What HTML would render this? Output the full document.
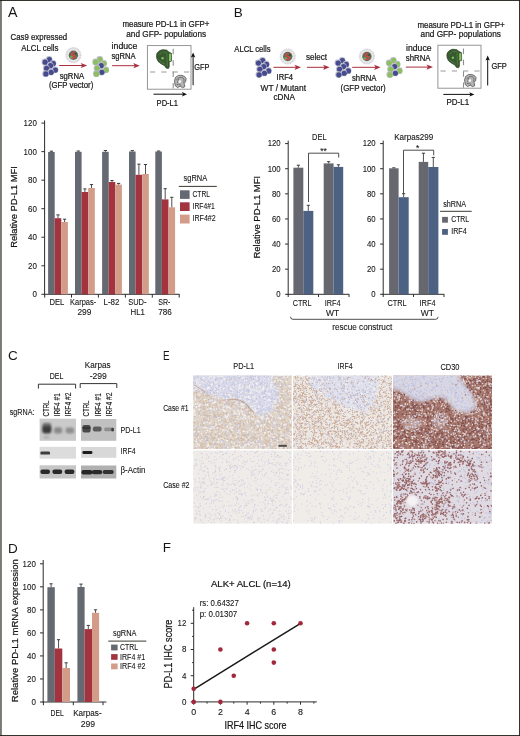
<!DOCTYPE html>
<html><head><meta charset="utf-8"><title>Figure</title>
<style>
html,body{margin:0;padding:0;background:#fff;}
body{width:520px;height:736px;overflow:hidden;position:relative;}
svg{position:absolute;left:0;top:0;display:block;filter:blur(0.3px);}
svg text{font-family:"Liberation Sans", sans-serif;}
</style></head><body>
<svg width="520" height="736" viewBox="0 0 520 736">
<rect x="0.00" y="0.00" width="520.00" height="736.00" fill="#fff"/>
<rect x="0.00" y="0.00" width="1.90" height="736.00" fill="#787873"/>
<rect x="0.00" y="0.00" width="520.00" height="0.90" fill="#1e1e18"/>
<rect x="519.10" y="0.00" width="0.90" height="736.00" fill="#1e1e18"/>
<rect x="0.00" y="735.10" width="520.00" height="0.90" fill="#1e1e18"/>
<text x="7.90" y="16.60" font-size="14.2" fill="#161616" stroke="#161616" stroke-width="0" text-anchor="start">A</text>
<text x="10.50" y="40.30" font-size="9" fill="#161616" stroke="#161616" stroke-width="0.22" text-anchor="start" textLength="56.70" lengthAdjust="spacingAndGlyphs">Cas9 expressed</text>
<text x="21.20" y="50.50" font-size="9" fill="#161616" stroke="#161616" stroke-width="0.22" text-anchor="start" textLength="37.30" lengthAdjust="spacingAndGlyphs">ALCL cells</text>
<g>
<circle cx="49.10" cy="59.40" r="3.35" fill="#b9bbca"/>
<circle cx="49.40" cy="59.65" r="2.6" fill="#474a8e"/>
<circle cx="44.90" cy="61.90" r="3.35" fill="#b9bbca"/>
<circle cx="45.20" cy="62.15" r="2.6" fill="#474a8e"/>
<circle cx="53.00" cy="63.30" r="3.35" fill="#b9bbca"/>
<circle cx="53.30" cy="63.55" r="2.6" fill="#474a8e"/>
<circle cx="50.20" cy="65.40" r="3.35" fill="#b9bbca"/>
<circle cx="50.50" cy="65.65" r="2.6" fill="#474a8e"/>
<circle cx="46.30" cy="68.20" r="3.35" fill="#b9bbca"/>
<circle cx="46.60" cy="68.45" r="2.6" fill="#474a8e"/>
<circle cx="55.10" cy="69.80" r="3.35" fill="#b9bbca"/>
<circle cx="55.40" cy="70.05" r="2.6" fill="#474a8e"/>
<circle cx="50.90" cy="72.10" r="3.35" fill="#b9bbca"/>
<circle cx="51.20" cy="72.35" r="2.6" fill="#474a8e"/>
<circle cx="45.60" cy="73.70" r="3.35" fill="#b9bbca"/>
<circle cx="45.90" cy="73.95" r="2.6" fill="#474a8e"/>
</g>
<circle cx="73.4" cy="55.2" r="7.6" fill="#e2dedf" stroke="#c4c2d2" stroke-width="0.9" stroke-dasharray="0.8 0.9"/>
<circle cx="73.4" cy="55.2" r="6.0" fill="#e6ebf4"/>
<circle cx="73.4" cy="55.2" r="4.7" fill="#5f6e4c"/>
<circle cx="71.4" cy="57.2" r="1.6" fill="#88a85c" opacity="0.8"/>
<circle cx="75.60000000000001" cy="53.6" r="1.2" fill="#3c4a3a" opacity="0.8"/>
<path d="M75.0,52.2 C70.80000000000001,51.6 70.60000000000001,54.800000000000004 73.4,55.2 C76.2,55.6 76.0,58.800000000000004 71.80000000000001,58.2" stroke="#d8404f" stroke-width="1.4" fill="none"/>
<line x1="59.20" y1="65.50" x2="84.20" y2="65.50" stroke="#a8303e" stroke-width="1.0"/>
<path d="M80.7,62.9 L87.2,65.5 L80.7,68.1 L82.2,65.5 Z" fill="#a8303e"/>
<text x="59.70" y="78.50" font-size="9" fill="#161616" stroke="#161616" stroke-width="0.22" text-anchor="start" textLength="24.40" lengthAdjust="spacingAndGlyphs">sgRNA</text>
<text x="48.90" y="88.10" font-size="9" fill="#161616" stroke="#161616" stroke-width="0.22" text-anchor="start" textLength="44.40" lengthAdjust="spacingAndGlyphs">(GFP vector)</text>
<g>
<circle cx="99.80" cy="59.40" r="3.35" fill="#b9bbca"/>
<circle cx="100.10" cy="59.65" r="2.6" fill="#8dbf5c"/>
<circle cx="95.60" cy="61.90" r="3.35" fill="#b9bbca"/>
<circle cx="95.90" cy="62.15" r="2.6" fill="#8dbf5c"/>
<circle cx="103.70" cy="63.30" r="3.35" fill="#b9bbca"/>
<circle cx="104.00" cy="63.55" r="2.6" fill="#8dbf5c"/>
<circle cx="100.90" cy="65.40" r="3.35" fill="#b9bbca"/>
<circle cx="101.20" cy="65.65" r="2.6" fill="#474a8e"/>
<circle cx="97.00" cy="68.20" r="3.35" fill="#b9bbca"/>
<circle cx="97.30" cy="68.45" r="2.6" fill="#8dbf5c"/>
<circle cx="105.80" cy="69.80" r="3.35" fill="#b9bbca"/>
<circle cx="106.10" cy="70.05" r="2.6" fill="#8dbf5c"/>
<circle cx="101.60" cy="72.10" r="3.35" fill="#b9bbca"/>
<circle cx="101.90" cy="72.35" r="2.6" fill="#474a8e"/>
<circle cx="96.30" cy="73.70" r="3.35" fill="#b9bbca"/>
<circle cx="96.60" cy="73.95" r="2.6" fill="#8dbf5c"/>
</g>
<text x="111.60" y="48.70" font-size="9" fill="#161616" stroke="#161616" stroke-width="0.22" text-anchor="start" textLength="25.70" lengthAdjust="spacingAndGlyphs">induce</text>
<text x="111.50" y="58.50" font-size="9" fill="#161616" stroke="#161616" stroke-width="0.22" text-anchor="start" textLength="24.20" lengthAdjust="spacingAndGlyphs">sgRNA</text>
<line x1="112.10" y1="65.70" x2="136.80" y2="65.70" stroke="#a8303e" stroke-width="1.0"/>
<path d="M133.3,63.1 L139.8,65.7 L133.3,68.3 L134.8,65.7 Z" fill="#a8303e"/>
<text x="122.40" y="27.40" font-size="9" fill="#161616" stroke="#161616" stroke-width="0.22" text-anchor="start" textLength="87.10" lengthAdjust="spacingAndGlyphs">measure PD-L1 in GFP+</text>
<text x="126.30" y="37.30" font-size="9" fill="#161616" stroke="#161616" stroke-width="0.22" text-anchor="start" textLength="79.80" lengthAdjust="spacingAndGlyphs">and GFP- populations</text>
<rect x="147.4" y="45.6" width="43.599999999999994" height="43.6" fill="#fff" stroke="#8a8a8a" stroke-width="0.9"/>
<line x1="150.00" y1="72.00" x2="190.00" y2="72.00" stroke="#9a9a9a" stroke-width="1.1" stroke-dasharray="5.2 6.1"/>
<line x1="173.20" y1="48.80" x2="173.20" y2="88.70" stroke="#8e8e8e" stroke-width="1.1" stroke-dasharray="5.5 5.9"/>
<path d="M157.00,53.30 L159.50,50.70 L162.50,49.70 L166.50,50.10 L168.80,51.90 L171.40,53.30 L171.50,61.10 L169.30,61.70 L169.20,66.90 L168.40,68.50 L166.20,68.10 L164.60,65.70 L161.00,63.70 L158.20,61.50 L156.80,58.60 L156.50,55.60Z" fill="#375a2f" stroke="#26381f" stroke-width="0.7"/>
<path d="M158.50,55.10 Q162.00,50.60 167.00,52.10 M158.60,59.60 Q161.00,63.10 165.00,64.10 M166.80,53.10 L167.40,66.10" fill="none" stroke="#5d8a4c" stroke-width="0.6"/>
<rect x="169.00" y="53.70" width="2.20" height="7.30" fill="#84c466"/>
<circle cx="162.60" cy="58.30" r="1.20" fill="#80c064"/>
<path d="M174.40,80.70 L175.60,77.30 L178.40,75.40 L181.80,75.30 L184.60,76.50 L186.20,78.70 L185.60,81.70 L184.20,83.50 L184.80,86.70 L182.60,87.70 L180.20,86.30 L177.60,87.50 L175.20,85.70Z" fill="#b4b4b4" stroke="#444" stroke-width="0.7"/>
<path d="M176.20,80.30 Q178.00,76.90 182.00,77.30 Q185.00,78.70 183.60,82.70 M176.60,84.70 Q179.00,83.30 181.20,85.50 M178.60,78.90 L177.40,83.10" fill="none" stroke="#4a4a4a" stroke-width="0.6"/>
<circle cx="179.80" cy="81.50" r="1.30" fill="#fff"/>
<line x1="193.10" y1="85.20" x2="193.10" y2="55.40" stroke="#111" stroke-width="1.0"/>
<path d="M190.9,57.4 L193.1,52.4 L195.29999999999998,57.4 L193.1,56.4 Z" fill="#111"/>
<text x="194.30" y="69.60" font-size="9" fill="#161616" stroke="#161616" stroke-width="0.22" text-anchor="start" textLength="15.20" lengthAdjust="spacingAndGlyphs">GFP</text>
<line x1="153.50" y1="94.20" x2="184.00" y2="94.20" stroke="#111" stroke-width="1.0"/>
<path d="M182.0,92.0 L187.0,94.2 L182.0,96.4 L183.0,94.2 Z" fill="#111"/>
<text x="156.60" y="105.80" font-size="9" fill="#161616" stroke="#161616" stroke-width="0.22" text-anchor="start" textLength="21.40" lengthAdjust="spacingAndGlyphs">PD-L1</text>
<text x="233.80" y="16.90" font-size="13.5" fill="#161616" stroke="#161616" stroke-width="0" text-anchor="start">B</text>
<text x="234.30" y="51.50" font-size="9" fill="#161616" stroke="#161616" stroke-width="0.22" text-anchor="start" textLength="36.30" lengthAdjust="spacingAndGlyphs">ALCL cells</text>
<g>
<circle cx="262.40" cy="60.30" r="3.35" fill="#b9bbca"/>
<circle cx="262.70" cy="60.55" r="2.6" fill="#474a8e"/>
<circle cx="258.20" cy="62.80" r="3.35" fill="#b9bbca"/>
<circle cx="258.50" cy="63.05" r="2.6" fill="#474a8e"/>
<circle cx="266.30" cy="64.20" r="3.35" fill="#b9bbca"/>
<circle cx="266.60" cy="64.45" r="2.6" fill="#474a8e"/>
<circle cx="263.50" cy="66.30" r="3.35" fill="#b9bbca"/>
<circle cx="263.80" cy="66.55" r="2.6" fill="#474a8e"/>
<circle cx="259.60" cy="69.10" r="3.35" fill="#b9bbca"/>
<circle cx="259.90" cy="69.35" r="2.6" fill="#474a8e"/>
<circle cx="268.40" cy="70.70" r="3.35" fill="#b9bbca"/>
<circle cx="268.70" cy="70.95" r="2.6" fill="#474a8e"/>
<circle cx="264.20" cy="73.00" r="3.35" fill="#b9bbca"/>
<circle cx="264.50" cy="73.25" r="2.6" fill="#474a8e"/>
<circle cx="258.90" cy="74.60" r="3.35" fill="#b9bbca"/>
<circle cx="259.20" cy="74.85" r="2.6" fill="#474a8e"/>
</g>
<circle cx="287.7" cy="56.5" r="7.6" fill="#e2dedf" stroke="#c4c2d2" stroke-width="0.9" stroke-dasharray="0.8 0.9"/>
<circle cx="287.7" cy="56.5" r="6.0" fill="#e6ebf4"/>
<circle cx="287.7" cy="56.5" r="4.7" fill="#5f6e4c"/>
<circle cx="285.7" cy="58.5" r="1.6" fill="#88a85c" opacity="0.8"/>
<circle cx="289.9" cy="54.9" r="1.2" fill="#3c4a3a" opacity="0.8"/>
<path d="M289.3,53.5 C285.09999999999997,52.9 284.9,56.1 287.7,56.5 C290.5,56.9 290.3,60.1 286.09999999999997,59.5" stroke="#d8404f" stroke-width="1.4" fill="none"/>
<line x1="273.40" y1="67.30" x2="298.00" y2="67.30" stroke="#a8303e" stroke-width="1.0"/>
<path d="M294.5,64.7 L301.0,67.3 L294.5,69.89999999999999 L296.0,67.3 Z" fill="#a8303e"/>
<text x="276.60" y="79.60" font-size="9" fill="#161616" stroke="#161616" stroke-width="0.22" text-anchor="start" textLength="16.50" lengthAdjust="spacingAndGlyphs">IRF4</text>
<text x="260.50" y="90.70" font-size="9" fill="#161616" stroke="#161616" stroke-width="0.22" text-anchor="start" textLength="45.50" lengthAdjust="spacingAndGlyphs">WT / Mutant</text>
<text x="273.50" y="100.40" font-size="9" fill="#161616" stroke="#161616" stroke-width="0.22" text-anchor="start" textLength="21.40" lengthAdjust="spacingAndGlyphs">cDNA</text>
<text x="305.90" y="60.40" font-size="9" fill="#161616" stroke="#161616" stroke-width="0.22" text-anchor="start" textLength="21.00" lengthAdjust="spacingAndGlyphs">select</text>
<line x1="306.90" y1="67.30" x2="326.60" y2="67.30" stroke="#a8303e" stroke-width="1.0"/>
<path d="M323.1,64.7 L329.6,67.3 L323.1,69.89999999999999 L324.6,67.3 Z" fill="#a8303e"/>
<g>
<circle cx="342.10" cy="60.30" r="3.35" fill="#b9bbca"/>
<circle cx="342.40" cy="60.55" r="2.6" fill="#474a8e"/>
<circle cx="337.90" cy="62.80" r="3.35" fill="#b9bbca"/>
<circle cx="338.20" cy="63.05" r="2.6" fill="#474a8e"/>
<circle cx="346.00" cy="64.20" r="3.35" fill="#b9bbca"/>
<circle cx="346.30" cy="64.45" r="2.6" fill="#474a8e"/>
<circle cx="343.20" cy="66.30" r="3.35" fill="#b9bbca"/>
<circle cx="343.50" cy="66.55" r="2.6" fill="#474a8e"/>
<circle cx="339.30" cy="69.10" r="3.35" fill="#b9bbca"/>
<circle cx="339.60" cy="69.35" r="2.6" fill="#474a8e"/>
<circle cx="348.10" cy="70.70" r="3.35" fill="#b9bbca"/>
<circle cx="348.40" cy="70.95" r="2.6" fill="#474a8e"/>
<circle cx="343.90" cy="73.00" r="3.35" fill="#b9bbca"/>
<circle cx="344.20" cy="73.25" r="2.6" fill="#474a8e"/>
<circle cx="338.60" cy="74.60" r="3.35" fill="#b9bbca"/>
<circle cx="338.90" cy="74.85" r="2.6" fill="#474a8e"/>
</g>
<circle cx="366.9" cy="56.5" r="7.6" fill="#e2dedf" stroke="#c4c2d2" stroke-width="0.9" stroke-dasharray="0.8 0.9"/>
<circle cx="366.9" cy="56.5" r="6.0" fill="#e6ebf4"/>
<circle cx="366.9" cy="56.5" r="4.7" fill="#5f6e4c"/>
<circle cx="364.9" cy="58.5" r="1.6" fill="#88a85c" opacity="0.8"/>
<circle cx="369.09999999999997" cy="54.9" r="1.2" fill="#3c4a3a" opacity="0.8"/>
<path d="M368.5,53.5 C364.29999999999995,52.9 364.09999999999997,56.1 366.9,56.5 C369.7,56.9 369.5,60.1 365.29999999999995,59.5" stroke="#d8404f" stroke-width="1.4" fill="none"/>
<line x1="352.20" y1="67.30" x2="377.60" y2="67.30" stroke="#a8303e" stroke-width="1.0"/>
<path d="M374.1,64.7 L380.6,67.3 L374.1,69.89999999999999 L375.6,67.3 Z" fill="#a8303e"/>
<text x="352.00" y="80.70" font-size="9" fill="#161616" stroke="#161616" stroke-width="0.22" text-anchor="start" textLength="24.50" lengthAdjust="spacingAndGlyphs">shRNA</text>
<text x="340.50" y="91.20" font-size="9" fill="#161616" stroke="#161616" stroke-width="0.22" text-anchor="start" textLength="45.20" lengthAdjust="spacingAndGlyphs">(GFP vector)</text>
<g>
<circle cx="393.30" cy="60.30" r="3.35" fill="#b9bbca"/>
<circle cx="393.60" cy="60.55" r="2.6" fill="#8dbf5c"/>
<circle cx="389.10" cy="62.80" r="3.35" fill="#b9bbca"/>
<circle cx="389.40" cy="63.05" r="2.6" fill="#8dbf5c"/>
<circle cx="397.20" cy="64.20" r="3.35" fill="#b9bbca"/>
<circle cx="397.50" cy="64.45" r="2.6" fill="#8dbf5c"/>
<circle cx="394.40" cy="66.30" r="3.35" fill="#b9bbca"/>
<circle cx="394.70" cy="66.55" r="2.6" fill="#474a8e"/>
<circle cx="390.50" cy="69.10" r="3.35" fill="#b9bbca"/>
<circle cx="390.80" cy="69.35" r="2.6" fill="#8dbf5c"/>
<circle cx="399.30" cy="70.70" r="3.35" fill="#b9bbca"/>
<circle cx="399.60" cy="70.95" r="2.6" fill="#8dbf5c"/>
<circle cx="395.10" cy="73.00" r="3.35" fill="#b9bbca"/>
<circle cx="395.40" cy="73.25" r="2.6" fill="#474a8e"/>
<circle cx="389.80" cy="74.60" r="3.35" fill="#b9bbca"/>
<circle cx="390.10" cy="74.85" r="2.6" fill="#8dbf5c"/>
</g>
<text x="406.10" y="50.50" font-size="9" fill="#161616" stroke="#161616" stroke-width="0.22" text-anchor="start" textLength="25.40" lengthAdjust="spacingAndGlyphs">induce</text>
<text x="405.80" y="60.80" font-size="9" fill="#161616" stroke="#161616" stroke-width="0.22" text-anchor="start" textLength="24.80" lengthAdjust="spacingAndGlyphs">shRNA</text>
<line x1="405.80" y1="67.10" x2="430.00" y2="67.10" stroke="#a8303e" stroke-width="1.0"/>
<path d="M426.5,64.5 L433.0,67.1 L426.5,69.69999999999999 L428.0,67.1 Z" fill="#a8303e"/>
<text x="417.40" y="27.90" font-size="9" fill="#161616" stroke="#161616" stroke-width="0.22" text-anchor="start" textLength="87.30" lengthAdjust="spacingAndGlyphs">measure PD-L1 in GFP+</text>
<text x="420.60" y="37.30" font-size="9" fill="#161616" stroke="#161616" stroke-width="0.22" text-anchor="start" textLength="80.30" lengthAdjust="spacingAndGlyphs">and GFP- populations</text>
<rect x="437.9" y="45.2" width="43.10000000000002" height="43.0" fill="#fff" stroke="#8a8a8a" stroke-width="0.9"/>
<line x1="440.50" y1="71.00" x2="480.00" y2="71.00" stroke="#9a9a9a" stroke-width="1.1" stroke-dasharray="5.2 6.1"/>
<line x1="463.50" y1="48.40" x2="463.50" y2="87.70" stroke="#8e8e8e" stroke-width="1.1" stroke-dasharray="5.5 5.9"/>
<path d="M447.36,52.78 L449.82,50.22 L452.77,49.24 L456.71,49.63 L458.98,51.41 L461.54,52.78 L461.64,60.47 L459.47,61.06 L459.37,66.18 L458.58,67.76 L456.42,67.36 L454.84,65.00 L451.30,63.03 L448.54,60.86 L447.16,58.01 L446.86,55.05Z" fill="#375a2f" stroke="#26381f" stroke-width="0.7"/>
<path d="M448.83,54.56 Q452.28,50.12 457.21,51.60 M448.93,58.99 Q451.30,62.44 455.24,63.42 M457.01,52.59 L457.60,65.39" fill="none" stroke="#5d8a4c" stroke-width="0.6"/>
<rect x="459.18" y="53.18" width="2.17" height="7.19" fill="#84c466"/>
<circle cx="452.87" cy="57.71" r="1.18" fill="#80c064"/>
<path d="M464.50,79.77 L465.68,76.42 L468.44,74.55 L471.78,74.45 L474.54,75.64 L476.12,77.80 L475.53,80.76 L474.15,82.53 L474.74,85.68 L472.57,86.67 L470.21,85.29 L467.65,86.47 L465.28,84.70Z" fill="#b4b4b4" stroke="#444" stroke-width="0.7"/>
<path d="M466.27,79.38 Q468.04,76.03 471.98,76.42 Q474.94,77.80 473.56,81.74 M466.66,83.71 Q469.03,82.33 471.19,84.50 M468.63,78.00 L467.45,82.14" fill="none" stroke="#4a4a4a" stroke-width="0.6"/>
<circle cx="469.81" cy="80.56" r="1.28" fill="#fff"/>
<line x1="487.70" y1="85.50" x2="487.70" y2="58.40" stroke="#111" stroke-width="1.0"/>
<path d="M485.5,60.4 L487.7,55.4 L489.9,60.4 L487.7,59.4 Z" fill="#111"/>
<text x="491.40" y="68.80" font-size="9" fill="#161616" stroke="#161616" stroke-width="0.22" text-anchor="start" textLength="15.40" lengthAdjust="spacingAndGlyphs">GFP</text>
<line x1="443.30" y1="94.40" x2="471.40" y2="94.40" stroke="#111" stroke-width="1.0"/>
<path d="M469.4,92.2 L474.4,94.4 L469.4,96.60000000000001 L470.4,94.4 Z" fill="#111"/>
<text x="446.50" y="105.20" font-size="9" fill="#161616" stroke="#161616" stroke-width="0.22" text-anchor="start" textLength="22.60" lengthAdjust="spacingAndGlyphs">PD-L1</text>
<line x1="44.60" y1="120.40" x2="44.60" y2="294.80" stroke="#2c2c2c" stroke-width="1.0"/>
<line x1="41.40" y1="294.30" x2="44.60" y2="294.30" stroke="#2c2c2c" stroke-width="1.0"/>
<text x="36.90" y="297.25" font-size="8.86" fill="#161616" stroke="#161616" stroke-width="0.1" text-anchor="end" textLength="4.43" lengthAdjust="spacingAndGlyphs">0</text>
<line x1="41.40" y1="265.77" x2="44.60" y2="265.77" stroke="#2c2c2c" stroke-width="1.0"/>
<text x="36.90" y="268.72" font-size="8.86" fill="#161616" stroke="#161616" stroke-width="0.1" text-anchor="end" textLength="8.86" lengthAdjust="spacingAndGlyphs">20</text>
<line x1="41.40" y1="237.23" x2="44.60" y2="237.23" stroke="#2c2c2c" stroke-width="1.0"/>
<text x="36.90" y="240.19" font-size="8.86" fill="#161616" stroke="#161616" stroke-width="0.1" text-anchor="end" textLength="8.86" lengthAdjust="spacingAndGlyphs">40</text>
<line x1="41.40" y1="208.70" x2="44.60" y2="208.70" stroke="#2c2c2c" stroke-width="1.0"/>
<text x="36.90" y="211.65" font-size="8.86" fill="#161616" stroke="#161616" stroke-width="0.1" text-anchor="end" textLength="8.86" lengthAdjust="spacingAndGlyphs">60</text>
<line x1="41.40" y1="180.17" x2="44.60" y2="180.17" stroke="#2c2c2c" stroke-width="1.0"/>
<text x="36.90" y="183.12" font-size="8.86" fill="#161616" stroke="#161616" stroke-width="0.1" text-anchor="end" textLength="8.86" lengthAdjust="spacingAndGlyphs">80</text>
<line x1="41.40" y1="151.63" x2="44.60" y2="151.63" stroke="#2c2c2c" stroke-width="1.0"/>
<text x="36.90" y="154.59" font-size="8.86" fill="#161616" stroke="#161616" stroke-width="0.1" text-anchor="end" textLength="13.28" lengthAdjust="spacingAndGlyphs">100</text>
<line x1="41.40" y1="123.10" x2="44.60" y2="123.10" stroke="#2c2c2c" stroke-width="1.0"/>
<text x="36.90" y="126.05" font-size="8.86" fill="#161616" stroke="#161616" stroke-width="0.1" text-anchor="end" textLength="13.28" lengthAdjust="spacingAndGlyphs">120</text>
<line x1="44.10" y1="294.30" x2="179.60" y2="294.30" stroke="#2c2c2c" stroke-width="1.0"/>
<line x1="44.70" y1="294.30" x2="44.70" y2="297.60" stroke="#2c2c2c" stroke-width="1.0"/>
<line x1="71.50" y1="294.30" x2="71.50" y2="297.60" stroke="#2c2c2c" stroke-width="1.0"/>
<line x1="98.40" y1="294.30" x2="98.40" y2="297.60" stroke="#2c2c2c" stroke-width="1.0"/>
<line x1="125.40" y1="294.30" x2="125.40" y2="297.60" stroke="#2c2c2c" stroke-width="1.0"/>
<line x1="152.30" y1="294.30" x2="152.30" y2="297.60" stroke="#2c2c2c" stroke-width="1.0"/>
<line x1="179.20" y1="294.30" x2="179.20" y2="297.60" stroke="#2c2c2c" stroke-width="1.0"/>
<rect x="48.10" y="152.00" width="6.60" height="142.30" fill="#656972"/>
<line x1="51.40" y1="152.00" x2="51.40" y2="151.20" stroke="#3c3c3c" stroke-width="0.9"/>
<line x1="49.80" y1="151.20" x2="53.00" y2="151.20" stroke="#3c3c3c" stroke-width="1.0"/>
<rect x="54.70" y="218.20" width="6.60" height="76.10" fill="#a2333f"/>
<line x1="58.00" y1="218.20" x2="58.00" y2="214.90" stroke="#3c3c3c" stroke-width="0.9"/>
<line x1="56.40" y1="214.90" x2="59.60" y2="214.90" stroke="#3c3c3c" stroke-width="1.0"/>
<rect x="61.30" y="222.00" width="6.60" height="72.30" fill="#d29c89"/>
<line x1="64.60" y1="222.00" x2="64.60" y2="219.20" stroke="#3c3c3c" stroke-width="0.9"/>
<line x1="63.00" y1="219.20" x2="66.20" y2="219.20" stroke="#3c3c3c" stroke-width="1.0"/>
<rect x="75.00" y="151.80" width="6.60" height="142.50" fill="#656972"/>
<line x1="78.30" y1="151.80" x2="78.30" y2="151.00" stroke="#3c3c3c" stroke-width="0.9"/>
<line x1="76.70" y1="151.00" x2="79.90" y2="151.00" stroke="#3c3c3c" stroke-width="1.0"/>
<rect x="81.60" y="192.00" width="6.60" height="102.30" fill="#a2333f"/>
<line x1="84.90" y1="192.00" x2="84.90" y2="188.90" stroke="#3c3c3c" stroke-width="0.9"/>
<line x1="83.30" y1="188.90" x2="86.50" y2="188.90" stroke="#3c3c3c" stroke-width="1.0"/>
<rect x="88.20" y="188.00" width="6.60" height="106.30" fill="#d29c89"/>
<line x1="91.50" y1="188.00" x2="91.50" y2="184.60" stroke="#3c3c3c" stroke-width="0.9"/>
<line x1="89.90" y1="184.60" x2="93.10" y2="184.60" stroke="#3c3c3c" stroke-width="1.0"/>
<rect x="102.10" y="151.80" width="6.60" height="142.50" fill="#656972"/>
<line x1="105.40" y1="151.80" x2="105.40" y2="150.50" stroke="#3c3c3c" stroke-width="0.9"/>
<line x1="103.80" y1="150.50" x2="107.00" y2="150.50" stroke="#3c3c3c" stroke-width="1.0"/>
<rect x="108.70" y="182.00" width="6.60" height="112.30" fill="#a2333f"/>
<line x1="112.00" y1="182.00" x2="112.00" y2="180.50" stroke="#3c3c3c" stroke-width="0.9"/>
<line x1="110.40" y1="180.50" x2="113.60" y2="180.50" stroke="#3c3c3c" stroke-width="1.0"/>
<rect x="115.30" y="184.60" width="6.60" height="109.70" fill="#d29c89"/>
<line x1="118.60" y1="184.60" x2="118.60" y2="183.40" stroke="#3c3c3c" stroke-width="0.9"/>
<line x1="117.00" y1="183.40" x2="120.20" y2="183.40" stroke="#3c3c3c" stroke-width="1.0"/>
<rect x="129.00" y="151.50" width="6.60" height="142.80" fill="#656972"/>
<line x1="132.30" y1="151.50" x2="132.30" y2="150.60" stroke="#3c3c3c" stroke-width="0.9"/>
<line x1="130.70" y1="150.60" x2="133.90" y2="150.60" stroke="#3c3c3c" stroke-width="1.0"/>
<rect x="135.60" y="174.80" width="6.60" height="119.50" fill="#a2333f"/>
<line x1="138.90" y1="174.80" x2="138.90" y2="164.20" stroke="#3c3c3c" stroke-width="0.9"/>
<line x1="137.30" y1="164.20" x2="140.50" y2="164.20" stroke="#3c3c3c" stroke-width="1.0"/>
<rect x="142.20" y="174.00" width="6.60" height="120.30" fill="#d29c89"/>
<line x1="145.50" y1="174.00" x2="145.50" y2="164.50" stroke="#3c3c3c" stroke-width="0.9"/>
<line x1="143.90" y1="164.50" x2="147.10" y2="164.50" stroke="#3c3c3c" stroke-width="1.0"/>
<rect x="155.30" y="151.50" width="6.60" height="142.80" fill="#656972"/>
<line x1="158.60" y1="151.50" x2="158.60" y2="151.00" stroke="#3c3c3c" stroke-width="0.9"/>
<line x1="157.00" y1="151.00" x2="160.20" y2="151.00" stroke="#3c3c3c" stroke-width="1.0"/>
<rect x="161.90" y="199.40" width="6.60" height="94.90" fill="#a2333f"/>
<line x1="165.20" y1="199.40" x2="165.20" y2="188.70" stroke="#3c3c3c" stroke-width="0.9"/>
<line x1="163.60" y1="188.70" x2="166.80" y2="188.70" stroke="#3c3c3c" stroke-width="1.0"/>
<rect x="168.50" y="207.30" width="6.60" height="87.00" fill="#d29c89"/>
<line x1="171.80" y1="207.30" x2="171.80" y2="197.30" stroke="#3c3c3c" stroke-width="0.9"/>
<line x1="170.20" y1="197.30" x2="173.40" y2="197.30" stroke="#3c3c3c" stroke-width="1.0"/>
<text x="49.40" y="305.20" font-size="8.86" fill="#161616" stroke="#161616" stroke-width="0.1" text-anchor="start" textLength="14.90" lengthAdjust="spacingAndGlyphs">DEL</text>
<text x="70.00" y="305.20" font-size="8.86" fill="#161616" stroke="#161616" stroke-width="0.1" text-anchor="start" textLength="26.20" lengthAdjust="spacingAndGlyphs">Karpas-</text>
<text x="77.40" y="315.30" font-size="8.86" fill="#161616" stroke="#161616" stroke-width="0.1" text-anchor="start" textLength="14.00" lengthAdjust="spacingAndGlyphs">299</text>
<text x="103.50" y="305.20" font-size="8.86" fill="#161616" stroke="#161616" stroke-width="0.1" text-anchor="start" textLength="16.00" lengthAdjust="spacingAndGlyphs">L-82</text>
<text x="128.20" y="305.20" font-size="8.86" fill="#161616" stroke="#161616" stroke-width="0.1" text-anchor="start" textLength="18.30" lengthAdjust="spacingAndGlyphs">SUD-</text>
<text x="130.50" y="315.30" font-size="8.86" fill="#161616" stroke="#161616" stroke-width="0.1" text-anchor="start" textLength="14.40" lengthAdjust="spacingAndGlyphs">HL1</text>
<text x="158.20" y="305.20" font-size="8.86" fill="#161616" stroke="#161616" stroke-width="0.1" text-anchor="start" textLength="12.10" lengthAdjust="spacingAndGlyphs">SR-</text>
<text x="158.20" y="315.30" font-size="8.86" fill="#161616" stroke="#161616" stroke-width="0.1" text-anchor="start" textLength="13.60" lengthAdjust="spacingAndGlyphs">786</text>
<text x="16.70" y="207.00" font-size="9.4" fill="#161616" stroke="#161616" stroke-width="0.22" text-anchor="middle" textLength="81.60" lengthAdjust="spacingAndGlyphs" transform="rotate(-90 16.70 207.00)">Relative PD-L1 MFI</text>
<text x="183.50" y="181.30" font-size="8.64" fill="#161616" stroke="#161616" stroke-width="0.1" text-anchor="start" textLength="23.70" lengthAdjust="spacingAndGlyphs">sgRNA</text>
<line x1="178.80" y1="186.40" x2="216.80" y2="186.40" stroke="#3a3a30" stroke-width="1.0"/>
<rect x="180.00" y="190.30" width="9.60" height="8.60" fill="#656972"/>
<rect x="180.00" y="202.30" width="9.60" height="8.70" fill="#a2333f"/>
<rect x="180.00" y="214.60" width="9.60" height="8.90" fill="#d29c89"/>
<text x="192.50" y="197.00" font-size="8.64" fill="#161616" stroke="#161616" stroke-width="0.1" text-anchor="start" textLength="17.40" lengthAdjust="spacingAndGlyphs">CTRL</text>
<text x="192.50" y="208.60" font-size="8.64" fill="#161616" stroke="#161616" stroke-width="0.1" text-anchor="start" textLength="22.20" lengthAdjust="spacingAndGlyphs">IRF4#1</text>
<text x="192.50" y="220.80" font-size="8.64" fill="#161616" stroke="#161616" stroke-width="0.1" text-anchor="start" textLength="23.20" lengthAdjust="spacingAndGlyphs">IRF4#2</text>
<line x1="288.20" y1="140.60" x2="288.20" y2="294.80" stroke="#2c2c2c" stroke-width="1.0"/>
<line x1="285.10" y1="294.30" x2="288.20" y2="294.30" stroke="#2c2c2c" stroke-width="1.0"/>
<text x="280.60" y="297.18" font-size="8.64" fill="#161616" stroke="#161616" stroke-width="0.1" text-anchor="end" textLength="4.32" lengthAdjust="spacingAndGlyphs">0</text>
<line x1="285.10" y1="269.18" x2="288.20" y2="269.18" stroke="#2c2c2c" stroke-width="1.0"/>
<text x="280.60" y="272.06" font-size="8.64" fill="#161616" stroke="#161616" stroke-width="0.1" text-anchor="end" textLength="8.64" lengthAdjust="spacingAndGlyphs">20</text>
<line x1="285.10" y1="244.07" x2="288.20" y2="244.07" stroke="#2c2c2c" stroke-width="1.0"/>
<text x="280.60" y="246.95" font-size="8.64" fill="#161616" stroke="#161616" stroke-width="0.1" text-anchor="end" textLength="8.64" lengthAdjust="spacingAndGlyphs">40</text>
<line x1="285.10" y1="218.95" x2="288.20" y2="218.95" stroke="#2c2c2c" stroke-width="1.0"/>
<text x="280.60" y="221.83" font-size="8.64" fill="#161616" stroke="#161616" stroke-width="0.1" text-anchor="end" textLength="8.64" lengthAdjust="spacingAndGlyphs">60</text>
<line x1="285.10" y1="193.83" x2="288.20" y2="193.83" stroke="#2c2c2c" stroke-width="1.0"/>
<text x="280.60" y="196.71" font-size="8.64" fill="#161616" stroke="#161616" stroke-width="0.1" text-anchor="end" textLength="8.64" lengthAdjust="spacingAndGlyphs">80</text>
<line x1="285.10" y1="168.72" x2="288.20" y2="168.72" stroke="#2c2c2c" stroke-width="1.0"/>
<text x="280.60" y="171.60" font-size="8.64" fill="#161616" stroke="#161616" stroke-width="0.1" text-anchor="end" textLength="12.96" lengthAdjust="spacingAndGlyphs">100</text>
<line x1="285.10" y1="143.60" x2="288.20" y2="143.60" stroke="#2c2c2c" stroke-width="1.0"/>
<text x="280.60" y="146.48" font-size="8.64" fill="#161616" stroke="#161616" stroke-width="0.1" text-anchor="end" textLength="12.96" lengthAdjust="spacingAndGlyphs">120</text>
<line x1="287.70" y1="294.30" x2="349.20" y2="294.30" stroke="#2c2c2c" stroke-width="1.0"/>
<line x1="288.20" y1="294.30" x2="288.20" y2="297.00" stroke="#2c2c2c" stroke-width="1.0"/>
<line x1="318.50" y1="294.30" x2="318.50" y2="297.00" stroke="#2c2c2c" stroke-width="1.0"/>
<line x1="349.00" y1="294.30" x2="349.00" y2="297.00" stroke="#2c2c2c" stroke-width="1.0"/>
<text x="312.10" y="139.70" font-size="8.42" fill="#161616" stroke="#161616" stroke-width="0.1" text-anchor="start" textLength="14.50" lengthAdjust="spacingAndGlyphs">DEL</text>
<line x1="383.20" y1="140.60" x2="383.20" y2="294.80" stroke="#2c2c2c" stroke-width="1.0"/>
<line x1="380.10" y1="294.30" x2="383.20" y2="294.30" stroke="#2c2c2c" stroke-width="1.0"/>
<text x="375.60" y="297.18" font-size="8.64" fill="#161616" stroke="#161616" stroke-width="0.1" text-anchor="end" textLength="4.32" lengthAdjust="spacingAndGlyphs">0</text>
<line x1="380.10" y1="269.18" x2="383.20" y2="269.18" stroke="#2c2c2c" stroke-width="1.0"/>
<text x="375.60" y="272.06" font-size="8.64" fill="#161616" stroke="#161616" stroke-width="0.1" text-anchor="end" textLength="8.64" lengthAdjust="spacingAndGlyphs">20</text>
<line x1="380.10" y1="244.07" x2="383.20" y2="244.07" stroke="#2c2c2c" stroke-width="1.0"/>
<text x="375.60" y="246.95" font-size="8.64" fill="#161616" stroke="#161616" stroke-width="0.1" text-anchor="end" textLength="8.64" lengthAdjust="spacingAndGlyphs">40</text>
<line x1="380.10" y1="218.95" x2="383.20" y2="218.95" stroke="#2c2c2c" stroke-width="1.0"/>
<text x="375.60" y="221.83" font-size="8.64" fill="#161616" stroke="#161616" stroke-width="0.1" text-anchor="end" textLength="8.64" lengthAdjust="spacingAndGlyphs">60</text>
<line x1="380.10" y1="193.83" x2="383.20" y2="193.83" stroke="#2c2c2c" stroke-width="1.0"/>
<text x="375.60" y="196.71" font-size="8.64" fill="#161616" stroke="#161616" stroke-width="0.1" text-anchor="end" textLength="8.64" lengthAdjust="spacingAndGlyphs">80</text>
<line x1="380.10" y1="168.72" x2="383.20" y2="168.72" stroke="#2c2c2c" stroke-width="1.0"/>
<text x="375.60" y="171.60" font-size="8.64" fill="#161616" stroke="#161616" stroke-width="0.1" text-anchor="end" textLength="12.96" lengthAdjust="spacingAndGlyphs">100</text>
<line x1="380.10" y1="143.60" x2="383.20" y2="143.60" stroke="#2c2c2c" stroke-width="1.0"/>
<text x="375.60" y="146.48" font-size="8.64" fill="#161616" stroke="#161616" stroke-width="0.1" text-anchor="end" textLength="12.96" lengthAdjust="spacingAndGlyphs">120</text>
<line x1="382.70" y1="294.30" x2="444.20" y2="294.30" stroke="#2c2c2c" stroke-width="1.0"/>
<line x1="383.20" y1="294.30" x2="383.20" y2="297.00" stroke="#2c2c2c" stroke-width="1.0"/>
<line x1="413.50" y1="294.30" x2="413.50" y2="297.00" stroke="#2c2c2c" stroke-width="1.0"/>
<line x1="444.00" y1="294.30" x2="444.00" y2="297.00" stroke="#2c2c2c" stroke-width="1.0"/>
<text x="394.20" y="139.70" font-size="8.42" fill="#161616" stroke="#161616" stroke-width="0.1" text-anchor="start" textLength="39.00" lengthAdjust="spacingAndGlyphs">Karpas299</text>
<rect x="293.40" y="167.70" width="9.90" height="126.60" fill="#66676f"/>
<line x1="298.35" y1="167.70" x2="298.35" y2="165.20" stroke="#3c3c3c" stroke-width="0.9"/>
<line x1="296.75" y1="165.20" x2="299.95" y2="165.20" stroke="#3c3c3c" stroke-width="1.0"/>
<rect x="303.30" y="210.90" width="10.00" height="83.40" fill="#4d6283"/>
<line x1="308.30" y1="210.90" x2="308.30" y2="205.30" stroke="#3c3c3c" stroke-width="0.9"/>
<line x1="306.70" y1="205.30" x2="309.90" y2="205.30" stroke="#3c3c3c" stroke-width="1.0"/>
<rect x="323.70" y="163.40" width="9.90" height="130.90" fill="#66676f"/>
<line x1="328.65" y1="163.40" x2="328.65" y2="161.70" stroke="#3c3c3c" stroke-width="0.9"/>
<line x1="327.05" y1="161.70" x2="330.25" y2="161.70" stroke="#3c3c3c" stroke-width="1.0"/>
<rect x="333.60" y="166.90" width="9.60" height="127.40" fill="#4d6283"/>
<line x1="338.40" y1="166.90" x2="338.40" y2="164.80" stroke="#3c3c3c" stroke-width="0.9"/>
<line x1="336.80" y1="164.80" x2="340.00" y2="164.80" stroke="#3c3c3c" stroke-width="1.0"/>
<rect x="389.10" y="168.30" width="9.50" height="126.00" fill="#66676f"/>
<line x1="392.25" y1="167.80" x2="395.45" y2="167.80" stroke="#3c3c3c" stroke-width="1.0"/>
<rect x="398.60" y="197.20" width="10.10" height="97.10" fill="#4d6283"/>
<line x1="403.65" y1="197.20" x2="403.65" y2="193.70" stroke="#3c3c3c" stroke-width="0.9"/>
<line x1="402.05" y1="193.70" x2="405.25" y2="193.70" stroke="#3c3c3c" stroke-width="1.0"/>
<rect x="418.70" y="161.90" width="9.50" height="132.40" fill="#66676f"/>
<line x1="423.45" y1="161.90" x2="423.45" y2="153.20" stroke="#3c3c3c" stroke-width="0.9"/>
<line x1="421.85" y1="153.20" x2="425.05" y2="153.20" stroke="#3c3c3c" stroke-width="1.0"/>
<rect x="428.20" y="167.00" width="10.20" height="127.30" fill="#4d6283"/>
<line x1="433.30" y1="167.00" x2="433.30" y2="157.40" stroke="#3c3c3c" stroke-width="0.9"/>
<line x1="431.70" y1="157.40" x2="434.90" y2="157.40" stroke="#3c3c3c" stroke-width="1.0"/>
<path d="M308.5,202 L308.5,153.2 L338.7,153.2 L338.7,157.5" fill="none" stroke="#3a3a3a" stroke-width="0.9"/>
<text x="323.50" y="153.60" font-size="8.42" fill="#161616" stroke="#161616" stroke-width="0.1" text-anchor="middle">**</text>
<path d="M403.5,193.4 L403.5,150.2 L433.7,150.2 L433.7,155.3" fill="none" stroke="#3a3a3a" stroke-width="0.9"/>
<text x="417.70" y="151.00" font-size="8.42" fill="#161616" stroke="#161616" stroke-width="0.1" text-anchor="middle">*</text>
<text x="292.70" y="305.50" font-size="8.64" fill="#161616" stroke="#161616" stroke-width="0.1" text-anchor="start" textLength="18.80" lengthAdjust="spacingAndGlyphs">CTRL</text>
<text x="324.80" y="305.50" font-size="8.64" fill="#161616" stroke="#161616" stroke-width="0.1" text-anchor="start" textLength="15.80" lengthAdjust="spacingAndGlyphs">IRF4</text>
<text x="326.10" y="315.60" font-size="8.64" fill="#161616" stroke="#161616" stroke-width="0.1" text-anchor="start" textLength="13.20" lengthAdjust="spacingAndGlyphs">WT</text>
<text x="387.40" y="305.50" font-size="8.64" fill="#161616" stroke="#161616" stroke-width="0.1" text-anchor="start" textLength="19.20" lengthAdjust="spacingAndGlyphs">CTRL</text>
<text x="419.50" y="305.50" font-size="8.64" fill="#161616" stroke="#161616" stroke-width="0.1" text-anchor="start" textLength="16.00" lengthAdjust="spacingAndGlyphs">IRF4</text>
<text x="420.70" y="315.60" font-size="8.64" fill="#161616" stroke="#161616" stroke-width="0.1" text-anchor="start" textLength="13.20" lengthAdjust="spacingAndGlyphs">WT</text>
<path d="M290.5,316.8 Q290.5,319.3 293,319.3 L435.6,319.3 Q438.1,319.3 438.1,316.8" fill="none" stroke="#3a3a3a" stroke-width="0.9"/>
<text x="332.20" y="330.40" font-size="8.64" fill="#161616" stroke="#161616" stroke-width="0.1" text-anchor="start" textLength="60.10" lengthAdjust="spacingAndGlyphs">rescue construct</text>
<text x="260.40" y="217.20" font-size="9.4" fill="#161616" stroke="#161616" stroke-width="0.22" text-anchor="middle" textLength="82.60" lengthAdjust="spacingAndGlyphs" transform="rotate(-90 260.40 217.20)">Relative PD-L1 MFI</text>
<text x="443.20" y="206.80" font-size="8.21" fill="#161616" stroke="#161616" stroke-width="0.1" text-anchor="start" textLength="22.80" lengthAdjust="spacingAndGlyphs">shRNA</text>
<line x1="440.10" y1="211.30" x2="471.70" y2="211.30" stroke="#3a3a30" stroke-width="1.0"/>
<rect x="442.10" y="216.90" width="5.80" height="5.80" fill="#66676f"/>
<rect x="442.10" y="229.00" width="5.80" height="5.80" fill="#4d6283"/>
<text x="451.20" y="222.30" font-size="8.21" fill="#161616" stroke="#161616" stroke-width="0.1" text-anchor="start" textLength="17.90" lengthAdjust="spacingAndGlyphs">CTRL</text>
<text x="451.20" y="234.40" font-size="8.21" fill="#161616" stroke="#161616" stroke-width="0.1" text-anchor="start" textLength="15.40" lengthAdjust="spacingAndGlyphs">IRF4</text>
<text x="8.00" y="360.30" font-size="13.5" fill="#161616" stroke="#161616" stroke-width="0" text-anchor="start">C</text>
<text x="49.70" y="378.50" font-size="8.86" fill="#161616" stroke="#161616" stroke-width="0.1" text-anchor="start" textLength="13.70" lengthAdjust="spacingAndGlyphs">DEL</text>
<text x="84.80" y="367.70" font-size="8.86" fill="#161616" stroke="#161616" stroke-width="0.1" text-anchor="start" textLength="25.80" lengthAdjust="spacingAndGlyphs">Karpas</text>
<text x="89.70" y="378.50" font-size="8.86" fill="#161616" stroke="#161616" stroke-width="0.1" text-anchor="start" textLength="17.20" lengthAdjust="spacingAndGlyphs">-299</text>
<path d="M38.4,388.6 L38.4,384.2 L75.6,384.2 L75.6,388.6" fill="none" stroke="#333" stroke-width="1"/>
<path d="M80.2,388.0 L80.2,383.6 L116.8,383.6 L116.8,388.0" fill="none" stroke="#333" stroke-width="1"/>
<text x="9.70" y="415.40" font-size="8.86" fill="#161616" stroke="#161616" stroke-width="0.1" text-anchor="start" textLength="24.80" lengthAdjust="spacingAndGlyphs">sgRNA:</text>
<text x="48.60" y="416.40" font-size="8.86" fill="#161616" stroke="#161616" stroke-width="0.1" text-anchor="start" textLength="15.90" lengthAdjust="spacingAndGlyphs" transform="rotate(-90 48.60 416.40)">CTRL</text>
<text x="60.10" y="416.40" font-size="8.86" fill="#161616" stroke="#161616" stroke-width="0.1" text-anchor="start" textLength="23.20" lengthAdjust="spacingAndGlyphs" transform="rotate(-90 60.10 416.40)">IRF4 #1</text>
<text x="71.40" y="416.40" font-size="8.86" fill="#161616" stroke="#161616" stroke-width="0.1" text-anchor="start" textLength="23.90" lengthAdjust="spacingAndGlyphs" transform="rotate(-90 71.40 416.40)">IRF4 #2</text>
<text x="89.20" y="416.40" font-size="8.86" fill="#161616" stroke="#161616" stroke-width="0.1" text-anchor="start" textLength="15.90" lengthAdjust="spacingAndGlyphs" transform="rotate(-90 89.20 416.40)">CTRL</text>
<text x="100.80" y="416.40" font-size="8.86" fill="#161616" stroke="#161616" stroke-width="0.1" text-anchor="start" textLength="23.20" lengthAdjust="spacingAndGlyphs" transform="rotate(-90 100.80 416.40)">IRF4 #1</text>
<text x="112.30" y="416.40" font-size="8.86" fill="#161616" stroke="#161616" stroke-width="0.1" text-anchor="start" textLength="23.90" lengthAdjust="spacingAndGlyphs" transform="rotate(-90 112.30 416.40)">IRF4 #2</text>
<defs><filter id="bl1" x="-50%" y="-50%" width="200%" height="200%"><feGaussianBlur stdDeviation="1.1"/></filter><filter id="bl2" x="-50%" y="-50%" width="200%" height="200%"><feGaussianBlur stdDeviation="0.7"/></filter><filter id="bl3" x="-50%" y="-50%" width="200%" height="200%"><feGaussianBlur stdDeviation="0.5"/></filter></defs>
<rect x="39.60" y="418.70" width="36.40" height="22.10" fill="#cacaca"/>
<g filter="url(#bl1)"><rect x="42.2" y="424.5" width="9.2" height="9.0" rx="3" fill="#3a3a3a"/><rect x="42.6" y="423.0" width="8.4" height="3" rx="1.5" fill="#6a6a6a"/><rect x="54.0" y="427.2" width="8.2" height="6.2" rx="2.5" fill="#8a8a8a"/><rect x="65.6" y="427.4" width="8.6" height="6.0" rx="2.5" fill="#8e8e8e"/><rect x="43.5" y="436.6" width="6" height="1.6" rx="0.8" fill="#a0a0a0"/></g>
<rect x="81.00" y="419.00" width="35.30" height="21.80" fill="#c0c0c0"/>
<g filter="url(#bl2)"><rect x="82.4" y="425.0" width="8.2" height="7.4" rx="2" fill="#4a4a4a"/><rect x="82.4" y="427.4" width="8.2" height="1.2" fill="#2a2a2a"/><rect x="92.8" y="426.6" width="8.8" height="5.0" rx="2" fill="#5c5c5c"/><rect x="104.2" y="427.6" width="9.6" height="3.6" rx="1.5" fill="#8e8e8e"/><ellipse cx="112.6" cy="429.6" rx="1.4" ry="1.9" fill="#3a3a3a"/></g>
<rect x="39.60" y="446.80" width="36.40" height="11.90" fill="#dcdcdc"/>
<rect x="81.00" y="447.00" width="35.30" height="10.80" fill="#d8d8d8"/>
<g filter="url(#bl3)"><rect x="40.4" y="451.6" width="9.6" height="3.0" rx="1.2" fill="#3c3c3c"/><rect x="82.4" y="451.0" width="10.0" height="3.0" rx="1.2" fill="#1e1e1e"/></g>
<rect x="39.60" y="465.30" width="36.40" height="13.20" fill="#c6c6c6"/>
<rect x="81.00" y="465.50" width="35.30" height="13.00" fill="#b0b0b0"/>
<g filter="url(#bl3)"><rect x="40.4" y="469.4" width="9.6" height="4.6" rx="2" fill="#2a2a2a"/><rect x="52.4" y="469.4" width="9.8" height="4.6" rx="2" fill="#2a2a2a"/><rect x="64.6" y="469.4" width="9.8" height="4.6" rx="2" fill="#2a2a2a"/><rect x="81.4" y="470.0" width="11" height="4.6" rx="2" fill="#282828"/><rect x="91.8" y="469.9" width="10.4" height="4.4" rx="2" fill="#2c2c2c"/><rect x="102.6" y="469.9" width="11.2" height="4.0" rx="2" fill="#303030"/></g>
<text x="120.50" y="432.60" font-size="9.07" fill="#161616" stroke="#161616" stroke-width="0.1" text-anchor="start" textLength="20.10" lengthAdjust="spacingAndGlyphs">PD-L1</text>
<text x="120.50" y="453.90" font-size="9.07" fill="#161616" stroke="#161616" stroke-width="0.1" text-anchor="start" textLength="15.00" lengthAdjust="spacingAndGlyphs">IRF4</text>
<text x="120.50" y="473.20" font-size="9.07" fill="#161616" stroke="#161616" stroke-width="0.1" text-anchor="start" textLength="24.90" lengthAdjust="spacingAndGlyphs">β-Actin</text>
<text x="163.00" y="360.00" font-size="13.5" fill="#161616" stroke="#161616" stroke-width="0" text-anchor="start" textLength="6.60" lengthAdjust="spacingAndGlyphs">E</text>
<text x="233.30" y="369.40" font-size="8.86" fill="#161616" stroke="#161616" stroke-width="0.1" text-anchor="start" textLength="20.80" lengthAdjust="spacingAndGlyphs">PD-L1</text>
<text x="337.60" y="369.40" font-size="8.86" fill="#161616" stroke="#161616" stroke-width="0.1" text-anchor="start" textLength="15.00" lengthAdjust="spacingAndGlyphs">IRF4</text>
<text x="440.50" y="369.50" font-size="8.86" fill="#161616" stroke="#161616" stroke-width="0.1" text-anchor="start" textLength="19.00" lengthAdjust="spacingAndGlyphs">CD30</text>
<text x="163.20" y="410.80" font-size="8.86" fill="#161616" stroke="#161616" stroke-width="0.1" text-anchor="start" textLength="25.40" lengthAdjust="spacingAndGlyphs">Case #1</text>
<text x="163.20" y="487.70" font-size="8.86" fill="#161616" stroke="#161616" stroke-width="0.1" text-anchor="start" textLength="26.30" lengthAdjust="spacingAndGlyphs">Case #2</text>
<defs>
<filter id="soft" x="-30%" y="-30%" width="160%" height="160%"><feGaussianBlur stdDeviation="2.2"/></filter>
<filter id="dsoft" x="0" y="0" width="100%" height="100%"><feGaussianBlur stdDeviation="0.55"/></filter>
<clipPath id="c11"><rect x="193.2" y="375.4" width="98.6" height="73.6"/></clipPath>
<clipPath id="c12"><rect x="293.0" y="375.4" width="99.2" height="73.6"/></clipPath>
<clipPath id="c13"><rect x="393.0" y="375.4" width="99.1" height="73.6"/></clipPath>
<clipPath id="c21"><rect x="193.2" y="450.3" width="98.6" height="73.4"/></clipPath>
<clipPath id="c22"><rect x="293.0" y="450.3" width="99.2" height="73.4"/></clipPath>
<clipPath id="c23"><rect x="393.0" y="450.3" width="99.1" height="73.4"/></clipPath>
</defs>
<g clip-path="url(#c11)">
<rect x="193.20" y="375.40" width="98.60" height="73.60" fill="#ded3c8"/>
<path d="M189.2,371.4 L269.2,371.4 L272.5,378.5 L276.7,386.9 L278.9,397.5 L274.6,408.1 L266.2,414.4 L257.7,415.5 L251.3,410.2 L242.9,401.7 L232.3,398.6 L226.0,399.6 L211.2,395.4 L189.2,385.9Z" fill="#d8daea" filter="url(#soft)"/>
<g filter="url(#dsoft)">
<path d="M239.1 412.8h0M211.4 413.1h0M271.4 382.3h0M202.1 435.0h0M257.7 420.7h0M194.7 414.3h0M212.0 393.2h0M244.4 422.5h0M258.5 409.1h0M263.0 398.6h0M221.7 380.6h0M232.7 437.7h0M287.7 437.8h0M213.9 442.4h0M289.9 404.7h0M255.3 432.7h0M267.9 384.1h0M203.2 379.8h0M210.7 416.6h0M212.0 429.3h0M256.7 384.0h0M214.2 394.4h0M225.6 397.2h0M202.1 418.3h0M252.5 402.8h0M287.8 411.0h0M278.6 388.9h0M282.8 435.6h0M252.7 406.4h0M197.0 446.3h0M252.0 397.0h0M264.2 380.5h0M248.4 438.1h0M220.8 442.9h0M194.8 395.2h0M199.2 388.4h0M249.6 385.1h0M281.0 447.6h0M261.4 418.4h0M262.3 446.3h0M255.9 410.9h0M224.6 449.0h0M265.9 427.2h0M283.4 401.3h0M282.0 439.5h0M271.1 439.0h0M254.8 403.5h0M253.2 381.3h0M291.1 440.2h0M231.5 429.5h0M236.6 437.1h0M267.2 377.6h0M240.6 392.3h0M218.4 376.2h0M260.1 390.3h0M282.5 424.0h0M281.1 399.5h0M283.3 440.2h0M250.7 398.7h0M263.3 445.3h0M209.9 408.6h0M214.3 405.9h0M290.0 408.7h0M196.3 439.6h0M263.1 417.4h0M271.2 376.8h0M216.6 385.8h0M255.2 408.3h0M260.7 390.1h0M210.8 376.2h0M263.6 388.6h0M227.3 426.7h0M253.8 431.1h0M271.3 442.1h0M285.2 428.6h0M271.8 444.9h0M257.4 390.5h0M273.9 422.6h0M289.6 414.9h0M227.6 381.5h0M247.5 431.9h0M196.0 435.0h0M272.1 388.1h0M270.9 385.7h0M261.2 445.0h0M286.8 381.7h0M245.1 396.8h0M248.4 398.3h0M276.5 441.7h0M277.1 446.7h0M249.7 390.2h0M242.8 419.9h0M288.8 413.4h0M272.2 416.8h0M261.3 380.3h0M219.7 410.2h0M240.2 398.7h0M254.1 443.5h0M270.0 377.1h0M215.6 426.0h0M228.2 421.0h0M265.3 384.4h0M217.9 390.0h0M236.3 403.1h0M245.4 387.2h0M255.4 422.4h0M282.2 398.6h0M280.7 385.3h0M264.8 394.5h0M275.3 406.4h0M205.6 405.0h0M195.0 390.2h0M283.1 446.7h0M243.1 431.2h0M260.8 389.3h0M203.7 378.2h0M244.0 417.3h0M290.8 443.6h0M199.3 445.4h0M268.6 399.5h0M244.0 407.1h0M211.1 408.8h0M233.2 389.8h0M255.3 405.2h0M218.7 442.5h0M269.9 435.4h0M281.6 440.2h0M268.9 431.7h0M264.5 380.6h0M239.4 376.2h0M256.2 421.3h0M286.3 424.4h0M258.3 417.3h0M231.6 449.0h0M195.5 420.7h0M218.5 405.0h0M212.5 403.0h0M217.9 442.1h0M243.3 446.6h0M200.7 419.4h0M197.6 443.9h0M239.7 387.8h0M234.7 414.2h0M229.2 396.4h0M248.5 396.3h0M222.4 376.4h0M197.4 386.9h0M231.6 441.5h0M200.4 442.0h0M240.3 447.0h0M244.8 444.4h0M252.7 383.9h0M238.1 390.4h0M245.3 384.6h0M259.1 408.9h0M250.6 406.3h0M265.6 392.9h0M281.2 433.1h0M228.6 395.4h0M248.9 418.9h0M267.5 389.4h0M197.1 379.9h0M235.1 421.3h0M246.6 380.7h0M259.9 415.9h0M230.0 410.6h0M254.7 432.0h0M225.3 415.8h0M284.0 406.9h0M202.8 439.8h0M201.4 416.9h0M260.8 397.4h0M200.7 391.1h0M201.3 397.8h0M261.6 396.2h0M228.5 428.8h0M204.8 427.6h0M236.4 434.5h0M281.4 393.7h0M229.2 402.1h0M231.4 389.7h0M248.7 388.4h0M280.1 396.1h0M244.0 415.4h0M199.5 415.6h0M201.5 381.4h0M281.8 381.6h0M207.4 430.3h0M217.4 391.6h0M244.6 431.7h0M226.5 446.7h0M241.9 414.9h0M263.0 442.7h0M287.6 422.5h0M263.2 434.4h0M234.7 386.2h0M290.9 403.0h0M213.4 406.7h0M288.8 379.8h0M204.5 423.1h0M210.9 380.0h0M250.8 442.3h0M203.9 389.0h0M216.4 428.2h0M215.3 389.0h0M210.2 431.2h0M247.3 435.5h0M240.8 391.7h0M286.6 434.4h0M245.2 413.4h0M290.8 423.8h0M194.3 410.2h0M271.8 427.9h0M208.7 386.9h0M218.8 439.4h0M256.0 448.5h0M245.9 386.5h0M274.3 381.5h0M263.8 382.6h0M239.4 445.7h0M277.7 397.7h0M234.3 442.9h0M274.7 390.7h0M223.9 398.3h0M223.3 409.8h0M228.7 426.0h0M275.0 423.5h0M230.4 427.7h0M248.8 409.1h0M291.0 434.2h0M253.9 396.8h0M246.4 397.3h0M231.9 424.5h0M212.9 429.2h0M286.4 416.8h0M225.9 436.3h0M207.1 382.3h0M263.0 388.6h0M275.7 419.0h0M215.5 387.0h0M235.3 413.1h0M268.8 435.8h0M225.9 405.7h0M271.1 424.0h0M195.0 399.8h0M257.4 383.2h0M253.5 387.1h0M282.2 415.8h0M242.5 385.8h0M290.5 413.4h0M255.0 390.0h0M217.3 417.8h0M225.7 443.8h0M206.6 441.9h0M248.5 416.6h0M221.7 441.4h0M249.8 436.5h0M247.2 381.0h0M258.1 398.0h0M265.9 403.5h0M272.5 376.6h0M239.3 385.9h0M249.4 388.2h0M219.2 417.2h0M256.5 378.2h0M207.5 446.0h0M239.5 405.7h0M261.2 431.2h0M277.5 405.5h0M249.0 442.0h0M224.8 379.4h0M282.0 429.3h0M267.3 397.8h0M200.1 384.6h0M242.8 404.6h0M261.7 414.1h0M223.4 404.5h0M258.8 439.2h0M272.6 391.7h0M249.1 441.9h0M271.3 384.5h0M287.0 375.4h0M222.7 399.3h0M281.5 435.4h0M228.4 418.5h0M196.3 441.5h0M239.8 390.6h0M284.2 441.4h0M275.8 401.5h0M213.1 421.9h0M280.0 379.1h0M278.9 427.9h0M261.8 444.4h0M201.0 391.8h0M263.3 389.9h0M216.4 424.3h0M251.4 392.3h0M284.6 424.5h0M236.6 414.3h0M197.7 419.5h0M217.9 434.5h0M221.3 431.0h0M220.7 415.7h0M281.6 448.1h0M238.7 430.6h0M284.8 412.2h0M248.0 422.9h0M258.1 433.0h0M243.1 437.6h0M244.5 445.4h0M270.1 387.6h0M216.4 407.8h0M270.8 433.6h0M241.4 391.7h0M242.4 378.0h0M211.0 386.6h0M242.1 407.4h0M219.1 434.2h0M282.7 417.3h0M271.3 392.9h0M223.9 378.5h0M254.5 414.1h0M210.1 394.2h0M261.3 436.6h0M199.2 405.6h0M214.5 446.8h0M207.5 408.9h0M207.2 404.3h0M235.0 381.0h0M291.4 431.6h0M215.9 394.0h0M253.4 378.3h0M257.3 379.7h0M261.7 439.0h0M280.6 409.4h0M276.3 403.5h0M214.4 401.0h0M247.4 387.5h0M214.3 409.8h0M237.3 448.5h0M278.3 390.5h0M200.4 426.3h0M220.3 376.8h0M263.7 395.2h0M208.3 444.3h0M195.2 399.1h0M201.4 440.3h0M269.2 413.6h0M232.0 392.9h0M208.1 419.2h0M224.0 406.6h0M206.6 427.4h0M264.7 424.4h0M213.4 396.0h0M215.5 396.9h0M214.5 378.4h0M289.4 397.3h0M283.8 391.3h0M216.3 422.0h0M235.4 404.3h0M231.0 399.6h0M220.8 387.1h0M240.1 387.7h0M216.8 382.2h0M234.8 386.5h0M262.4 416.1h0M195.5 404.2h0M199.4 405.2h0M242.1 418.5h0M225.3 394.0h0M227.4 441.0h0M219.0 424.6h0M269.3 421.6h0M233.7 406.0h0M275.0 440.1h0M282.9 378.2h0M243.2 398.1h0M289.5 386.4h0M215.7 425.5h0M193.3 415.4h0M216.8 411.7h0M247.2 421.4h0M275.1 446.7h0M227.4 440.6h0M263.8 426.6h0M288.2 436.1h0M254.5 411.5h0M229.6 396.4h0M245.9 392.8h0M225.2 388.5h0M205.6 380.1h0M203.3 427.3h0M237.7 432.2h0M198.5 394.1h0M271.7 404.3h0M218.0 428.1h0M274.9 417.2h0M272.2 384.6h0M259.2 392.4h0M288.9 385.2h0M234.5 421.9h0M285.2 448.2h0M263.5 384.1h0M205.0 399.7h0M246.7 411.0h0M221.2 404.2h0M268.7 447.6h0M207.7 388.3h0M285.2 393.9h0M205.1 399.2h0M249.0 386.0h0M220.2 392.1h0M229.3 394.5h0M199.5 441.1h0M200.9 388.8h0M232.2 379.6h0M258.0 421.3h0M236.9 436.8h0M210.5 377.4h0M204.9 380.9h0M267.5 398.2h0M271.3 429.5h0M272.4 436.3h0M232.9 427.3h0M282.9 377.1h0M215.6 404.0h0M258.0 435.1h0M256.1 401.5h0M282.4 399.1h0M226.2 430.0h0M266.5 415.6h0M210.7 383.2h0M227.7 407.1h0M242.8 405.1h0M246.2 445.5h0M280.0 399.0h0M203.9 448.1h0M288.1 391.6h0M262.8 388.5h0M260.0 445.1h0M207.8 422.1h0M256.7 391.0h0M280.7 438.4h0M243.0 417.2h0M275.8 426.2h0M258.8 406.3h0M215.9 419.6h0M244.0 377.8h0M237.3 419.1h0M285.1 386.6h0M291.1 429.7h0M265.8 448.2h0M199.6 439.4h0M217.9 434.8h0M246.1 439.1h0M220.8 422.8h0M247.9 433.3h0M271.8 386.6h0M203.1 378.1h0M278.5 436.8h0M254.0 441.8h0M290.6 390.6h0M279.6 429.0h0M259.1 407.1h0M226.7 398.6h0M220.7 419.8h0M211.0 384.8h0M239.2 384.9h0M286.0 420.3h0M212.5 448.6h0M265.8 401.9h0M233.5 386.2h0M235.1 435.8h0M227.4 427.2h0M221.4 438.3h0M238.1 444.1h0M266.5 419.7h0M199.5 406.2h0M236.7 445.7h0M261.7 424.9h0M218.0 406.4h0M274.1 438.0h0M201.9 402.2h0M264.5 424.7h0M281.7 445.3h0M255.6 409.9h0M239.0 398.7h0M199.8 409.4h0M213.8 402.6h0M232.1 430.0h0M209.7 423.2h0M265.3 432.5h0M286.3 441.3h0M227.8 414.8h0M204.2 433.5h0M243.2 384.6h0M206.0 381.9h0M222.2 432.6h0M234.0 379.4h0M237.7 416.5h0M208.5 446.8h0M288.2 405.8h0M208.4 435.6h0M263.5 386.9h0M196.0 383.5h0M197.7 406.0h0M225.6 411.4h0M280.6 445.1h0M242.6 441.9h0M222.7 429.8h0M229.5 407.0h0M228.5 407.1h0M198.1 436.9h0M245.2 415.7h0M215.2 382.7h0M224.2 411.0h0M267.1 411.3h0M233.3 446.5h0M251.7 446.1h0M252.2 402.6h0M253.3 418.8h0M242.3 413.4h0M198.4 382.2h0M219.8 434.0h0M278.0 405.0h0M275.2 399.6h0M274.0 433.4h0M198.8 431.6h0M267.4 418.1h0M265.9 406.2h0M290.2 442.9h0M270.2 407.8h0M230.5 408.3h0M204.8 398.9h0M258.9 415.7h0M248.4 443.3h0M205.4 439.7h0M196.3 407.2h0M259.7 443.7h0M261.2 404.0h0M203.6 430.0h0M251.0 390.3h0M209.4 401.1h0M244.5 404.0h0M276.3 401.8h0M240.6 447.6h0M262.0 392.6h0M265.2 417.7h0M199.5 436.1h0M263.8 407.2h0M238.1 411.2h0M267.5 382.9h0M276.8 378.0h0M249.2 416.0h0M208.1 445.4h0M272.6 382.6h0M214.7 390.1h0M253.3 384.3h0M264.9 394.9h0M195.2 414.9h0M222.1 394.0h0M241.0 395.5h0M253.3 415.4h0M269.6 394.5h0M285.6 402.1h0M216.2 408.7h0M265.1 444.9h0M249.0 401.1h0M203.3 417.0h0M199.3 424.4h0M260.8 438.4h0M244.6 381.1h0M211.4 414.2h0M242.4 389.9h0M234.3 411.2h0M248.6 385.3h0M277.9 444.2h0M241.5 418.9h0M287.6 377.2h0M275.0 426.1h0M193.3 380.4h0M289.4 436.7h0M226.3 400.9h0M269.1 394.7h0M245.1 400.1h0M210.5 386.4h0M240.4 433.1h0M216.7 423.6h0M211.4 392.5h0M225.7 428.9h0M271.1 415.2h0M268.5 393.4h0M234.1 448.2h0M231.4 385.4h0M270.3 400.3h0M230.6 396.5h0M194.6 412.1h0M199.6 442.7h0M212.2 385.4h0M237.9 402.8h0M220.1 444.5h0M211.4 401.0h0M223.5 388.9h0M245.2 415.2h0M201.2 391.8h0M242.9 387.2h0M249.2 397.1h0M289.1 409.2h0M276.6 409.6h0M286.3 447.4h0M268.4 404.9h0M209.3 388.1h0M214.1 376.8h0M272.0 412.1h0M239.1 388.8h0M223.2 378.5h0M254.2 402.6h0M254.7 398.7h0M280.4 418.2h0M246.5 409.3h0M277.3 440.3h0M243.4 447.9h0M210.1 428.6h0M221.2 382.5h0M227.4 416.6h0M284.2 413.2h0M193.4 411.9h0M249.8 421.9h0M202.1 412.0h0M256.4 446.8h0M236.9 381.6h0M216.3 436.4h0M218.3 441.8h0M241.5 410.9h0M276.1 412.4h0M260.8 434.1h0M273.0 434.4h0M273.5 397.7h0M283.9 377.1h0M227.0 433.7h0M283.0 444.0h0M199.6 424.5h0M290.0 439.5h0M211.5 426.5h0M290.3 421.2h0M249.3 444.8h0M241.7 403.7h0M195.5 387.3h0M215.8 423.5h0M261.7 413.4h0M220.1 389.2h0M260.9 444.7h0M284.6 442.5h0M269.5 399.9h0M244.7 411.3h0M278.2 414.8h0M266.6 393.8h0M250.5 393.2h0M200.1 379.2h0M245.2 445.2h0M234.1 405.3h0M239.9 446.0h0M235.9 425.9h0M282.2 393.9h0M291.5 414.2h0M268.7 379.6h0M247.6 395.5h0M264.9 398.9h0M257.1 427.4h0M235.8 383.2h0M287.3 440.8h0M200.2 395.2h0M236.3 384.8h0M249.7 430.2h0M257.3 425.5h0M197.8 427.7h0M198.6 410.3h0M200.4 404.2h0M241.2 418.7h0M290.2 384.2h0M215.0 439.1h0M218.6 433.6h0M237.4 402.3h0M237.9 398.6h0M233.7 397.8h0M289.5 433.2h0M259.4 429.9h0M264.6 445.3h0M259.1 407.4h0M215.5 432.1h0M289.8 400.5h0M194.8 406.0h0M218.8 420.6h0M232.5 448.5h0M283.2 379.8h0M274.2 437.0h0M251.4 427.8h0M266.8 418.0h0M262.7 416.7h0M290.5 385.4h0M220.3 417.1h0M242.0 387.7h0M281.3 424.2h0M272.7 406.3h0M252.9 409.3h0M228.0 431.3h0M222.8 426.3h0M274.9 403.4h0M228.5 414.9h0M230.1 423.8h0M217.8 388.5h0M201.7 433.8h0M219.3 411.4h0M214.0 427.2h0M226.4 440.1h0M239.9 398.5h0M273.3 417.3h0M290.5 391.8h0M226.8 407.8h0M274.8 442.8h0M210.1 401.5h0M215.5 402.2h0M264.1 378.9h0M199.4 437.3h0M250.7 382.4h0M228.0 447.9h0M278.2 380.0h0M195.3 426.7h0M220.1 424.5h0M225.0 409.8h0M248.5 401.6h0M217.7 396.9h0M194.8 398.2h0M239.5 413.1h0M280.7 430.9h0M258.2 426.4h0M233.9 404.1h0M239.4 414.3h0M271.0 441.1h0M195.4 397.6h0M271.7 421.1h0M260.6 426.3h0M238.0 404.6h0M275.6 380.9h0M288.9 415.4h0M223.7 438.8h0M194.5 386.3h0M256.3 383.5h0M285.8 407.5h0M251.6 418.3h0M238.9 441.7h0M214.6 408.3h0M226.4 417.9h0M195.0 391.6h0M214.3 380.8h0M226.1 445.9h0M203.2 422.3h0M273.5 428.7h0M198.8 377.9h0M207.1 390.2h0M211.4 422.1h0M285.4 378.6h0M230.9 436.0h0M263.7 389.0h0M288.7 393.1h0M283.7 425.0h0M211.6 392.9h0M259.2 421.6h0M263.9 411.7h0M241.7 403.7h0M229.8 399.7h0M251.6 442.7h0M242.5 412.2h0M248.9 393.0h0M196.5 389.3h0M276.4 421.0h0M268.2 428.6h0M274.6 386.3h0M230.8 381.8h0M196.9 383.7h0M212.0 383.7h0M256.3 387.8h0M246.0 403.0h0M249.2 412.8h0M240.0 378.3h0M212.3 400.1h0M280.7 418.6h0M246.6 444.6h0M231.0 427.5h0M262.9 442.2h0M221.3 397.0h0M266.2 439.1h0M207.4 405.1h0M206.2 432.9h0M255.2 396.0h0M253.0 389.5h0M277.7 448.0h0M229.2 426.5h0M276.9 390.0h0M226.7 375.5h0M193.4 399.6h0M290.9 422.3h0M263.8 392.5h0M234.7 398.8h0M224.0 430.0h0M260.8 386.6h0M288.5 390.3h0M209.2 378.0h0M211.3 429.2h0M259.7 446.6h0M202.9 378.0h0M274.5 425.7h0M277.6 402.8h0M256.5 377.3h0M196.1 387.3h0M245.6 384.8h0M274.5 400.7h0M260.0 447.2h0M269.6 422.0h0M194.3 410.5h0M252.5 412.9h0M199.0 385.1h0M260.4 448.3h0M221.8 408.9h0M240.9 404.7h0M228.4 449.0h0M232.6 381.2h0M208.1 386.4h0M252.6 431.6h0M240.8 385.1h0M281.0 430.5h0M259.8 391.1h0M226.3 386.0h0M204.0 378.1h0M239.5 441.7h0M213.6 378.7h0M213.8 422.7h0M284.3 445.2h0M271.6 378.4h0M278.5 393.7h0M224.5 387.8h0M268.1 400.2h0M261.9 428.9h0M204.9 382.4h0M274.7 411.9h0M229.1 402.6h0M289.3 420.0h0M262.5 419.4h0M288.8 405.3h0M230.1 405.6h0M257.0 401.3h0M276.7 434.3h0M276.4 403.8h0M218.0 398.6h0M271.9 443.2h0M230.5 384.0h0M256.1 441.1h0M218.3 431.3h0M279.7 401.4h0M213.1 396.8h0M220.6 429.1h0M256.2 434.5h0M212.1 384.2h0M271.3 419.8h0M237.9 419.5h0M196.6 406.4h0M278.8 417.7h0M272.9 382.0h0M202.8 382.2h0M208.6 448.4h0M281.7 445.8h0M256.9 410.2h0M259.2 387.0h0M234.0 413.3h0M261.1 417.3h0M274.6 382.2h0M223.7 407.7h0M248.9 396.0h0M193.3 415.7h0M280.4 380.5h0M269.0 418.9h0M233.9 413.7h0M238.8 394.3h0M203.7 385.5h0M245.7 418.2h0M290.5 436.9h0M285.6 390.8h0M282.9 410.3h0M228.0 393.1h0M264.2 432.5h0M238.2 409.8h0M238.1 425.8h0M225.4 417.1h0M197.7 403.9h0M196.4 381.3h0M286.1 437.0h0M224.4 402.5h0M230.8 388.4h0M194.7 431.7h0M264.6 433.6h0" stroke="#f2efee" stroke-width="1.70" stroke-linecap="round" fill="none" opacity="1.0"/>
<path d="M240.0 423.8h0M220.2 435.0h0M252.5 416.5h0M207.5 407.8h0M282.5 379.7h0M200.6 426.0h0M233.1 437.4h0M199.2 442.7h0M202.2 448.1h0M204.3 406.5h0M224.0 421.1h0M196.2 428.9h0M289.5 424.2h0M229.0 426.2h0M204.4 392.7h0M243.6 435.0h0M196.0 435.9h0M231.5 432.2h0M196.8 395.8h0M213.8 396.1h0M287.7 410.8h0M209.7 443.4h0M211.9 430.5h0M193.9 395.1h0M226.9 393.2h0M197.1 421.0h0M291.7 412.5h0M225.0 433.4h0M240.3 421.5h0M286.5 441.2h0M221.9 439.7h0M286.3 413.3h0M218.3 425.7h0M206.2 440.6h0M217.0 407.4h0M248.4 421.4h0M288.1 431.4h0M251.2 441.7h0M265.8 416.9h0M263.2 441.9h0M281.7 442.4h0M261.1 415.3h0M205.5 414.7h0M225.1 425.8h0M202.1 398.4h0M268.1 423.9h0M286.3 376.0h0M214.9 443.0h0M253.0 437.4h0M238.5 438.3h0M215.6 415.0h0M232.2 425.0h0M289.1 416.2h0M227.7 429.3h0M242.5 402.0h0M221.4 444.3h0M231.6 439.7h0M276.3 420.2h0M233.9 420.9h0M233.3 403.3h0M232.6 434.8h0M279.3 435.8h0M278.5 436.7h0M279.9 377.2h0M211.3 398.4h0M246.1 408.4h0M257.4 434.3h0M231.5 405.9h0M241.7 438.4h0M287.5 425.6h0M233.2 420.1h0M275.9 384.9h0M203.9 381.6h0M194.0 393.8h0M260.8 420.7h0M287.9 430.4h0M196.0 392.2h0M235.0 415.4h0M287.1 448.0h0M285.2 402.1h0M284.3 419.6h0M194.4 392.2h0M265.3 436.2h0M226.7 403.5h0M290.8 411.1h0M254.8 414.8h0M215.9 403.8h0M205.7 415.2h0M203.3 429.6h0M210.2 415.7h0M228.2 448.8h0M242.7 409.2h0M229.4 401.2h0M222.5 399.9h0M232.4 413.4h0M200.5 424.8h0M217.9 435.0h0M221.1 437.3h0M212.6 422.4h0M251.3 410.6h0M238.4 444.4h0M239.1 401.9h0M254.0 428.0h0M282.2 386.6h0M234.0 379.2h0M204.7 398.0h0M205.2 436.6h0M241.5 419.7h0M282.9 444.0h0M268.7 416.0h0M218.9 414.7h0M203.9 420.8h0M275.8 437.2h0M228.6 404.9h0M283.9 413.8h0M276.3 441.4h0M246.8 437.7h0M282.0 377.2h0M245.2 421.2h0M214.9 405.4h0M266.8 414.0h0M260.0 439.4h0M207.1 419.8h0M288.5 414.6h0M274.7 438.7h0M215.2 405.0h0M221.1 417.3h0M267.3 436.0h0M221.3 431.0h0M234.1 399.3h0M246.3 414.4h0M282.4 397.4h0M224.3 444.4h0M224.6 444.0h0M287.8 380.3h0M235.7 435.7h0M291.6 432.8h0M283.1 398.7h0M287.8 440.3h0M281.6 444.0h0M262.8 447.9h0M260.0 418.9h0M239.7 408.3h0M213.1 405.7h0M283.3 423.2h0M207.4 415.3h0M225.2 418.6h0M216.2 429.2h0M280.9 387.1h0M285.7 420.2h0M242.1 442.3h0M220.3 415.8h0M209.3 395.4h0M279.8 424.7h0M197.3 436.6h0M212.9 407.4h0M194.0 429.4h0M284.1 437.2h0M271.5 442.8h0M226.2 446.1h0M201.1 395.0h0M219.1 428.5h0M266.4 440.1h0M290.3 405.3h0M283.3 448.9h0M220.2 426.6h0M218.5 431.9h0M193.6 381.7h0M215.7 444.0h0M278.3 442.8h0M261.8 423.6h0M202.3 440.8h0M237.1 426.0h0M224.3 404.3h0M290.7 375.8h0M203.9 406.6h0M264.0 447.7h0M290.2 425.8h0M207.4 433.7h0M268.9 427.3h0M209.5 406.4h0M200.3 438.7h0M290.1 425.1h0M199.1 441.2h0M269.9 418.1h0M240.7 438.2h0M251.0 444.6h0M225.7 428.4h0M240.7 414.1h0M280.1 406.9h0M210.8 425.6h0M290.3 411.9h0M284.4 447.8h0M284.7 383.0h0M248.7 408.7h0M238.2 423.8h0M193.8 422.4h0M278.6 414.8h0M199.3 441.7h0M231.1 421.2h0M237.3 434.2h0M203.5 424.7h0M220.8 416.5h0M213.7 411.4h0M269.9 438.5h0M255.0 415.2h0M275.2 411.9h0M198.8 391.7h0M242.7 420.7h0M201.7 446.8h0M243.9 423.0h0M281.0 408.2h0M240.2 426.1h0M254.6 437.8h0M210.8 435.4h0M248.7 434.3h0M203.5 408.9h0M276.7 404.7h0M206.6 436.7h0M222.8 428.2h0M207.1 426.3h0M271.2 430.3h0M204.1 418.1h0M219.7 410.8h0M281.6 428.1h0M260.2 438.1h0M281.4 394.9h0M278.6 394.3h0M207.8 440.3h0M212.7 430.0h0M204.8 409.1h0M230.0 430.1h0M272.9 429.8h0M274.0 435.5h0M225.2 409.4h0M281.4 420.5h0M244.7 409.6h0M288.7 421.0h0M202.1 417.6h0M281.8 428.1h0M248.2 440.4h0M288.1 394.2h0M237.0 420.4h0M203.7 419.4h0M235.6 415.3h0M206.4 411.9h0M215.6 416.5h0M284.6 439.5h0M233.3 436.1h0M270.4 445.7h0M268.3 441.9h0M244.0 425.7h0M279.1 434.8h0M275.6 425.7h0M195.4 448.3h0M235.2 417.3h0M226.6 412.8h0M257.4 409.0h0M238.5 443.7h0M245.0 435.1h0M290.6 441.5h0M229.1 400.3h0M274.6 418.9h0M194.4 416.6h0M208.8 399.5h0M195.3 405.8h0M250.5 423.4h0M202.7 412.8h0M272.1 412.3h0M231.7 412.1h0M275.4 448.8h0M245.6 407.0h0M266.3 440.6h0M258.5 416.7h0M220.4 400.9h0M248.1 411.8h0M201.0 400.7h0M291.1 447.5h0M281.7 384.6h0M237.7 438.2h0M282.0 430.3h0M198.5 398.0h0M215.6 433.6h0M229.2 405.1h0M197.9 435.1h0M288.9 416.3h0M244.0 424.7h0M214.8 393.3h0M263.5 433.4h0M278.2 383.8h0M241.6 433.0h0M216.1 447.3h0M203.4 444.0h0M214.3 414.4h0M224.9 400.5h0M206.0 420.1h0M278.2 408.2h0M291.6 426.7h0M272.9 427.5h0M244.0 436.1h0M226.2 435.4h0M253.9 437.4h0M210.9 413.0h0M210.2 404.0h0M243.5 423.1h0M291.4 415.6h0M204.5 433.3h0M223.4 413.1h0M275.1 446.4h0M241.8 402.1h0M267.7 423.0h0M285.7 414.1h0M265.6 443.9h0M231.1 431.5h0M198.3 434.8h0M211.5 443.7h0M291.0 431.6h0M215.0 408.0h0M273.2 379.4h0M284.3 399.3h0M264.5 429.8h0M282.7 394.9h0M253.6 422.4h0M208.2 395.6h0M244.9 429.8h0M282.4 428.0h0M255.3 425.5h0M230.3 440.9h0M253.4 378.9h0M197.5 397.8h0M250.2 411.0h0M248.8 422.5h0M291.1 424.7h0M255.2 442.4h0M245.0 386.9h0M200.2 435.8h0M262.3 428.6h0M250.4 376.1h0M228.0 439.4h0M213.4 425.4h0M289.8 443.3h0M213.8 417.3h0M221.5 436.8h0M273.2 435.3h0M217.6 444.4h0M258.9 428.6h0M220.9 407.5h0M265.1 439.2h0M198.0 434.1h0M290.2 389.2h0M232.3 416.3h0M218.0 406.4h0M218.4 416.1h0M214.8 423.0h0M196.8 393.2h0M201.0 445.1h0M223.6 400.1h0M283.8 379.5h0M226.8 402.0h0M286.1 422.1h0M278.3 439.1h0M215.0 438.9h0M233.2 440.8h0M285.4 445.9h0M276.7 403.1h0M265.2 442.0h0M286.7 430.2h0M211.0 402.8h0M266.7 426.1h0M203.0 401.9h0M248.5 414.1h0M285.5 442.7h0M220.1 445.9h0M209.0 402.3h0M198.9 414.3h0M255.5 434.7h0M248.4 407.5h0M274.9 404.5h0M203.0 434.2h0M211.1 435.7h0M207.4 416.8h0M232.0 402.6h0M269.7 440.5h0M218.9 436.6h0M204.5 412.5h0M267.3 441.0h0M214.2 412.2h0M288.0 407.5h0M253.2 440.1h0M247.4 445.8h0M230.6 439.5h0M234.2 435.4h0M203.1 392.6h0M203.9 434.3h0M287.0 400.0h0M211.2 430.7h0M276.4 445.2h0M202.2 438.0h0M249.8 414.5h0M282.5 407.8h0M291.7 413.5h0M285.8 385.2h0M213.3 399.3h0M200.8 442.8h0M284.6 437.7h0M288.4 399.7h0M215.9 427.5h0M219.6 425.4h0M282.2 426.2h0M277.5 424.6h0M288.9 437.0h0M221.6 408.5h0M239.1 441.0h0M284.2 448.2h0M221.5 447.8h0M238.4 439.3h0M280.4 398.3h0M291.2 406.5h0M290.8 417.4h0M248.3 385.0h0M279.8 431.0h0M285.4 391.5h0M198.8 411.3h0M258.6 446.8h0M275.4 383.8h0M213.8 438.4h0M228.7 404.1h0M220.7 403.3h0M209.1 415.9h0M193.6 426.0h0M242.4 434.9h0M276.1 382.0h0M284.5 432.1h0M252.8 422.0h0M199.6 438.9h0M264.2 423.0h0M281.8 402.4h0M219.1 410.3h0M205.6 449.0h0M277.0 408.7h0M210.1 443.1h0M280.5 415.9h0M270.3 419.4h0M276.4 380.1h0M246.3 408.2h0M291.3 434.3h0M274.5 443.5h0M270.3 424.6h0M225.0 399.9h0M196.3 429.0h0M203.3 403.1h0M206.7 403.0h0M217.6 412.6h0M242.9 439.7h0M199.5 437.0h0M222.1 425.5h0M245.8 413.2h0M199.7 401.6h0M228.4 427.5h0M275.3 440.4h0M282.5 420.2h0M255.0 441.4h0M290.2 417.3h0M265.2 428.1h0M203.1 401.6h0M278.7 389.8h0M229.6 403.0h0M251.0 416.2h0M221.9 427.8h0M198.3 423.8h0M278.4 393.0h0M256.9 438.6h0M214.1 424.3h0M284.0 419.3h0M203.7 447.9h0M218.1 425.8h0M205.9 400.8h0M213.2 440.0h0M251.3 421.5h0M252.4 387.1h0M248.6 392.1h0M277.6 420.6h0M211.5 396.8h0M258.7 433.2h0M283.0 441.4h0M211.7 432.7h0M196.0 390.9h0M207.5 448.9h0M197.3 427.6h0M270.8 417.4h0M237.5 429.4h0M261.0 444.3h0M237.4 403.6h0M201.6 421.9h0M224.5 438.4h0M280.5 399.0h0M241.7 440.5h0M210.9 444.3h0M272.5 430.6h0M287.4 422.9h0M274.2 440.8h0M273.6 417.4h0M229.7 419.8h0M216.3 420.5h0M237.5 438.0h0M202.3 445.9h0M256.2 399.0h0M228.5 422.3h0M284.6 444.2h0M217.4 400.1h0M255.5 417.1h0M231.3 404.8h0M208.7 434.6h0M222.1 424.7h0M226.8 436.4h0M285.2 429.3h0M235.7 439.7h0M289.3 439.9h0M219.6 444.1h0M225.5 434.7h0M266.6 443.7h0M261.0 436.3h0M201.0 415.7h0M235.2 422.9h0M194.0 423.1h0M287.6 379.0h0M233.6 405.5h0M235.5 426.5h0M278.1 430.6h0M283.6 408.5h0M245.2 411.4h0M232.6 395.5h0M236.0 405.2h0M266.9 445.7h0M284.2 441.2h0M263.6 447.9h0M265.2 417.1h0M243.4 439.9h0M198.7 413.8h0M199.6 397.9h0M282.1 441.1h0M282.6 404.9h0M260.5 447.0h0M220.9 414.4h0M245.7 435.4h0M288.0 428.4h0M196.4 430.8h0M280.9 394.7h0M291.5 434.9h0M258.5 429.8h0M204.3 415.3h0M235.8 423.8h0M250.7 437.5h0M225.6 447.8h0M284.6 446.4h0M217.6 447.7h0M282.0 425.4h0M264.6 427.0h0M262.9 442.8h0M287.0 391.4h0M243.0 445.2h0M230.3 400.0h0M254.5 425.6h0M204.0 429.7h0M264.6 421.4h0M209.7 418.5h0M207.2 393.8h0M218.3 430.1h0M204.1 420.8h0M267.0 424.1h0M197.4 405.6h0M220.5 445.0h0M275.1 383.4h0M234.0 405.0h0M225.9 413.4h0M210.6 434.8h0M270.1 429.2h0M286.9 416.1h0M254.0 431.2h0M241.8 429.6h0M285.0 408.9h0M248.5 410.5h0M262.9 444.8h0M230.2 419.2h0M274.3 446.3h0M206.5 395.4h0M267.6 420.2h0M290.5 399.0h0M200.0 447.0h0M231.5 444.7h0M268.8 430.1h0M225.4 421.3h0M277.8 402.9h0M239.4 447.8h0M226.6 380.4h0M204.3 439.2h0M218.1 433.2h0M216.7 448.2h0M202.6 425.4h0M238.6 423.2h0M194.1 398.3h0M222.6 426.2h0M236.1 447.9h0M201.5 443.9h0M239.8 378.4h0M233.8 429.2h0M254.8 433.1h0M281.9 389.3h0M271.6 422.7h0M272.3 439.3h0M282.0 406.5h0M248.6 439.3h0M207.1 448.9h0M291.7 424.1h0M284.6 445.1h0M283.2 437.8h0M213.6 444.6h0M237.2 448.1h0M204.2 414.9h0M194.2 442.5h0M233.0 404.3h0M287.6 390.1h0M248.8 414.4h0M216.8 440.2h0M243.3 428.5h0M271.9 432.0h0M277.6 429.0h0M271.7 421.0h0M194.1 407.7h0M223.0 415.4h0M285.8 402.9h0M195.7 432.8h0M278.8 378.8h0M277.1 434.1h0M253.5 436.9h0M289.2 416.4h0M201.5 402.8h0M289.2 397.8h0M241.6 431.8h0M201.0 407.4h0M193.5 394.9h0M213.2 437.7h0M276.9 407.6h0M215.7 434.9h0M207.4 439.1h0M265.9 434.9h0M234.3 402.8h0M239.2 403.4h0M279.5 382.1h0M196.3 396.9h0M283.1 407.9h0M225.8 421.9h0M219.3 402.3h0M240.2 426.5h0M218.8 435.8h0M204.8 446.5h0M287.0 443.3h0M286.5 428.8h0M203.2 407.9h0M259.5 426.9h0M235.2 447.5h0M219.3 427.2h0M282.0 395.4h0M213.7 438.7h0M281.4 404.7h0M214.7 415.9h0M207.4 396.3h0M273.3 433.2h0M221.7 420.1h0M282.1 395.3h0M248.5 413.2h0M205.0 443.6h0M284.2 432.8h0M216.7 417.5h0M239.1 427.5h0M236.2 444.1h0M269.6 433.9h0M246.3 435.5h0M221.0 430.0h0M230.7 406.7h0M241.5 415.5h0M266.4 434.2h0M288.1 393.1h0M279.9 430.5h0M268.5 426.7h0M195.6 435.3h0M195.2 439.4h0M285.6 413.3h0M283.2 447.9h0M272.2 448.1h0M210.0 444.1h0M281.2 401.8h0M288.7 384.2h0M251.7 424.3h0M203.3 402.0h0M216.9 422.7h0M208.9 421.4h0M262.6 431.4h0M213.7 422.0h0M217.3 423.1h0M222.4 432.9h0M287.1 447.8h0M255.2 438.6h0M276.8 410.6h0M242.7 443.6h0M247.4 434.5h0M230.4 400.0h0M203.4 395.6h0M281.4 442.4h0M289.9 400.1h0M201.0 419.4h0M257.7 429.0h0M207.6 434.1h0M247.2 435.9h0M211.8 438.1h0M221.3 403.8h0M248.7 406.2h0M211.4 429.8h0M225.9 421.6h0M195.1 422.3h0M290.4 425.2h0M228.4 402.6h0M277.6 407.6h0M282.2 436.9h0M289.7 392.5h0M246.3 442.6h0M214.9 437.5h0M200.8 396.7h0M278.1 411.9h0M230.7 432.3h0M220.3 444.3h0M207.2 440.2h0M256.9 430.2h0M204.2 403.3h0M261.6 442.9h0M243.1 439.0h0M199.0 412.7h0M285.6 429.5h0M279.2 406.5h0M282.5 424.6h0M289.9 384.6h0M216.0 426.3h0M216.8 411.5h0M267.9 429.5h0M206.2 395.6h0M279.2 412.0h0M216.7 405.1h0M247.1 404.0h0M282.0 392.6h0M262.9 434.0h0" stroke="#c8a488" stroke-width="1.60" stroke-linecap="round" fill="none" opacity="0.55"/>
<path d="M276.9 389.1h0M207.7 392.0h0M206.0 414.5h0M253.2 376.5h0M286.8 433.8h0M248.8 407.0h0M235.6 398.5h0M206.5 425.2h0M210.6 390.3h0M232.2 385.0h0M216.4 392.7h0M229.3 380.8h0M285.2 378.6h0M280.6 434.5h0M264.5 391.0h0M250.5 418.9h0M265.0 400.5h0M209.4 425.7h0M215.4 380.5h0M248.0 415.4h0M236.5 400.6h0M193.5 448.8h0M222.9 395.2h0M200.8 410.0h0M275.5 375.8h0M240.0 424.7h0M266.0 394.4h0M276.9 394.4h0M228.3 393.4h0M213.3 401.2h0M232.4 381.8h0M252.3 375.7h0M226.0 396.7h0M206.7 439.0h0M274.4 391.5h0M231.5 377.9h0M206.0 434.6h0M281.2 415.5h0M208.0 410.6h0M227.2 434.4h0M244.5 443.1h0M281.7 383.9h0M222.7 446.2h0M201.8 379.2h0M264.9 383.3h0M263.8 396.8h0M239.7 395.1h0M237.6 375.7h0M240.9 394.6h0M282.1 414.9h0M230.2 410.4h0M249.7 377.9h0M210.8 383.0h0M223.5 440.5h0M244.6 436.8h0M266.7 423.2h0M207.3 437.2h0M217.2 414.4h0M237.5 431.3h0M214.9 379.1h0M218.6 385.2h0M252.0 379.6h0M242.4 417.5h0M260.6 403.0h0M270.5 448.0h0M201.1 391.3h0M225.2 397.5h0M213.7 444.1h0M213.3 447.1h0M204.3 384.9h0M231.3 391.0h0M194.7 426.8h0M271.8 438.2h0M244.6 432.9h0M262.8 406.8h0M217.3 396.1h0M247.8 442.1h0M263.8 382.5h0M218.3 434.9h0M223.3 383.0h0M234.6 427.6h0M225.9 402.2h0M280.6 381.9h0M271.9 435.6h0M234.7 385.6h0M244.5 393.3h0M282.5 376.8h0M267.3 430.4h0M269.1 411.6h0M273.8 421.0h0M195.2 433.5h0M235.5 396.6h0M248.3 433.0h0M247.9 389.3h0M238.5 437.8h0M269.2 407.1h0M265.7 416.9h0M197.0 426.9h0M264.6 420.4h0M243.3 379.8h0M256.2 393.0h0M239.1 378.0h0M213.1 429.2h0M264.2 376.7h0M258.9 411.8h0M217.7 409.8h0M264.3 380.2h0M210.9 416.8h0M210.5 385.7h0M249.6 381.1h0M243.7 387.9h0M217.4 398.1h0M267.3 383.3h0M219.2 428.4h0M214.7 395.7h0M272.7 419.7h0M270.3 418.1h0M219.9 385.6h0M236.8 380.6h0M258.7 441.6h0M249.3 440.1h0M263.7 409.7h0M221.3 435.2h0M212.7 389.6h0M231.1 378.8h0M235.2 380.6h0M213.9 384.4h0M259.8 376.2h0M195.2 387.6h0M235.6 442.5h0M287.9 379.1h0M213.5 382.5h0M198.7 391.6h0M255.4 376.3h0M199.7 429.2h0M203.5 439.8h0M222.2 416.6h0M205.3 441.2h0M213.6 400.0h0M202.2 423.6h0M211.9 413.3h0M260.4 446.4h0M234.8 404.7h0M234.0 388.5h0M261.3 410.7h0M207.5 437.3h0M228.3 418.1h0M244.1 444.9h0M273.3 438.7h0M264.0 384.6h0M237.5 407.7h0M288.3 403.0h0M226.4 439.0h0M211.2 398.6h0M207.7 392.5h0M284.8 394.4h0M251.1 377.6h0M249.8 409.6h0M234.1 376.8h0M210.7 393.0h0M273.6 376.6h0M210.2 390.4h0M288.0 446.5h0M246.6 407.2h0M234.9 420.4h0M270.6 408.2h0M281.5 417.4h0M245.2 405.9h0M219.7 386.7h0M247.7 381.5h0M268.1 396.9h0M223.3 393.1h0M213.9 416.1h0M238.7 446.4h0M243.1 397.1h0M265.5 418.1h0M261.3 382.7h0M279.8 442.5h0M207.3 383.1h0M226.9 414.1h0M254.6 401.6h0M248.6 399.4h0M210.6 378.3h0M287.5 410.0h0M260.2 442.4h0M217.9 443.9h0M251.3 399.5h0M210.4 403.7h0M238.9 405.2h0M226.6 382.9h0M243.8 402.2h0M231.7 393.9h0M225.2 387.0h0M259.6 438.6h0M235.5 394.6h0M261.3 414.0h0M283.2 378.8h0M239.3 428.0h0M236.9 424.2h0M259.2 379.8h0M237.7 398.7h0M267.5 398.5h0M279.3 404.3h0M197.6 447.1h0M216.2 378.7h0M238.3 409.1h0M220.5 377.6h0M290.2 398.1h0M205.2 420.1h0M280.9 391.2h0M250.2 426.3h0M242.7 416.8h0M224.2 408.3h0M202.9 379.7h0M217.8 425.0h0M194.4 379.1h0M197.5 439.1h0M291.3 423.1h0M234.1 415.5h0M198.0 440.5h0M202.4 394.0h0M240.9 445.6h0M257.0 412.5h0M291.4 442.8h0M284.7 422.4h0M220.1 417.8h0M218.1 410.8h0M262.8 392.4h0M265.4 396.3h0M254.6 401.2h0M289.1 433.8h0M285.2 384.7h0M243.1 384.5h0M247.0 390.8h0M201.4 411.3h0M285.7 386.0h0M263.5 397.7h0M204.4 381.0h0M239.8 440.0h0M207.7 393.7h0M273.2 383.7h0M290.7 446.7h0M245.6 378.9h0M210.2 425.6h0M248.9 399.6h0M264.2 392.1h0M273.8 432.6h0M273.0 397.3h0M281.2 443.0h0M274.3 410.4h0M291.5 409.7h0M205.9 418.4h0M260.4 409.3h0M276.9 393.1h0M193.8 435.3h0M253.3 395.6h0M266.4 385.5h0M201.3 390.7h0M249.5 423.9h0M278.6 377.5h0M261.3 387.2h0M206.9 390.4h0M265.5 391.6h0M196.4 390.9h0M279.3 402.6h0M200.3 378.6h0M230.9 382.7h0M285.7 396.5h0M269.6 408.5h0M230.0 379.4h0M274.2 425.5h0M234.2 376.9h0M214.7 444.4h0M227.3 377.1h0M261.8 405.1h0M274.1 426.6h0M265.5 410.5h0M201.2 379.3h0M244.3 402.8h0M248.2 390.7h0M259.3 397.0h0M290.9 384.3h0M235.7 428.0h0M260.6 383.7h0M247.8 395.2h0M206.5 392.1h0M215.0 418.9h0M229.2 376.9h0M241.1 390.7h0M202.2 386.1h0M259.0 401.8h0M264.8 393.2h0M220.8 421.8h0M205.7 380.1h0M195.5 383.2h0M262.2 383.7h0M271.4 405.0h0M197.4 410.9h0M259.8 404.3h0M262.8 446.2h0M195.2 434.6h0M226.2 445.2h0M206.3 442.0h0M198.3 426.9h0M264.3 375.6h0M260.0 389.7h0M198.5 407.8h0M269.0 410.1h0M262.0 380.6h0M226.3 404.4h0M236.8 415.7h0M243.8 413.1h0M231.8 418.5h0M286.0 417.5h0M277.9 395.3h0M286.4 435.9h0M251.0 411.5h0M241.4 386.0h0M275.8 395.3h0M274.9 391.0h0M260.6 397.3h0M270.2 397.6h0M230.7 444.8h0M228.2 397.1h0M204.0 387.0h0M266.6 386.7h0M197.1 433.2h0M271.7 401.4h0M272.1 423.9h0M237.6 391.6h0M234.6 440.3h0M218.8 389.4h0M287.3 436.8h0M203.5 426.5h0M252.9 402.1h0M277.3 437.2h0M229.9 390.9h0M234.1 384.3h0M237.1 394.3h0M209.1 410.3h0M271.4 399.3h0M209.9 427.6h0M208.2 381.6h0M225.9 430.2h0M276.4 393.3h0M260.2 411.5h0M284.6 400.0h0M212.6 440.5h0M243.4 400.7h0M221.2 397.8h0M232.5 413.4h0M209.0 426.2h0M249.1 442.4h0M272.4 386.6h0M236.3 384.3h0M251.0 395.7h0M215.3 409.0h0M259.3 404.5h0M236.4 425.2h0M251.3 440.8h0M275.1 417.1h0M215.5 380.5h0M233.3 383.2h0M248.6 419.7h0M240.5 390.9h0M256.3 427.6h0M238.4 400.9h0M240.4 422.7h0M274.0 428.9h0M288.8 388.9h0M251.6 397.1h0M208.2 434.7h0M224.8 448.3h0M262.2 422.0h0M254.8 387.4h0M276.6 426.4h0M225.4 387.2h0M236.8 392.2h0M201.4 435.9h0M257.1 380.7h0M266.1 396.9h0M231.2 384.8h0M271.7 390.9h0M273.2 381.5h0M239.8 440.8h0M251.1 426.2h0M257.4 409.0h0M279.2 426.6h0M261.8 392.8h0M274.1 399.3h0M198.3 377.8h0M198.6 435.7h0M219.7 416.3h0M273.6 410.5h0M264.7 393.0h0M279.2 442.0h0M211.6 390.8h0M216.1 379.5h0M196.8 390.4h0M239.1 397.6h0M229.3 390.9h0M234.0 408.6h0M224.2 393.4h0M282.8 385.3h0M241.9 382.6h0M277.4 399.1h0M213.8 383.6h0M249.4 394.4h0M269.9 444.1h0M209.7 410.7h0M234.4 428.1h0M258.5 378.8h0M197.2 376.4h0M193.4 430.1h0M269.0 390.9h0M231.3 391.6h0M228.6 403.2h0M243.0 402.8h0M277.7 425.8h0M279.0 434.2h0M201.2 380.9h0M289.1 413.3h0M213.5 393.4h0M220.1 422.5h0M268.0 385.0h0M268.0 376.4h0M252.3 438.2h0M206.9 420.3h0M271.2 398.9h0M258.1 377.5h0M276.0 420.0h0M233.6 389.1h0M194.0 387.9h0M278.5 414.3h0M278.0 386.2h0M220.1 441.8h0M221.9 388.4h0M217.7 389.4h0M263.3 396.6h0M258.9 408.8h0M258.4 380.9h0M263.3 420.2h0M278.6 384.5h0M284.8 394.7h0M211.6 388.2h0M281.9 383.2h0M213.8 392.8h0M283.9 426.7h0M288.8 441.8h0M279.9 410.9h0M278.0 401.8h0M226.2 424.8h0M193.3 407.5h0M258.4 413.0h0M255.0 384.2h0M228.8 405.0h0M237.4 397.3h0M272.5 398.5h0M206.1 386.7h0M197.9 420.1h0M262.1 413.8h0M236.9 395.7h0M258.7 424.0h0M289.0 431.3h0M240.2 377.3h0M255.3 385.2h0M215.2 390.5h0M216.9 416.3h0M252.7 400.5h0M199.1 430.0h0M202.0 379.6h0M267.1 407.9h0M245.3 381.6h0M258.6 446.3h0M270.7 443.7h0M231.9 379.6h0M260.0 440.7h0M283.1 402.5h0M253.0 435.9h0M247.5 398.7h0M234.6 386.0h0M247.1 445.4h0M253.6 438.1h0M236.0 431.8h0M193.7 399.6h0M205.8 406.4h0M237.2 380.9h0M211.1 383.1h0M243.4 412.2h0M265.9 402.9h0M224.9 405.4h0M194.4 377.8h0M260.1 384.8h0M215.7 407.8h0M269.3 407.6h0M272.2 446.3h0M279.2 409.4h0M270.6 376.5h0M247.2 376.0h0M267.0 378.0h0M244.6 408.8h0M211.4 401.7h0M215.7 387.2h0M266.9 377.6h0M262.6 399.1h0M266.8 404.9h0M254.6 441.7h0M269.8 442.0h0M254.6 434.0h0M241.5 445.3h0M234.3 385.3h0M193.6 434.9h0M226.1 399.7h0M208.5 447.5h0M254.1 403.6h0M234.3 381.3h0M197.1 405.5h0M272.0 394.7h0M279.4 442.2h0M251.3 378.3h0M233.7 376.8h0M227.9 433.7h0M287.1 424.7h0M236.2 442.7h0M279.4 377.9h0M276.4 438.4h0M258.0 377.0h0M212.9 389.5h0M235.3 378.3h0M277.6 401.2h0M252.3 386.4h0M262.8 423.7h0M222.6 378.1h0M242.8 398.1h0M280.6 406.4h0M225.4 442.4h0M236.8 390.6h0M225.4 397.0h0M212.5 386.2h0M225.9 425.1h0M275.0 399.5h0M239.4 390.0h0M259.1 398.1h0M255.7 404.4h0M248.5 435.4h0M239.6 404.1h0M276.3 424.4h0M249.3 390.5h0M209.0 385.3h0M210.1 392.8h0M244.6 390.6h0M244.5 385.3h0M289.8 414.4h0M223.4 395.5h0M264.5 431.4h0M208.8 401.3h0M256.7 398.6h0M287.4 430.6h0M252.8 425.3h0M273.9 391.8h0M280.6 378.6h0M238.8 434.4h0M228.6 388.0h0M221.2 378.7h0M237.8 383.0h0M245.6 394.6h0M208.2 385.6h0M269.9 378.3h0M229.0 441.5h0M223.6 395.4h0M194.0 383.7h0M262.9 393.6h0M220.8 392.4h0M264.0 394.2h0M197.5 375.7h0M198.9 425.0h0M257.1 408.2h0M247.4 415.1h0M229.0 396.9h0M248.7 389.2h0M259.3 379.2h0M242.8 389.4h0M265.1 400.1h0M225.1 389.2h0M264.9 414.3h0M246.4 398.9h0M253.3 414.1h0M228.2 396.2h0M222.7 441.0h0M224.2 385.7h0M253.6 382.9h0M224.7 395.8h0M202.7 422.4h0M226.3 447.3h0M209.9 382.6h0M273.2 441.2h0M226.4 432.1h0M256.2 422.1h0M198.2 389.0h0M249.6 383.5h0M217.9 378.8h0M198.7 398.2h0M216.2 390.2h0M272.1 431.9h0M217.0 400.9h0M257.6 408.8h0M286.8 393.4h0M237.5 424.6h0M251.9 402.8h0M210.4 393.9h0M287.5 426.7h0M216.3 395.1h0M253.1 379.2h0M259.2 442.3h0M225.0 399.1h0M260.6 433.9h0M260.4 446.1h0M216.6 388.6h0M247.5 378.7h0M258.0 424.2h0M210.1 386.5h0M217.5 436.1h0M242.4 393.0h0M274.5 390.6h0M261.6 442.5h0M199.9 414.7h0M208.5 438.3h0M234.3 423.0h0M250.9 409.7h0M239.9 405.4h0M213.6 392.4h0M274.5 385.0h0M229.1 431.4h0M265.4 389.9h0M206.0 382.4h0M206.2 385.3h0M278.4 437.6h0M245.4 384.7h0M264.8 415.9h0M231.0 385.4h0M201.4 403.3h0M271.0 392.3h0M267.2 409.7h0M246.3 411.3h0M275.3 383.5h0M239.2 392.4h0M264.0 446.7h0M260.3 415.6h0M271.5 392.6h0M290.7 375.4h0" stroke="#c4c6e0" stroke-width="1.40" stroke-linecap="round" fill="none" opacity="1.0"/>
</g>
<path d="M194.2,384.9 L205.2,391.9 M227.2,400.0 Q238.2,397.4 245.2,403.4 L254.2,413.4" stroke="#b08462" stroke-width="1.1" fill="none" opacity="0.55" filter="url(#bl3)"/>
<rect x="278.5" y="444.79999999999995" width="8.3" height="2.0" fill="#484848" filter="url(#bl3)"/>
</g>
<g clip-path="url(#c12)">
<rect x="293.00" y="375.40" width="99.20" height="73.60" fill="#ebe6e2"/>
<path d="M307.0,371.4 L375.0,371.4 L379.0,385.4 L375.0,403.4 L365.0,412.4 L351.0,409.4 L337.0,402.4 L323.0,395.4 L311.0,387.4Z" fill="#dfe0ec" filter="url(#soft)"/>
<g filter="url(#dsoft)">
<path d="M309.4 426.2h0M373.1 413.1h0M316.0 392.5h0M392.0 429.8h0M305.4 443.7h0M316.3 432.8h0M389.1 441.2h0M368.7 418.1h0M305.1 410.5h0M312.9 443.3h0M333.6 402.3h0M331.3 448.6h0M295.7 382.3h0M391.5 411.9h0M347.6 430.5h0M353.4 416.4h0M310.9 387.9h0M385.0 400.9h0M323.4 383.0h0M373.7 432.6h0M360.8 425.1h0M388.1 405.4h0M388.4 418.9h0M341.7 403.0h0M379.9 387.3h0M372.9 432.4h0M376.0 379.2h0M321.8 406.3h0M299.9 400.3h0M390.6 430.3h0M318.0 446.0h0M365.3 377.5h0M376.2 433.9h0M377.3 398.1h0M320.4 431.9h0M361.0 445.6h0M351.9 422.8h0M388.1 442.1h0M302.4 382.3h0M325.2 411.7h0M309.5 388.9h0M363.4 415.9h0M363.5 439.7h0M299.3 431.6h0M323.7 441.7h0M342.9 415.8h0M302.8 419.6h0M365.9 446.6h0M362.4 414.1h0M299.3 435.4h0M328.2 398.8h0M303.7 381.0h0M373.8 431.3h0M336.9 413.5h0M332.8 392.0h0M374.1 428.7h0M316.5 403.8h0M355.7 446.3h0M340.6 411.6h0M381.3 432.8h0M368.2 424.6h0M362.3 425.7h0M383.9 403.8h0M374.8 446.3h0M293.6 398.4h0M300.9 397.7h0M366.6 409.4h0M387.8 427.2h0M326.3 422.6h0M318.9 445.4h0M318.2 437.6h0M320.5 403.3h0M339.3 407.6h0M296.4 435.0h0M296.9 420.1h0M302.4 398.1h0M381.7 402.6h0M371.5 435.9h0M297.9 389.2h0M376.7 443.5h0M294.7 418.2h0M382.2 430.4h0M353.2 421.1h0M372.4 400.3h0M381.3 380.6h0M343.8 425.3h0M319.8 379.7h0M342.1 425.5h0M308.7 383.1h0M365.2 414.0h0M375.1 391.1h0M327.9 414.6h0M310.3 427.6h0M309.1 438.0h0M382.9 425.4h0M370.1 441.8h0M383.1 446.8h0M386.4 444.3h0M294.1 401.3h0M353.2 431.0h0M309.0 443.9h0M380.5 390.6h0M348.0 432.5h0M380.6 402.1h0M373.8 402.1h0M295.7 406.5h0M295.6 424.4h0M303.6 443.7h0M381.8 413.2h0M316.8 406.6h0M369.5 430.7h0M318.1 407.1h0M351.2 434.5h0M365.5 448.5h0M350.7 417.8h0M312.5 392.1h0M373.6 410.9h0M329.7 436.2h0M338.8 404.1h0M352.4 426.4h0M367.5 403.0h0M370.6 433.8h0M312.7 437.8h0M300.7 398.1h0M307.5 436.6h0M360.7 397.2h0M313.5 412.0h0M314.6 425.9h0M357.4 402.5h0M307.0 379.7h0M388.5 402.9h0M367.9 422.2h0M295.0 422.7h0M315.0 418.6h0M301.6 411.5h0M314.4 378.9h0M308.0 421.3h0M304.5 405.2h0M313.2 426.9h0M301.4 393.3h0M302.5 390.4h0M374.2 413.7h0M293.9 397.7h0M383.6 401.7h0M296.4 412.1h0M369.5 418.1h0M384.9 381.3h0M370.0 428.4h0M309.3 400.5h0M298.3 396.5h0M325.2 433.8h0M307.8 398.1h0M358.7 408.0h0M330.1 439.1h0M361.5 421.6h0M348.2 402.2h0M311.5 442.6h0M312.9 377.7h0M379.2 400.2h0M315.9 423.3h0M366.0 414.3h0M320.8 419.1h0M381.4 437.7h0M360.4 432.2h0M388.7 440.1h0M391.9 399.5h0M389.9 387.7h0M355.1 395.5h0M371.8 420.5h0M371.4 439.6h0M374.7 447.4h0M362.6 413.2h0M306.6 375.7h0M338.1 431.6h0M322.3 408.2h0M334.0 404.2h0M304.5 401.1h0M375.8 447.5h0M385.9 401.3h0M293.4 400.5h0M327.3 391.1h0M348.0 437.9h0M302.7 443.7h0M371.5 438.3h0M323.2 407.3h0M391.8 381.6h0M384.1 409.3h0M390.4 440.2h0M301.4 428.0h0M383.2 387.7h0M305.0 434.6h0M296.1 398.2h0M356.0 421.8h0M387.3 446.4h0M332.5 407.8h0M311.5 397.4h0M308.8 405.7h0M319.0 401.3h0M304.5 414.6h0M300.8 390.3h0M366.9 414.7h0M355.8 443.7h0M359.6 447.3h0M382.8 382.4h0M319.3 430.6h0M346.1 393.7h0M378.9 422.7h0M304.5 397.0h0M313.2 415.0h0M343.6 416.2h0M334.6 425.7h0M318.9 426.4h0M294.5 396.9h0M312.5 424.8h0M385.4 421.7h0M341.8 418.6h0M298.9 402.1h0M326.8 406.9h0M360.4 445.8h0M311.4 400.0h0M315.5 432.1h0M352.0 428.5h0M301.4 445.8h0M340.7 438.7h0M309.7 404.6h0M339.0 378.5h0M311.5 418.5h0M337.4 405.1h0M327.0 424.9h0M344.0 388.6h0M357.8 415.8h0M332.9 430.7h0M342.5 398.9h0M332.5 423.7h0M368.6 440.5h0M333.8 422.8h0M371.8 427.5h0M335.3 432.9h0M386.8 442.0h0M328.9 433.4h0M321.1 408.2h0M301.9 395.6h0M383.0 445.1h0M371.4 447.0h0M315.6 394.5h0M306.8 415.6h0M312.9 421.7h0M388.9 413.2h0M382.6 430.8h0M388.5 411.7h0M315.5 395.7h0M309.7 429.1h0M352.4 419.4h0M349.3 443.6h0M302.2 418.3h0M391.0 443.2h0M331.0 400.8h0M340.4 423.5h0M347.7 418.8h0M363.0 427.7h0M298.0 430.2h0M309.8 378.1h0M377.2 404.0h0M371.4 447.4h0M361.9 432.9h0M327.4 410.3h0M317.9 411.1h0M377.4 393.3h0M357.3 422.5h0M309.3 414.4h0M318.7 442.9h0M377.7 398.5h0M305.9 401.0h0M387.7 397.4h0M313.6 435.7h0M377.1 400.5h0M380.0 395.0h0M356.1 417.9h0M357.1 398.6h0M293.9 420.0h0M338.0 414.0h0M344.5 407.5h0M307.7 439.6h0M297.2 410.8h0M390.1 406.8h0M385.9 396.3h0M317.5 410.0h0M299.6 400.0h0M336.3 426.6h0M373.6 413.1h0M373.7 428.5h0M353.5 403.1h0M380.8 434.8h0M378.2 415.9h0M339.9 447.6h0M330.5 417.4h0M344.7 433.6h0M360.2 434.0h0M295.1 423.8h0M309.7 428.3h0M313.5 426.6h0M300.1 420.6h0M354.7 381.1h0M300.8 441.0h0M382.4 390.0h0M377.2 448.4h0M323.8 421.3h0M391.1 433.3h0M310.6 401.7h0M336.1 447.5h0M382.2 422.3h0M300.7 423.0h0M327.7 427.8h0M302.0 438.6h0M340.6 431.4h0M377.7 402.5h0M308.2 416.0h0M378.9 428.6h0M303.2 401.2h0M352.5 408.2h0M337.3 416.9h0M389.9 402.0h0M321.3 402.9h0M377.7 380.7h0M352.3 410.7h0M336.2 431.8h0M334.2 423.5h0M346.5 423.5h0M371.9 448.2h0M387.6 408.1h0M338.1 443.2h0M372.9 397.6h0M313.2 424.9h0M299.5 375.7h0M302.7 435.4h0M353.7 443.6h0M314.3 433.3h0M386.7 445.2h0M390.1 385.1h0M339.5 447.1h0M306.4 390.4h0M329.9 428.9h0M378.1 411.4h0M348.3 438.1h0M375.0 408.3h0M388.2 418.9h0M310.8 402.6h0M305.8 423.9h0M321.7 395.3h0M346.8 447.5h0M317.3 441.4h0M359.2 428.5h0M295.7 431.3h0M361.9 409.8h0M296.5 413.3h0M321.2 391.7h0M295.8 384.7h0M296.3 428.1h0M373.1 405.2h0M384.1 386.9h0M354.4 417.1h0M351.6 382.1h0M328.1 391.7h0M331.9 444.7h0M343.8 406.5h0M306.0 415.6h0M390.7 383.0h0M388.9 408.4h0M342.3 446.3h0M367.7 432.8h0M352.8 386.3h0M293.6 434.4h0M382.2 420.1h0M314.4 438.4h0M388.3 418.8h0M381.8 424.5h0M347.9 439.2h0M301.5 400.1h0M322.7 433.8h0M384.0 443.2h0M316.6 396.8h0M354.4 443.5h0M301.5 435.9h0M381.7 389.1h0M339.7 420.0h0M374.7 405.9h0M379.4 440.3h0M327.1 400.6h0M375.6 379.0h0M295.4 409.1h0M300.0 394.0h0M362.6 401.6h0M361.6 441.7h0M299.3 405.4h0M298.9 385.6h0M368.5 408.7h0M347.6 382.7h0M298.6 444.4h0M340.1 435.8h0M331.7 433.8h0M312.3 414.9h0M374.2 446.2h0M298.8 412.4h0M388.5 396.9h0M380.0 406.7h0M308.3 408.2h0M328.5 442.6h0M387.4 421.6h0M390.3 446.5h0M306.3 379.9h0M386.7 395.3h0M388.3 444.7h0M306.3 445.7h0M310.0 388.7h0M302.6 383.1h0M308.2 441.4h0M330.2 419.9h0M305.1 444.0h0M344.1 438.1h0M314.7 428.2h0M391.8 388.7h0M371.2 408.1h0M359.9 433.9h0M376.3 401.5h0M328.5 410.4h0M383.5 437.6h0M299.5 408.8h0M391.2 424.7h0M312.9 407.6h0M300.4 417.4h0M295.7 390.4h0M309.1 422.3h0M331.6 439.9h0M380.2 435.8h0M303.1 400.0h0M319.2 418.8h0M365.6 426.0h0M350.2 444.8h0M325.2 408.0h0M362.3 421.9h0M377.4 417.9h0M378.9 429.2h0M361.9 439.0h0M387.1 415.0h0M358.4 436.5h0M367.9 444.7h0M340.0 379.8h0M297.9 443.5h0M382.9 432.6h0M348.9 377.3h0M344.5 387.3h0M301.5 409.1h0M337.4 427.2h0M372.7 434.0h0M297.6 387.8h0M326.4 419.5h0M391.8 427.0h0M362.0 434.2h0M355.9 438.8h0M374.8 408.2h0M363.5 448.6h0M323.7 411.2h0M307.1 415.6h0M340.4 436.4h0M391.2 390.3h0M299.4 427.4h0M314.7 422.3h0M367.7 445.8h0M366.3 422.0h0M305.5 388.1h0M342.0 415.3h0M349.9 439.3h0M324.9 379.9h0M353.9 434.7h0M306.4 383.6h0M301.4 446.9h0M312.9 412.8h0M382.5 382.8h0M350.9 414.0h0M301.6 402.7h0M351.7 398.7h0M297.4 441.1h0M300.1 396.9h0M357.2 414.9h0M317.0 404.2h0M321.3 436.2h0M340.4 441.4h0M320.4 402.3h0M362.0 436.5h0M321.0 426.0h0M298.1 408.5h0M300.3 395.0h0M331.4 416.9h0M377.8 433.8h0M375.9 443.5h0M383.0 391.5h0M334.0 423.0h0M356.9 446.6h0M317.5 402.6h0M391.8 394.9h0M353.3 446.9h0M304.7 382.7h0M338.9 431.0h0M360.4 394.6h0M355.5 443.9h0M384.5 448.5h0M311.3 409.7h0M341.0 435.5h0M300.6 384.2h0M334.4 442.0h0M375.7 430.8h0M370.3 419.5h0M344.5 407.2h0M310.0 442.4h0M302.8 416.8h0M342.2 410.7h0M383.2 380.7h0M386.0 386.5h0M339.0 377.7h0M313.6 424.4h0M300.5 425.8h0M391.6 378.5h0M324.7 406.1h0M297.8 421.7h0M347.9 377.8h0M342.2 404.1h0M303.0 392.4h0M306.6 431.1h0M374.0 432.1h0M331.7 447.1h0M355.6 436.4h0M297.5 426.5h0M314.7 411.7h0M319.8 390.3h0M373.9 437.5h0M336.6 443.3h0M314.5 423.8h0M300.9 434.7h0M388.7 430.9h0M340.8 423.8h0M367.5 415.0h0M372.7 444.6h0M318.6 448.6h0M329.5 415.7h0M372.2 431.6h0M385.6 395.1h0M361.7 421.5h0M384.3 416.9h0M303.5 401.8h0M326.4 411.0h0M341.9 421.2h0M314.8 414.0h0M351.8 429.3h0M383.5 431.9h0M349.6 434.6h0M321.0 412.1h0M298.1 412.4h0M378.8 415.1h0M346.5 420.3h0M389.7 397.6h0M365.9 426.0h0M297.1 434.0h0M324.5 401.4h0M381.2 416.2h0M320.8 384.9h0M329.8 424.1h0M324.6 433.3h0M303.2 390.1h0M307.0 421.5h0M373.0 432.5h0M306.5 428.6h0M359.0 445.9h0M339.2 446.6h0M335.8 412.6h0M342.6 443.8h0M317.7 442.9h0M371.6 442.8h0M372.7 417.4h0M334.5 388.9h0M357.9 444.3h0M302.3 432.0h0M349.4 412.7h0M385.7 437.2h0M293.3 417.1h0M383.5 415.2h0M353.2 431.1h0M356.1 394.1h0M300.7 388.6h0M306.1 432.9h0M379.5 436.9h0M331.2 436.9h0M326.8 441.7h0M298.6 380.5h0M306.5 419.9h0M375.3 414.6h0M348.2 427.6h0M294.0 446.5h0M297.9 428.7h0M329.4 419.6h0M366.2 425.0h0M340.0 443.1h0M293.5 382.0h0M315.3 392.4h0M357.4 440.8h0M328.1 412.1h0M352.6 429.0h0M294.9 398.7h0M360.7 446.7h0M361.6 417.3h0M309.6 417.4h0M294.8 389.1h0M359.1 390.2h0M359.7 436.7h0M386.5 430.7h0M371.1 407.6h0M295.3 376.4h0M299.8 439.8h0M301.8 436.4h0M336.1 407.6h0M384.9 431.2h0M378.3 422.1h0M337.8 447.9h0M344.3 424.1h0M318.5 421.7h0M361.7 414.3h0M350.9 395.1h0M313.9 390.6h0M330.5 430.5h0M301.7 426.3h0M312.5 383.4h0M297.6 405.1h0M310.3 396.3h0M314.9 439.4h0M304.9 423.9h0M294.2 405.0h0M313.3 429.4h0M301.3 416.1h0M366.4 430.2h0M331.1 428.4h0M347.8 420.3h0M321.4 399.1h0M301.7 439.2h0M388.6 393.5h0M381.6 408.1h0M370.0 403.9h0M294.0 438.9h0M370.6 447.7h0M341.0 382.8h0M327.3 402.8h0M391.5 443.2h0M377.6 403.4h0M299.1 418.7h0M299.0 423.0h0M327.6 433.0h0M312.1 405.8h0M370.4 409.5h0M307.6 401.3h0M370.3 448.8h0M342.4 431.2h0M318.2 426.7h0M315.0 438.7h0M311.9 403.1h0M340.8 400.8h0M339.4 416.6h0M381.6 384.5h0M388.4 420.1h0M372.9 440.6h0M337.9 437.3h0M337.5 446.5h0M336.0 406.6h0M335.3 446.1h0M322.2 398.8h0M294.2 426.8h0M322.0 423.0h0M377.7 395.8h0M348.4 438.5h0M381.7 380.9h0M338.9 403.8h0M373.2 442.0h0M385.5 438.9h0M361.6 442.7h0M300.0 404.8h0M295.1 383.6h0M302.3 385.7h0M360.7 420.9h0M321.8 406.1h0M293.3 399.1h0M303.3 443.8h0M322.2 395.3h0M379.1 422.3h0M387.6 440.3h0M305.6 427.9h0M317.2 396.7h0M325.1 421.2h0M315.7 418.7h0M359.3 416.3h0M313.4 381.2h0M363.6 399.7h0M296.0 438.4h0M314.2 433.5h0M298.4 388.9h0M326.2 403.6h0M350.2 422.0h0M383.8 424.7h0M329.7 446.8h0M296.1 424.8h0M365.1 416.3h0M343.4 385.1h0M355.7 422.3h0M322.4 442.1h0M373.3 422.8h0M352.2 380.3h0M382.7 446.3h0M318.9 380.1h0M298.5 391.5h0M330.5 410.9h0M329.3 409.9h0M337.5 428.6h0M381.9 395.9h0M384.8 392.6h0M365.3 424.2h0M390.4 409.6h0M342.6 428.4h0M373.3 407.9h0M335.3 423.9h0M368.6 442.9h0M336.2 445.8h0M371.4 418.5h0M341.3 424.3h0M329.9 434.1h0M294.3 391.8h0M320.9 413.9h0M335.9 443.0h0M306.6 408.9h0M350.2 418.8h0M332.7 403.8h0M342.9 441.4h0M373.7 437.6h0M294.5 386.8h0M379.0 409.7h0M351.4 433.5h0M342.6 390.9h0M379.8 396.2h0M390.3 388.8h0M297.2 441.2h0M354.2 430.5h0M380.6 388.5h0M357.6 383.6h0M305.2 397.1h0M362.6 396.2h0M302.0 398.3h0M306.9 448.5h0M375.4 379.5h0M298.1 414.7h0M377.5 402.3h0M331.7 413.8h0M325.8 422.6h0M312.7 400.2h0M330.4 443.1h0M319.6 410.2h0M307.4 415.4h0M303.8 392.1h0M350.4 437.8h0M370.4 400.3h0M359.7 427.9h0M318.4 427.2h0M345.7 426.4h0M321.8 404.5h0M304.7 402.5h0M343.1 413.6h0M367.4 429.7h0M303.4 385.5h0M334.6 426.8h0M314.2 430.1h0M319.2 416.3h0M318.3 411.9h0M386.0 393.4h0M381.5 405.6h0M321.6 443.7h0M319.2 394.9h0M390.5 407.7h0M326.1 389.2h0M314.7 440.6h0M327.6 377.2h0M373.2 426.0h0M335.9 420.9h0M355.8 436.9h0M344.9 426.4h0M357.1 444.6h0M350.2 442.2h0M360.4 422.9h0M346.7 425.5h0M309.2 384.1h0M381.6 440.4h0M365.4 396.7h0M353.8 395.6h0M311.4 396.4h0M366.7 422.7h0M324.4 415.2h0M336.3 435.1h0M368.1 393.6h0M334.7 420.2h0M315.5 416.7h0M378.6 421.9h0M301.0 379.9h0M371.8 446.0h0M341.3 384.5h0M309.3 444.0h0M389.9 417.4h0M385.2 382.2h0M319.2 419.7h0M379.4 410.7h0M356.9 428.6h0M354.5 418.6h0M344.0 399.5h0M390.9 448.5h0M333.6 417.3h0M300.0 390.9h0M317.1 441.4h0M295.6 398.6h0M322.2 434.4h0M380.9 409.8h0M310.1 444.3h0M370.4 410.9h0M371.2 417.2h0M392.1 438.6h0M301.6 440.1h0M387.8 432.3h0M383.6 423.0h0M335.8 404.9h0M360.9 422.5h0M317.7 398.0h0M341.9 401.6h0M333.2 417.6h0M355.5 399.1h0M321.2 388.8h0M309.1 429.5h0M304.4 396.5h0M342.3 425.1h0M368.0 438.5h0M335.2 422.4h0M361.9 432.1h0M338.5 433.7h0M377.0 408.2h0M305.9 445.2h0M391.1 430.6h0M322.4 395.2h0M365.1 400.6h0M298.0 376.5h0M294.3 445.2h0M314.7 404.6h0M351.0 435.5h0M306.3 380.0h0M337.0 412.2h0M317.6 442.7h0M326.1 406.5h0M330.2 446.2h0M346.6 442.9h0M342.8 387.0h0M371.1 410.7h0M390.8 412.2h0M364.4 378.0h0M312.8 413.0h0M369.2 431.8h0M383.8 411.1h0M303.0 405.3h0M364.1 436.4h0M344.4 414.4h0M337.6 446.5h0M333.5 416.8h0M354.0 447.6h0M371.0 436.1h0M391.7 414.7h0M345.9 423.1h0M363.0 429.2h0M323.0 426.6h0M383.1 429.3h0M316.7 426.0h0M296.6 443.3h0M301.0 430.7h0M306.8 439.2h0M337.8 424.4h0M361.0 412.2h0M316.8 416.4h0M322.4 447.7h0M384.9 391.7h0M387.4 414.5h0M389.4 443.8h0M306.7 412.7h0M370.2 439.3h0M331.6 427.7h0M329.8 389.7h0M384.7 375.6h0M360.1 444.7h0M390.7 446.7h0M299.8 416.5h0M384.1 440.3h0M306.8 414.2h0M379.4 393.9h0M363.4 397.6h0M321.3 410.3h0M367.0 425.3h0M333.7 402.3h0M324.2 428.2h0M337.6 413.0h0M302.5 434.4h0M320.9 434.3h0M354.7 438.1h0M301.2 442.3h0M320.9 446.8h0M377.9 403.7h0M298.4 404.8h0M391.2 383.7h0M321.4 438.9h0M390.0 435.1h0M336.6 389.5h0M320.4 417.1h0M332.9 405.0h0M315.4 446.9h0M390.3 426.3h0M361.1 429.0h0M299.2 446.8h0M369.2 440.8h0M298.5 440.1h0M294.9 433.2h0M329.9 399.4h0M302.5 393.5h0M321.4 422.2h0M330.2 445.2h0M360.3 432.9h0M306.9 384.2h0M372.8 422.5h0M337.1 440.1h0M304.7 388.7h0M317.0 441.7h0M307.3 421.7h0M301.5 425.4h0M359.6 442.1h0M387.5 423.5h0M319.4 395.6h0M366.6 404.6h0M355.3 400.3h0M365.6 427.5h0M366.4 442.8h0M337.7 416.5h0M304.5 417.9h0M351.0 424.7h0M325.3 442.4h0M335.5 413.2h0M350.6 421.3h0M328.5 433.1h0M365.4 435.4h0M383.7 419.3h0M339.8 423.0h0M314.2 434.5h0M375.4 424.7h0M347.0 424.7h0M339.0 414.2h0M366.5 436.5h0M386.8 423.6h0M296.0 438.0h0M331.0 428.0h0M386.2 377.3h0M300.4 446.5h0M342.0 431.5h0M313.8 426.8h0M363.0 414.0h0M315.9 391.3h0M386.4 390.6h0M314.9 431.4h0M342.1 437.4h0M310.8 400.2h0M310.9 390.0h0M304.3 427.7h0M318.1 447.0h0M387.5 406.7h0M362.6 376.1h0M301.1 441.9h0M301.8 412.4h0M367.1 445.4h0M294.9 390.0h0M327.4 404.9h0M318.7 420.1h0M327.0 418.5h0M383.3 381.6h0M333.3 439.6h0M326.0 442.7h0M296.6 401.1h0M297.9 399.5h0M335.5 445.6h0M323.5 427.9h0M333.7 446.2h0M317.4 394.9h0M324.0 393.2h0M377.0 425.6h0M391.2 391.2h0M329.6 388.2h0M315.8 440.4h0M338.5 434.9h0M347.8 433.8h0M376.4 423.6h0M384.5 421.5h0M375.6 396.0h0M297.1 384.7h0M294.9 386.2h0M309.7 411.0h0M313.8 444.9h0M306.5 421.6h0M363.4 390.6h0M309.7 417.8h0M332.3 437.7h0M302.7 382.0h0M306.6 438.6h0M349.5 428.0h0M353.1 435.8h0M364.4 395.4h0M351.9 436.1h0M356.8 439.1h0M323.4 433.7h0M323.1 448.2h0M311.4 447.5h0M341.4 410.2h0M385.4 375.7h0M303.6 393.6h0M355.9 428.7h0M384.1 410.3h0M368.7 424.4h0M338.3 433.4h0M328.3 442.3h0M362.2 426.9h0M350.9 433.3h0M324.7 399.8h0M338.7 413.3h0M320.4 422.3h0M334.4 428.2h0M364.1 406.9h0M363.4 419.7h0M297.2 377.8h0M299.3 448.5h0M381.3 405.7h0M296.4 389.4h0M348.6 397.2h0M379.2 416.3h0M345.1 436.4h0M321.3 400.2h0M312.2 398.4h0M367.8 376.0h0M305.4 438.0h0M330.5 418.2h0M337.2 410.2h0M298.6 447.9h0M368.7 415.5h0M390.3 386.5h0M319.3 383.5h0M296.6 395.7h0M371.6 428.8h0M303.1 388.3h0M356.4 448.9h0M378.3 442.3h0M321.5 425.1h0M373.7 434.8h0M370.5 407.2h0M304.3 403.0h0M305.3 443.5h0M305.7 435.0h0M317.7 410.8h0M328.6 411.4h0M326.4 431.4h0M385.0 407.6h0M326.4 442.8h0M379.9 410.4h0M327.7 399.9h0M306.8 398.1h0M390.9 446.7h0M383.3 418.8h0M325.0 377.0h0M356.7 418.0h0M375.2 429.7h0M321.3 423.7h0M300.8 378.2h0M357.7 393.4h0M317.9 418.4h0M298.1 408.4h0M362.1 417.4h0M302.9 396.3h0M318.2 420.2h0M299.8 386.3h0M303.4 447.9h0M342.6 386.9h0M347.6 389.3h0M295.9 386.1h0M301.1 395.8h0M346.5 435.4h0M389.6 446.6h0M324.9 440.4h0M348.6 427.3h0M341.6 440.5h0M381.3 436.5h0M303.7 434.1h0M366.7 433.4h0M333.3 395.8h0M351.1 430.4h0M355.3 432.3h0M310.1 408.8h0M323.4 420.1h0M311.7 442.3h0M389.6 383.6h0M304.0 412.3h0M380.9 404.1h0M306.4 400.7h0M306.5 399.4h0M326.7 446.7h0M296.1 424.7h0M314.4 390.8h0M391.7 434.2h0M311.5 387.9h0M379.2 441.7h0M305.4 376.9h0M377.6 445.9h0M390.6 426.3h0M319.3 414.5h0M357.7 429.6h0M386.5 375.8h0M380.8 417.1h0M379.4 396.2h0M367.1 432.5h0M304.8 394.2h0M387.9 438.9h0M298.4 403.8h0M358.9 440.5h0M343.8 395.6h0M326.2 427.6h0M364.4 405.8h0M318.2 417.4h0M320.3 430.0h0M362.7 442.0h0M388.5 378.4h0M300.1 424.5h0M353.6 431.0h0M309.5 393.9h0M374.2 417.0h0M332.5 434.1h0M383.5 381.7h0M312.2 423.7h0M302.4 423.7h0M313.1 446.4h0M297.2 375.6h0M304.0 408.7h0M337.2 417.1h0M332.6 438.6h0M303.0 400.5h0M303.4 419.3h0M372.8 444.1h0M364.2 418.2h0M295.6 377.4h0M344.7 398.4h0M372.2 425.2h0M293.2 420.3h0M370.2 434.2h0M384.9 386.2h0M309.3 441.6h0M383.1 433.0h0M360.9 432.5h0M328.7 383.6h0M384.2 386.8h0M364.6 422.9h0M356.4 411.7h0M356.6 390.8h0M348.4 412.5h0M301.1 389.2h0M354.9 410.8h0M309.4 409.7h0M304.9 399.9h0M363.8 441.6h0M322.1 416.6h0M296.8 434.8h0M390.4 412.0h0M328.7 431.7h0M345.7 416.3h0M302.4 389.8h0M355.1 403.0h0M375.1 382.3h0M358.3 399.1h0M322.2 396.9h0M373.6 448.9h0M299.2 407.8h0M349.4 420.8h0M339.7 400.3h0M313.8 414.9h0M301.2 447.7h0M313.4 437.7h0M382.5 442.3h0M315.2 411.8h0M352.1 389.2h0M303.4 380.6h0M387.3 383.0h0M301.0 439.5h0M389.5 406.5h0M308.2 408.8h0M328.0 408.0h0M355.6 438.3h0M333.8 397.9h0M377.9 379.6h0M296.6 428.1h0M316.9 396.9h0M378.1 439.2h0M318.8 436.3h0M300.4 410.0h0M319.6 388.9h0M303.2 405.2h0M384.9 415.2h0M307.3 386.6h0M352.8 421.3h0M299.9 410.1h0M344.3 430.7h0M303.5 433.8h0M302.0 413.1h0M306.2 401.8h0M355.9 435.5h0M359.1 436.8h0M344.3 416.7h0M305.3 394.7h0M307.8 414.9h0M319.9 403.2h0M361.0 445.2h0M381.5 438.9h0M362.7 431.7h0M346.1 437.7h0M336.6 418.2h0M295.3 378.2h0M309.3 405.0h0M310.2 442.5h0M309.9 440.5h0M379.9 392.9h0M325.4 428.8h0M389.6 416.9h0M370.3 444.0h0M325.6 408.5h0M326.0 400.5h0M343.8 418.6h0M298.0 434.9h0M370.5 416.9h0M335.7 435.6h0M305.4 402.0h0M298.8 391.5h0M300.3 397.8h0M311.3 431.4h0M315.4 421.7h0M340.5 394.2h0M365.8 423.7h0M300.5 378.0h0M340.2 441.9h0M306.1 394.6h0M293.8 419.9h0M322.6 418.4h0M293.4 394.5h0M327.9 418.3h0M379.4 391.9h0M387.5 419.2h0M375.2 402.6h0M384.6 426.2h0M306.0 420.2h0M351.0 382.9h0M302.4 418.6h0M366.3 436.7h0M354.8 412.6h0M315.1 426.1h0M302.8 400.3h0M381.7 386.5h0M387.7 401.8h0M341.5 409.4h0M366.8 387.0h0M333.4 441.6h0M344.0 435.0h0M320.1 439.5h0M362.9 446.3h0M371.4 379.4h0M357.8 429.6h0M344.6 386.8h0M348.2 419.4h0M307.4 427.4h0M373.8 409.9h0M303.2 448.6h0M311.9 409.2h0M320.9 427.8h0M334.6 440.6h0M320.6 410.4h0M347.5 410.3h0M322.3 384.2h0M352.7 412.6h0M307.9 385.2h0M367.7 432.7h0M361.0 432.0h0M293.4 400.3h0M382.5 426.3h0M300.2 432.9h0M354.1 440.8h0M370.1 414.8h0M310.3 385.0h0M313.3 401.1h0M293.5 409.6h0M384.2 379.2h0M380.8 418.5h0M314.8 441.2h0M378.2 410.2h0M369.5 435.5h0M318.8 403.4h0M335.5 396.9h0M302.5 394.9h0M296.6 412.2h0M370.7 388.0h0M337.2 417.0h0M308.7 378.3h0M351.7 438.4h0M334.6 412.0h0M312.1 421.0h0M307.4 379.8h0M316.8 410.4h0M347.8 440.0h0M301.7 378.2h0M365.3 392.2h0M342.6 432.8h0M370.5 422.9h0M335.5 407.6h0M302.4 400.3h0M295.4 396.2h0M332.3 437.6h0M372.0 409.4h0M308.3 397.7h0M380.5 412.6h0M314.5 404.1h0M297.8 446.6h0M387.5 422.2h0M375.3 410.1h0M319.4 398.9h0M377.6 441.1h0M330.5 388.9h0M382.0 421.7h0M349.6 434.3h0M382.4 380.3h0M380.0 398.2h0M326.5 443.2h0M362.6 439.2h0M327.4 424.0h0M321.6 444.4h0M323.5 413.6h0M340.6 429.0h0M340.8 425.5h0M311.9 432.0h0M357.6 414.7h0M389.6 434.3h0M364.9 436.8h0M377.9 397.6h0M307.3 410.3h0M333.7 440.8h0M357.5 438.7h0M316.4 390.7h0M349.4 379.4h0M381.2 380.5h0M326.9 379.1h0M371.2 417.5h0M340.9 413.5h0M305.6 382.0h0M370.3 427.3h0M351.9 424.3h0M341.8 439.8h0M377.9 421.8h0M377.3 420.0h0M346.0 382.4h0M348.8 424.0h0M340.0 437.8h0M357.0 443.4h0M322.0 443.2h0M311.3 403.3h0M382.6 397.7h0M331.7 398.1h0M372.5 380.4h0M366.4 404.8h0M382.7 446.2h0M306.0 378.4h0M382.7 376.2h0M327.8 398.8h0M376.3 412.4h0M390.5 398.1h0M363.9 434.2h0M339.7 410.3h0M320.3 402.8h0M308.3 410.0h0M313.1 438.2h0M364.4 401.9h0M319.7 397.0h0M356.3 433.0h0M336.9 424.5h0M360.9 421.4h0M347.5 421.0h0M371.3 448.2h0M332.5 429.3h0M344.2 445.9h0M389.2 438.0h0M315.4 400.7h0M365.7 376.1h0M357.3 411.6h0M306.8 413.2h0M350.6 396.1h0M370.2 391.8h0M337.7 391.3h0M298.3 377.8h0M327.9 434.5h0M331.3 444.1h0M318.5 412.3h0M359.5 429.9h0M354.7 375.7h0M335.6 431.5h0M313.8 434.2h0M306.3 424.6h0M392.1 445.5h0M308.3 417.5h0M368.1 445.5h0M332.4 446.5h0M386.2 386.0h0M343.7 378.4h0M319.8 418.4h0M312.5 402.4h0M379.7 432.2h0M315.9 404.7h0M325.0 440.5h0M318.0 401.6h0M334.3 426.5h0M385.4 375.9h0M312.4 443.2h0M311.9 416.8h0M298.9 433.2h0M373.7 382.1h0M304.7 439.4h0M328.6 402.0h0M308.7 414.3h0M382.2 448.1h0M388.1 433.3h0M341.0 415.7h0M357.3 423.4h0M377.5 416.7h0M336.7 446.8h0M330.5 398.5h0M375.9 425.1h0M308.3 406.3h0M303.1 420.0h0M373.6 443.0h0M377.9 414.1h0M304.2 417.5h0M337.4 435.8h0M323.3 398.5h0M316.1 444.6h0M308.3 380.2h0M313.1 446.1h0M348.6 447.0h0M338.5 376.0h0M327.3 439.0h0M363.0 381.2h0M391.8 425.5h0M341.7 437.1h0M321.8 428.4h0M391.4 394.4h0M320.8 391.5h0M337.2 410.5h0M371.6 440.2h0M366.2 435.8h0M386.4 446.6h0M362.0 395.3h0M297.4 423.1h0M299.4 395.8h0M360.2 405.2h0M297.1 410.4h0M339.3 418.0h0M389.9 414.3h0M367.1 435.0h0M318.8 405.9h0M352.7 414.3h0M320.9 419.9h0M382.7 379.7h0M391.7 414.9h0M352.2 416.4h0M316.4 421.4h0M305.4 435.5h0M344.9 427.0h0M387.0 399.0h0M344.4 422.6h0M330.1 408.9h0M380.8 394.1h0M362.8 420.6h0M293.3 399.5h0M378.5 437.3h0M340.5 444.0h0M340.5 430.1h0M334.8 431.2h0M339.0 420.8h0M370.2 449.0h0M346.0 422.5h0M307.3 380.7h0M329.9 413.5h0M325.4 404.9h0M299.9 423.4h0M368.5 421.8h0M321.9 441.8h0M346.1 423.2h0M322.1 431.1h0M368.3 378.6h0M301.3 392.2h0M312.3 440.3h0M298.2 417.1h0M347.4 394.0h0M370.3 426.9h0M371.2 426.3h0M385.3 406.6h0M359.5 441.7h0M381.3 421.4h0M384.3 428.5h0M296.3 427.4h0M332.5 427.3h0M312.3 416.8h0M301.6 397.0h0M347.9 379.7h0M385.2 405.0h0M300.0 443.6h0M322.7 418.6h0M323.1 433.2h0M363.3 443.0h0M374.8 419.5h0M299.3 429.2h0M339.8 408.8h0M384.2 403.7h0M383.8 380.9h0M352.5 410.8h0M324.1 388.4h0M296.7 402.2h0M309.2 393.7h0M386.2 441.7h0M319.6 420.7h0M372.8 413.9h0M321.8 409.7h0M323.1 447.9h0M389.8 400.1h0M316.8 432.7h0M367.5 444.9h0M389.7 388.0h0M294.9 417.3h0M352.9 436.8h0M366.5 446.1h0M335.7 436.2h0M329.5 411.9h0M328.3 432.9h0M346.6 420.5h0M305.6 387.6h0M316.9 428.5h0M347.2 378.3h0M317.2 382.4h0M303.2 387.3h0M306.7 388.6h0M348.7 435.0h0M383.5 437.6h0M337.4 446.4h0M316.8 440.5h0M307.0 379.7h0M311.4 402.1h0M390.3 389.8h0M374.9 410.9h0M295.5 391.9h0M348.0 422.7h0M323.2 416.3h0M293.2 404.2h0M388.8 401.5h0M316.7 421.6h0M293.1 386.6h0M324.8 385.2h0M346.2 431.1h0M321.4 405.0h0M380.4 421.7h0M342.4 432.2h0M304.3 428.7h0M304.2 431.3h0M366.8 430.2h0M294.1 433.9h0M345.1 412.3h0M390.2 444.8h0M302.0 384.3h0M319.2 419.5h0M293.2 440.4h0M296.2 380.1h0M331.2 431.4h0M330.2 407.9h0M329.9 431.2h0M383.4 392.4h0M335.5 421.6h0M314.7 430.5h0M309.7 397.3h0M363.7 440.8h0M372.6 431.0h0M380.1 394.1h0M311.8 444.0h0M302.3 386.1h0M389.8 377.1h0M387.1 441.3h0M341.8 388.5h0M325.4 424.5h0M361.6 436.2h0M341.2 437.9h0M321.1 404.5h0M374.6 392.8h0M336.0 404.1h0M381.2 375.6h0M316.9 391.7h0M357.4 441.1h0M320.9 422.3h0M319.9 440.7h0M358.7 443.3h0M378.4 423.1h0M389.3 385.5h0M338.6 411.5h0M345.0 432.6h0M311.5 404.3h0M368.9 431.8h0M349.0 420.1h0M362.6 417.9h0M336.1 421.3h0M312.9 395.3h0M359.1 418.7h0M329.3 425.0h0M333.1 446.2h0M331.3 420.1h0M376.6 442.8h0M359.0 435.3h0M323.0 410.5h0M375.2 386.7h0M296.6 394.0h0M301.8 410.9h0M339.4 447.7h0M299.0 419.7h0M299.2 387.9h0M312.1 421.3h0M343.8 422.6h0M368.2 425.5h0M306.3 445.9h0M299.6 427.7h0M321.9 424.1h0M294.3 434.2h0M375.7 429.8h0M379.4 406.4h0M306.8 431.6h0M371.1 434.8h0M383.3 382.1h0M316.5 392.9h0M296.9 436.4h0M357.8 423.7h0M315.2 411.3h0M360.8 442.5h0M356.9 422.7h0M383.0 437.2h0M344.4 431.4h0M314.3 406.2h0M305.1 425.7h0M307.7 443.6h0M298.6 388.4h0M322.0 435.6h0M332.2 424.2h0M301.3 405.5h0M353.2 386.0h0M302.9 422.7h0M325.7 439.3h0M309.7 410.6h0M312.4 429.4h0M303.3 418.0h0M368.9 398.4h0M353.9 424.6h0M320.6 396.2h0M379.4 408.7h0M357.7 412.2h0M316.9 440.8h0M314.4 399.8h0M314.9 425.4h0M306.0 417.4h0M312.5 432.2h0M313.4 388.6h0M357.4 444.5h0M320.3 433.4h0M294.2 419.3h0M348.4 423.3h0M383.2 425.4h0M330.7 393.2h0M362.9 411.4h0M349.6 422.9h0M356.7 401.7h0M335.8 406.0h0M307.8 404.1h0M370.3 380.5h0M301.4 423.4h0M322.4 403.6h0M297.6 412.6h0M328.0 432.1h0M326.4 383.7h0M383.8 418.6h0M348.1 435.5h0M379.2 379.4h0M389.0 383.5h0M383.2 391.9h0M305.3 406.5h0M310.0 404.8h0M316.5 412.4h0M299.9 408.2h0M323.5 441.0h0M306.7 396.6h0M358.0 431.6h0M297.8 438.3h0M335.2 401.7h0M337.6 429.7h0M371.4 411.3h0M298.2 379.7h0M307.4 427.4h0M368.2 443.4h0M334.7 434.1h0M342.3 434.6h0M312.0 419.5h0M302.0 448.5h0M328.7 408.3h0M378.6 376.6h0M372.8 427.1h0M388.6 436.4h0M360.7 423.6h0M360.4 414.0h0M335.1 408.9h0M317.9 422.2h0M336.4 421.0h0M329.5 444.1h0M313.8 400.1h0M365.4 413.9h0M379.1 424.3h0M336.7 444.1h0M377.1 445.2h0M333.2 378.5h0M388.9 408.0h0M305.4 431.3h0M363.9 434.4h0M305.6 432.8h0M301.1 437.1h0M373.0 438.7h0M324.8 429.8h0M377.8 436.3h0M323.0 443.0h0M366.5 422.7h0M336.7 432.4h0M360.7 442.9h0M363.2 402.1h0M391.8 397.2h0M311.8 436.0h0M354.3 424.9h0M358.7 417.6h0M303.1 411.9h0M325.9 412.2h0M300.2 388.4h0M317.7 399.0h0M388.5 393.5h0M315.4 405.3h0M318.9 428.1h0M370.0 400.2h0M386.9 404.0h0M323.8 444.1h0M358.5 430.5h0M297.6 429.3h0M386.3 376.4h0M390.6 384.3h0M335.2 400.0h0M315.7 436.3h0M376.8 420.1h0M328.1 443.6h0M296.9 414.3h0M353.0 382.6h0M376.4 441.1h0M305.5 418.4h0M307.0 410.0h0M382.2 387.0h0M317.9 441.2h0M298.0 397.8h0M334.6 384.9h0M313.4 390.2h0M354.4 430.8h0M300.3 437.9h0M301.3 435.7h0M303.1 429.9h0M312.3 417.3h0M300.4 447.8h0M321.4 435.3h0M310.8 406.3h0M384.6 396.6h0M369.0 379.1h0M295.6 402.7h0M293.2 438.5h0M339.1 414.2h0M339.4 405.4h0M349.9 429.6h0M386.2 448.6h0M296.1 437.9h0M390.1 392.9h0M339.2 428.0h0M346.9 431.7h0M295.9 399.1h0M350.5 409.5h0M318.8 418.8h0M349.0 411.5h0M353.1 426.9h0M376.9 402.9h0M350.3 427.8h0M363.3 447.3h0M293.3 393.4h0M294.6 435.0h0M373.7 418.1h0M380.6 440.0h0M385.3 435.0h0M334.1 431.4h0M314.6 444.4h0M335.9 408.2h0M337.4 421.0h0M323.8 437.5h0M327.6 433.0h0M294.8 439.7h0M312.9 439.4h0M376.4 432.9h0M336.1 407.4h0M314.3 432.6h0M310.5 439.1h0M303.3 407.6h0M306.9 392.3h0M302.0 439.1h0M336.2 422.5h0M387.6 436.0h0M325.1 414.4h0M296.8 393.3h0M346.1 420.2h0M302.5 402.2h0M354.6 416.4h0M349.7 411.7h0M311.3 389.4h0M322.0 433.7h0M391.4 397.7h0M386.7 421.4h0M311.7 443.4h0M310.8 401.8h0M306.7 407.0h0M329.4 416.5h0M347.8 447.7h0M295.4 384.9h0M302.1 395.4h0M334.8 404.8h0M329.4 426.2h0M294.7 413.3h0M307.7 423.5h0M376.1 399.9h0M380.9 396.5h0M380.8 429.9h0M345.4 434.4h0M305.2 386.3h0M350.3 428.2h0M391.5 448.5h0M335.0 427.3h0M353.9 427.8h0M310.4 417.0h0M319.9 415.8h0M343.7 420.4h0M311.8 416.4h0M297.3 419.5h0M300.7 430.9h0M304.1 414.3h0M378.8 423.8h0M357.4 405.9h0M336.4 417.1h0M366.1 438.7h0M347.3 423.9h0M301.7 427.1h0M332.2 383.1h0M303.1 417.9h0M293.3 427.7h0M379.9 417.1h0M368.8 448.4h0M302.3 427.6h0M387.5 408.9h0M295.4 426.0h0M347.0 439.2h0M319.6 448.0h0M311.3 385.6h0M376.9 400.7h0M312.9 421.0h0M357.2 411.3h0M358.1 432.4h0M300.2 407.7h0M328.2 434.4h0M323.8 416.8h0M301.5 399.7h0M305.8 382.4h0M294.6 391.7h0M390.1 404.2h0M327.9 438.1h0M352.2 424.2h0M312.1 428.1h0" stroke="#b88c70" stroke-width="1.24" stroke-linecap="round" fill="none" opacity="0.7"/>
<path d="M384.7 445.2h0M381.5 381.5h0M351.7 406.6h0M345.6 385.0h0M312.0 408.1h0M314.9 408.9h0M295.5 381.7h0M363.4 406.4h0M343.9 429.4h0M328.6 379.6h0M370.7 418.8h0M358.3 421.1h0M389.3 402.1h0M368.4 402.5h0M349.7 424.0h0M324.2 381.7h0M340.0 428.2h0M351.6 408.3h0M356.7 388.8h0M310.7 399.2h0M373.9 389.8h0M304.3 382.7h0M296.9 395.7h0M349.8 435.8h0M325.8 402.6h0M321.6 397.8h0M370.1 415.8h0M318.6 383.3h0M370.8 427.4h0M375.2 392.9h0M347.1 443.0h0M351.8 445.0h0M309.6 447.2h0M298.5 406.0h0M295.3 435.0h0M361.2 447.1h0M372.9 445.2h0M346.4 448.1h0M367.3 400.9h0M389.7 403.1h0M312.2 381.0h0M339.2 389.9h0M385.6 445.4h0M314.4 383.0h0M345.5 387.9h0M346.9 435.2h0M318.1 406.4h0M382.4 408.1h0M327.0 441.1h0M373.7 441.3h0M361.2 405.8h0M361.7 436.5h0M356.4 392.9h0M322.3 405.5h0M369.5 416.4h0M347.6 436.2h0M303.8 421.9h0M326.0 416.6h0M375.9 393.7h0M387.4 381.2h0M348.8 415.3h0M316.3 416.7h0M339.7 408.5h0M364.3 375.7h0M330.4 433.2h0M307.1 439.2h0M313.2 425.5h0M310.2 408.5h0M334.9 381.4h0M362.4 410.7h0M361.3 415.1h0M348.1 414.1h0M322.5 441.5h0M301.6 439.9h0M378.7 412.0h0M370.1 425.0h0M353.0 396.9h0M324.7 401.1h0M323.0 446.0h0M326.9 403.9h0M334.6 435.5h0M340.4 416.2h0M318.3 395.9h0M301.8 391.4h0M319.2 438.1h0M342.8 383.5h0M338.9 384.3h0M349.1 407.9h0M378.1 394.5h0M377.4 393.6h0M390.5 422.1h0M297.2 434.8h0M320.3 402.1h0M307.5 437.0h0M302.0 429.7h0M332.3 425.4h0M322.1 381.2h0M383.8 423.6h0M309.8 447.2h0M383.5 388.8h0M294.9 420.4h0M306.8 429.3h0M339.5 427.6h0M349.5 432.1h0M374.5 419.8h0M351.7 399.5h0M306.3 382.2h0M378.0 390.6h0M335.3 398.7h0M354.5 414.7h0M378.2 407.5h0M328.9 423.3h0M366.9 443.5h0M323.9 440.6h0M390.4 447.7h0M305.8 403.4h0M369.8 436.6h0M296.9 404.5h0M364.8 431.2h0M346.1 390.9h0M333.4 379.7h0M324.3 406.9h0M374.6 418.8h0M334.1 393.5h0M324.3 424.8h0M337.2 388.1h0M374.5 417.8h0M389.0 414.9h0M354.8 406.9h0M353.3 443.0h0M390.3 424.0h0M335.7 380.0h0M376.3 404.2h0M330.9 379.6h0M296.4 404.1h0M389.7 429.9h0M363.3 424.6h0M320.1 387.8h0M352.8 380.1h0M351.3 413.3h0M346.8 384.3h0M299.7 410.2h0M307.4 422.6h0M323.7 421.1h0M367.4 420.0h0M345.7 389.9h0M327.4 447.4h0M319.6 396.3h0M341.9 415.6h0M371.4 397.1h0M388.5 377.0h0M371.4 417.3h0M382.4 386.7h0M361.4 445.1h0M359.2 383.7h0M384.4 446.8h0M304.0 436.3h0M300.9 381.4h0M371.9 428.4h0M388.0 421.9h0M343.8 395.4h0M349.8 448.4h0M357.1 439.8h0M312.6 429.5h0M365.6 380.6h0M374.4 388.4h0M314.6 379.9h0M358.7 385.9h0M389.8 375.4h0M373.3 431.3h0M349.5 417.5h0M372.2 422.2h0M306.8 434.0h0M328.1 418.4h0M343.8 441.9h0M334.1 438.2h0M301.1 399.4h0M359.5 420.4h0M375.6 390.7h0M372.8 434.0h0M307.2 385.7h0M350.9 447.2h0M353.9 406.9h0M343.3 435.0h0M344.8 414.9h0M351.9 444.0h0M372.4 437.2h0M319.4 419.6h0M374.7 428.3h0M387.4 442.8h0M305.7 412.8h0M328.5 390.5h0M342.7 447.8h0M369.2 382.7h0M317.6 402.6h0M380.8 409.2h0M308.8 415.9h0M317.5 378.2h0M351.8 448.3h0M370.0 429.6h0M308.1 416.7h0M356.2 431.3h0M337.3 379.3h0M385.0 394.9h0M366.3 409.6h0M370.3 400.3h0M302.2 406.9h0M340.6 433.7h0M333.1 424.5h0M330.3 429.3h0M310.3 440.2h0M386.7 377.1h0M378.2 432.7h0M361.7 383.2h0M365.7 432.2h0M355.1 446.3h0M386.9 422.0h0M384.8 386.0h0M322.6 414.4h0M344.8 445.5h0M356.1 421.1h0M354.6 445.0h0M332.7 429.8h0M352.5 405.0h0M326.6 386.7h0M294.1 400.1h0M322.8 381.4h0M341.2 401.2h0M384.9 432.8h0M359.0 437.7h0M320.2 384.0h0M353.5 392.1h0M390.7 406.7h0M380.9 393.5h0M302.3 421.5h0M361.7 394.2h0M384.9 447.0h0M361.2 447.6h0M390.5 386.3h0M365.5 430.3h0M365.6 400.4h0M346.9 418.7h0M377.3 379.2h0M330.2 398.6h0M371.5 384.0h0M299.1 383.9h0M304.5 407.4h0M378.9 401.5h0M303.0 424.7h0M326.0 417.4h0M367.2 409.0h0M365.7 421.0h0M377.5 431.5h0M382.4 430.3h0M321.0 412.5h0M369.6 433.2h0M365.5 437.5h0M374.8 415.2h0M356.5 378.6h0M340.4 428.9h0M383.6 437.8h0M336.6 392.3h0M380.8 423.8h0M312.0 378.2h0M380.1 417.8h0M303.9 448.3h0M351.3 431.2h0M373.0 394.2h0M344.8 388.1h0M353.8 407.4h0M371.4 383.9h0M313.4 403.9h0M293.2 405.3h0M388.5 439.1h0M310.9 436.6h0M315.3 393.0h0M356.2 397.0h0M313.0 381.7h0M310.5 389.6h0M383.5 378.5h0M346.6 391.0h0M364.5 375.6h0M329.8 429.7h0M295.6 405.7h0M325.3 411.0h0M355.4 381.3h0M378.9 395.3h0M369.6 385.2h0M302.3 389.7h0M301.3 393.6h0M306.8 381.8h0M377.5 414.3h0M342.3 412.8h0M373.4 378.8h0M297.5 424.4h0M293.7 412.6h0M355.0 437.9h0M293.1 405.0h0M324.0 418.1h0M296.3 430.9h0M387.9 415.8h0M359.1 436.9h0M376.7 435.7h0M341.3 381.8h0M371.8 437.5h0M362.5 398.6h0M389.7 421.2h0M324.0 433.3h0M315.2 393.1h0M382.8 379.5h0M379.3 404.6h0M349.7 426.3h0M382.5 391.6h0M302.2 413.1h0M315.2 406.6h0M303.9 382.0h0M349.3 379.2h0M319.4 404.0h0M302.4 434.7h0M382.4 377.8h0M373.0 388.3h0M365.4 379.9h0M367.0 444.0h0M318.7 387.5h0M326.8 438.7h0M370.4 386.9h0M382.5 429.8h0M387.9 447.0h0M308.7 429.0h0M295.4 389.5h0M346.2 392.6h0M314.7 401.7h0M338.6 443.0h0M350.7 416.3h0M364.4 389.3h0M372.7 431.5h0M373.8 408.5h0M346.7 380.9h0M338.5 422.8h0M387.2 441.4h0M326.7 431.1h0M377.9 446.2h0M360.5 399.7h0M379.7 376.6h0M349.3 409.1h0M380.6 421.1h0M312.9 387.6h0M296.6 430.8h0M370.7 402.9h0M315.2 416.4h0M312.4 414.2h0M327.1 398.9h0M361.6 393.7h0M325.9 416.9h0M386.4 386.5h0M323.4 395.5h0M324.2 411.3h0M374.4 388.7h0M364.3 407.2h0M349.7 412.4h0M352.8 388.6h0M354.1 405.0h0M370.8 419.2h0M333.5 448.0h0M310.8 376.4h0M305.2 426.2h0M302.1 429.5h0M301.8 397.3h0M354.7 376.9h0M335.9 449.0h0M365.2 404.0h0M383.1 417.3h0M373.4 400.7h0M330.9 427.0h0M368.5 426.4h0M307.9 406.4h0M324.6 392.4h0M304.5 430.5h0M307.0 401.4h0M294.9 427.3h0M355.0 381.1h0M387.3 448.6h0M367.4 434.7h0M362.8 377.0h0M320.1 392.8h0M295.1 422.4h0M351.6 402.1h0M367.2 392.6h0M320.9 383.9h0M316.3 438.0h0M341.6 429.6h0M379.1 424.4h0M328.8 446.6h0M300.9 405.8h0M380.8 425.6h0M328.1 436.3h0M368.2 428.6h0M319.4 425.4h0M358.1 437.2h0M343.9 443.8h0M364.4 390.8h0M350.4 389.8h0M354.2 399.4h0M392.0 400.6h0M371.4 436.9h0M330.0 418.8h0M316.1 403.0h0M336.6 427.8h0M343.4 387.2h0M357.4 413.4h0M345.1 408.2h0M379.0 423.6h0M358.6 412.3h0M332.9 406.8h0M360.3 407.6h0M299.9 391.6h0M298.3 379.0h0M328.6 403.2h0M338.3 390.2h0M316.1 408.3h0M321.8 394.6h0M341.8 431.6h0M299.0 376.4h0M337.4 441.2h0M355.7 402.3h0M389.5 425.4h0M374.9 437.4h0M296.9 389.7h0M371.5 404.2h0M382.3 380.6h0M386.0 421.1h0M333.8 436.5h0M346.1 409.2h0M311.3 433.1h0M307.5 397.5h0M301.7 376.6h0M322.5 378.7h0M339.5 400.9h0M294.8 409.5h0M321.4 392.4h0M346.7 399.9h0M298.4 443.9h0M389.4 392.8h0M358.4 418.5h0M317.7 415.0h0M319.3 395.7h0M338.0 378.7h0M315.8 447.8h0M369.4 399.8h0M391.9 399.6h0M377.4 399.1h0M381.7 408.7h0M379.5 385.5h0M332.1 400.8h0M370.5 439.1h0M306.4 405.6h0M310.1 380.2h0M305.9 380.8h0M322.9 407.1h0M382.7 423.4h0M368.5 399.7h0M324.9 405.7h0M316.1 376.9h0M320.3 443.7h0M298.1 412.5h0M316.0 431.5h0M296.8 413.0h0M364.9 409.4h0M307.2 440.8h0M294.9 443.6h0M374.2 440.5h0M378.9 402.6h0M355.1 410.0h0M351.0 403.4h0M377.8 398.1h0M348.7 380.4h0M298.8 440.5h0M328.4 403.0h0M390.8 428.6h0M308.4 415.4h0M340.9 419.9h0M320.0 395.7h0M386.7 419.3h0M347.6 426.3h0M367.6 388.6h0M370.7 410.9h0M307.9 398.7h0M391.3 437.6h0M382.6 412.2h0M356.1 404.6h0M365.9 414.8h0M328.5 447.3h0M342.7 378.4h0M373.8 382.5h0M320.8 408.7h0M314.0 408.5h0M336.6 414.4h0M357.7 425.8h0M298.0 392.9h0M304.6 399.9h0" stroke="#f6f2ee" stroke-width="1.40" stroke-linecap="round" fill="none" opacity="1.0"/>
<path d="M388.1 385.7h0M392.1 389.0h0M357.6 400.8h0M316.0 446.0h0M384.6 427.5h0M380.4 418.8h0M318.6 445.8h0M311.4 379.0h0M344.3 405.5h0M350.8 397.3h0M346.9 407.3h0M345.4 381.9h0M332.7 382.5h0M310.0 415.6h0M325.6 401.7h0M357.2 390.2h0M356.0 400.5h0M361.7 407.4h0M304.7 391.3h0M378.9 388.7h0M302.7 410.0h0M375.7 378.2h0M377.2 377.8h0M341.6 403.5h0M364.2 409.6h0M315.9 395.0h0M359.0 387.0h0M357.1 379.6h0M352.9 378.5h0M296.0 431.8h0M316.1 414.7h0M347.7 402.0h0M343.9 389.3h0M368.6 403.9h0M312.3 387.3h0M330.7 392.8h0M369.2 377.0h0M302.8 380.3h0M357.7 399.1h0M316.7 379.6h0M322.6 377.2h0M303.2 408.2h0M328.1 435.3h0M330.2 378.4h0M344.0 391.4h0M316.7 398.3h0M343.0 380.5h0M338.5 421.8h0M328.8 396.4h0M370.2 391.4h0M356.1 421.7h0M384.3 418.5h0M348.2 436.0h0M379.2 433.0h0M352.7 393.1h0M390.2 418.1h0M334.2 384.8h0M297.6 419.9h0M370.1 384.7h0M363.8 392.6h0M330.0 423.2h0M340.3 388.3h0M342.7 394.1h0M315.6 388.6h0M298.0 384.5h0M355.1 400.1h0M365.7 392.4h0M333.4 378.5h0M348.6 386.2h0M361.4 415.0h0M331.2 380.8h0M377.8 404.0h0M353.8 433.8h0M321.0 422.7h0M374.0 398.6h0M338.1 387.6h0M371.8 421.9h0M301.1 409.9h0M311.7 404.1h0M366.1 376.2h0M340.5 377.2h0M304.7 401.2h0M307.9 423.8h0M369.0 400.8h0M305.2 397.1h0M365.9 401.5h0M320.3 380.5h0M332.0 442.4h0M314.0 386.9h0M388.3 444.0h0M344.4 385.4h0M316.8 399.0h0M316.1 384.8h0M350.5 377.2h0M372.4 403.2h0M334.8 436.8h0M331.7 393.7h0M377.3 438.8h0M319.4 402.1h0M319.8 380.7h0M316.3 407.1h0M345.0 432.7h0M329.4 376.7h0M296.6 425.7h0M339.3 379.1h0M297.7 382.0h0M344.1 385.0h0M364.7 392.3h0M321.2 389.0h0M320.0 398.3h0M367.0 414.4h0M337.2 391.1h0M342.9 430.6h0M316.0 382.2h0M326.2 386.9h0M355.6 403.2h0M364.0 388.9h0M383.5 447.2h0M340.6 378.7h0M335.6 388.0h0M375.6 383.0h0M361.2 399.4h0M337.4 396.7h0M383.0 431.5h0M355.9 433.8h0M345.6 382.0h0M351.6 396.2h0M390.8 448.4h0M364.1 404.0h0M345.4 412.0h0M385.0 431.1h0M349.9 448.7h0M304.7 421.6h0M360.5 409.8h0M367.1 438.6h0M371.8 432.4h0M389.0 380.4h0M332.9 380.4h0M378.1 437.4h0M383.3 433.2h0M382.7 379.2h0M362.2 396.9h0M338.9 427.8h0M370.0 390.1h0M341.2 399.3h0M337.4 379.2h0M305.9 438.3h0M390.6 441.7h0M319.1 429.3h0M331.1 377.1h0M373.0 385.6h0M332.2 397.3h0M368.9 399.5h0M372.0 444.6h0M365.4 428.5h0M325.6 420.9h0M364.4 381.3h0M362.9 376.1h0M341.4 431.6h0M340.3 393.5h0M355.7 387.1h0M330.2 383.7h0M390.3 412.1h0M326.9 435.3h0M329.7 444.3h0M334.3 397.9h0M384.5 377.5h0M338.3 377.7h0M386.4 384.1h0M371.0 392.7h0M386.6 428.4h0M324.2 379.8h0M312.1 413.4h0M380.2 422.7h0M309.9 399.6h0M317.3 422.2h0M336.7 401.5h0M352.0 383.9h0M322.0 376.8h0M330.8 395.0h0M380.8 418.9h0M330.4 394.9h0M364.8 411.2h0M355.8 422.0h0M298.4 395.5h0M323.7 378.3h0M358.2 389.8h0M295.7 440.8h0M294.7 400.3h0M378.9 407.1h0M363.5 448.6h0M353.9 403.9h0M329.6 430.1h0M327.3 403.1h0M312.7 385.2h0M362.5 389.7h0M353.2 425.2h0M388.1 430.5h0M349.5 399.4h0M353.9 447.7h0M372.8 444.0h0M382.0 376.5h0M295.3 388.5h0M348.7 407.4h0M367.9 380.9h0M349.5 407.3h0M294.7 403.8h0M369.9 424.5h0M382.0 405.4h0M302.8 380.6h0M301.1 427.3h0M350.4 418.8h0M354.4 397.1h0M363.3 389.7h0M319.5 408.8h0M355.9 441.9h0M362.0 391.2h0M342.6 411.5h0M310.2 383.7h0M352.3 392.2h0M296.5 424.8h0M312.1 378.7h0M347.4 438.4h0M316.8 421.2h0M357.5 437.1h0M318.1 395.6h0M330.7 441.2h0M374.7 381.7h0M303.2 416.9h0M353.3 387.7h0M342.2 398.4h0M368.1 389.6h0M368.1 404.4h0M319.4 403.7h0M373.3 392.0h0M338.5 412.6h0M353.6 394.9h0M327.2 391.6h0M379.1 405.0h0M341.2 437.5h0M357.1 395.1h0M365.5 384.9h0M354.3 386.4h0M293.3 398.8h0M352.0 382.5h0M301.3 406.7h0M349.4 433.9h0M375.6 446.8h0M341.7 440.5h0M344.3 389.2h0M296.3 445.1h0M343.1 397.3h0M354.4 388.7h0M375.7 408.6h0M341.1 397.8h0M345.3 392.2h0M333.7 399.8h0M357.3 393.8h0M330.2 414.5h0M361.3 421.8h0M374.7 439.5h0M378.1 446.4h0M295.0 414.7h0M341.8 389.2h0M359.3 392.9h0M319.9 425.5h0M320.5 447.8h0M335.3 380.0h0M322.9 413.1h0M371.6 380.8h0M334.6 437.9h0M376.6 388.8h0M303.7 377.8h0M321.1 423.3h0M383.3 423.1h0M349.9 437.6h0M358.7 379.9h0M314.1 420.3h0M377.7 396.1h0M369.6 397.7h0M322.0 404.3h0M324.7 381.3h0M372.0 389.0h0M382.7 401.0h0M309.6 378.0h0M354.9 445.1h0M365.0 435.1h0M384.4 447.1h0M309.5 383.3h0M326.9 434.3h0M324.0 409.9h0M336.6 375.6h0M344.3 388.2h0M351.1 396.8h0M351.2 432.0h0M335.2 448.9h0M353.0 384.9h0M313.5 404.2h0M310.8 425.3h0M328.9 436.0h0M328.0 385.1h0M305.6 381.4h0M379.1 436.2h0M349.1 425.2h0M296.6 439.5h0M311.8 385.1h0M318.8 380.1h0M365.5 405.7h0M342.1 383.2h0M333.2 393.6h0M360.8 407.1h0M322.6 390.0h0M372.2 397.1h0M354.7 406.1h0M369.5 383.5h0M314.6 392.5h0M369.3 384.1h0M370.7 394.2h0M377.9 375.5h0M363.6 400.0h0M343.0 401.0h0M347.6 389.6h0M348.4 392.4h0M296.8 401.8h0M341.5 441.9h0M313.9 400.0h0M344.4 432.7h0M377.2 441.2h0M365.7 448.9h0M328.5 387.8h0M297.5 448.7h0M325.1 411.8h0M359.8 405.9h0M337.7 392.9h0M374.8 381.4h0M350.0 397.2h0M358.8 381.6h0M339.3 394.2h0M297.0 415.9h0M341.0 383.7h0M360.5 407.8h0M302.4 414.8h0M342.9 397.3h0M338.0 389.0h0M383.8 430.8h0M356.0 393.9h0M303.8 432.3h0M377.7 422.1h0M387.0 388.7h0M362.5 398.7h0M323.1 384.1h0M358.0 407.1h0M374.9 379.5h0M382.5 405.7h0M363.6 415.9h0M349.5 392.4h0M343.1 386.9h0M297.2 416.7h0M315.3 377.2h0M305.3 400.3h0M337.3 398.4h0M365.6 406.5h0M363.7 447.9h0M352.5 395.7h0M364.4 418.5h0M295.0 443.5h0M334.9 389.1h0M310.3 415.4h0M378.5 420.0h0M333.5 376.9h0M349.4 402.5h0M298.5 447.8h0M334.5 402.8h0M344.2 379.4h0M314.7 410.5h0M335.7 382.7h0M363.8 448.9h0M381.3 430.1h0M364.3 408.0h0M314.9 393.2h0M356.2 404.5h0M324.2 441.2h0M309.2 406.7h0M362.6 376.6h0M329.6 381.0h0M364.0 390.8h0M341.4 381.9h0M345.8 379.4h0M357.2 382.0h0M371.2 398.7h0M338.2 397.6h0M303.7 387.4h0M329.4 376.5h0M380.9 413.3h0M314.3 379.5h0M327.2 386.7h0M389.4 431.2h0M294.1 444.5h0M320.7 380.8h0M368.7 408.7h0M352.1 443.0h0M365.2 391.1h0M330.1 377.6h0M351.2 398.3h0M379.5 383.6h0M324.5 395.4h0M360.6 375.6h0M372.2 432.5h0M389.2 390.6h0M328.9 424.5h0M337.8 420.8h0M381.0 414.2h0M330.2 423.0h0M294.7 418.5h0M364.0 407.7h0M334.0 427.5h0M303.5 435.6h0M367.8 404.9h0M346.1 431.8h0M317.1 381.0h0M340.1 375.9h0M309.7 424.6h0M338.5 380.1h0M343.4 387.8h0M293.5 420.3h0M358.5 382.1h0M334.9 375.5h0M303.8 438.5h0M391.4 421.3h0M386.0 409.3h0M306.2 445.2h0M335.2 399.8h0M358.4 448.6h0M370.6 420.5h0M325.7 447.0h0M363.0 381.9h0M339.9 413.3h0M377.0 406.7h0M330.3 379.5h0M384.2 440.6h0M357.9 395.5h0M311.8 383.3h0M348.2 402.8h0M344.6 385.7h0M352.1 404.1h0M370.5 381.2h0M375.7 391.6h0M326.0 396.0h0M350.1 418.9h0M365.7 379.1h0" stroke="#bcc0e0" stroke-width="1.10" stroke-linecap="round" fill="none" opacity="1.0"/>
</g>
</g>
<g clip-path="url(#c13)">
<rect x="393.00" y="375.40" width="99.10" height="73.60" fill="#a27268"/>
<path d="M389.0,371.4 L456.9,371.4 L463.0,382.3 L469.0,388.9 L472.3,394.6 L475.7,401.4 L476.9,406.9 L469.2,413.0 L460.0,412.4 L453.8,410.0 L449.0,403.4 L444.6,397.7 L437.0,398.0 L432.3,399.2 L426.0,401.4 L420.0,402.3 L412.0,398.4 L405.0,394.4 L398.0,390.4 L389.0,388.4Z" fill="#d6d7e6" filter="url(#soft)"/>
<path d="M401.0,419.4 L413.0,416.4 L421.0,421.4 L419.0,429.4 L407.0,430.4Z" fill="#c8b4b4" filter="url(#soft)" opacity="0.7"/>
<path d="M433.0,413.4 L443.0,411.4 L447.0,421.4 L441.0,429.4 L435.0,425.4Z" fill="#c8b4b4" filter="url(#soft)" opacity="0.7"/>
<g filter="url(#dsoft)">
<path d="M445.4 418.5h0M482.1 440.3h0M487.0 406.6h0M402.4 413.1h0M420.2 420.3h0M467.6 381.8h0M418.3 416.0h0M472.3 444.1h0M413.4 414.8h0M417.6 435.4h0M467.2 435.1h0M404.6 396.2h0M426.9 439.1h0M466.4 447.6h0M423.7 414.5h0M468.2 446.5h0M479.3 380.2h0M420.6 444.1h0M418.8 414.6h0M419.7 412.3h0M478.0 415.7h0M418.0 426.5h0M408.3 444.0h0M429.5 435.3h0M407.6 409.6h0M462.8 438.5h0M478.3 419.9h0M438.8 405.3h0M441.9 404.2h0M432.4 445.0h0M490.4 436.7h0M414.6 440.1h0M423.8 424.6h0M464.5 422.1h0M420.8 440.1h0M441.1 438.3h0M445.8 413.7h0M485.9 400.5h0M422.5 440.4h0M410.0 412.5h0M452.6 439.2h0M449.3 437.7h0M402.5 409.4h0M491.3 430.6h0M491.0 414.5h0M433.3 432.4h0M403.9 409.2h0M395.8 444.9h0M443.7 402.6h0M481.8 430.1h0M481.8 392.5h0M472.6 383.7h0M477.9 385.8h0M405.3 411.3h0M467.9 418.2h0M404.1 445.5h0M450.2 436.3h0M467.9 377.6h0M420.3 437.7h0M440.7 447.5h0M454.5 413.4h0M476.1 399.2h0M485.9 443.8h0M482.1 423.1h0M440.9 411.5h0M401.7 432.6h0M467.0 383.7h0M487.7 420.9h0M433.4 434.0h0M401.0 425.7h0M428.4 414.7h0M419.7 446.1h0M466.9 424.1h0M487.9 414.0h0M460.2 432.6h0M485.6 426.4h0M393.1 402.3h0M425.8 403.1h0M427.9 423.3h0M477.4 447.8h0M460.0 444.8h0M474.5 446.2h0M444.5 427.6h0M418.1 437.0h0M427.3 420.6h0M462.2 416.1h0M438.4 421.6h0M447.4 420.8h0M479.2 410.1h0M431.7 443.8h0M470.7 447.1h0M490.5 430.5h0M480.5 388.9h0M406.9 444.8h0M393.2 423.8h0M415.9 412.1h0M455.3 429.5h0M418.8 447.4h0M435.3 406.6h0M442.1 436.0h0M489.0 404.5h0M410.7 418.6h0M400.1 397.3h0M461.6 420.8h0M476.5 409.6h0M419.4 404.3h0M425.9 408.5h0M436.0 448.3h0M489.0 411.9h0M436.0 395.8h0M474.0 426.6h0M428.7 445.9h0M453.5 416.8h0M463.3 413.2h0M411.8 420.5h0M450.7 443.5h0M442.3 429.6h0M478.3 418.4h0M484.8 423.5h0M483.1 406.7h0M458.8 426.2h0M405.4 433.2h0M407.6 428.3h0M466.7 421.5h0M424.9 422.6h0M433.4 441.6h0M437.9 430.0h0M456.0 423.0h0M464.8 383.0h0M451.9 429.1h0M433.5 443.1h0M481.0 433.2h0M443.6 404.4h0M429.3 405.2h0M464.2 380.9h0M437.9 437.7h0M474.2 387.7h0M394.0 440.1h0M443.2 420.9h0M477.7 398.7h0M449.5 420.0h0M485.2 424.2h0M452.4 408.9h0M456.3 442.5h0M470.3 431.0h0M482.3 405.6h0M425.8 421.9h0M476.0 400.5h0M458.0 380.7h0M481.7 439.4h0M397.5 435.6h0M488.7 384.5h0M474.7 418.3h0M459.5 433.3h0M402.3 424.0h0M472.3 392.2h0M482.0 379.0h0M409.0 413.3h0M397.7 397.5h0M488.9 378.9h0M448.7 423.1h0M416.6 409.8h0M470.1 431.2h0M452.3 427.8h0M445.6 402.0h0M424.5 448.1h0M487.4 376.8h0M482.2 420.3h0M474.7 417.3h0M466.6 419.2h0M411.6 438.9h0M428.9 420.2h0M480.9 390.2h0M435.9 433.6h0M413.8 426.6h0M424.3 416.9h0M450.4 413.0h0M458.7 426.4h0M428.2 437.7h0M481.9 448.7h0M441.9 422.4h0M404.6 427.7h0M432.8 426.6h0M416.3 416.6h0M404.2 415.5h0M442.8 402.3h0M485.0 386.3h0M487.9 427.8h0M421.1 417.7h0M442.2 421.0h0M462.5 398.1h0M473.6 377.2h0M393.1 395.7h0M476.6 431.5h0M419.9 442.9h0M490.5 407.4h0M416.1 409.3h0M476.3 425.3h0M413.0 430.6h0M415.9 426.2h0M487.3 416.7h0M482.5 401.6h0M474.3 413.9h0M426.4 418.1h0M441.2 407.3h0M411.1 440.2h0M395.3 395.7h0M435.5 421.3h0M400.2 442.1h0M465.2 414.8h0M429.7 447.9h0M462.0 427.1h0M396.1 441.9h0M429.1 434.2h0M463.8 427.3h0M415.8 417.7h0M439.2 416.6h0M400.4 419.2h0M480.6 438.2h0M472.6 415.4h0M482.2 439.5h0M459.1 413.5h0M400.7 439.7h0M409.8 432.3h0M487.4 438.8h0M491.0 376.3h0M477.7 442.3h0M477.0 378.3h0M454.6 440.8h0M486.7 394.4h0M489.9 379.5h0M481.2 437.5h0M477.9 407.6h0M482.8 423.4h0M422.3 447.6h0M460.5 424.2h0M488.1 408.1h0M438.7 434.8h0M487.0 430.6h0M446.7 406.4h0M457.8 445.0h0M411.4 432.3h0M454.5 446.1h0M472.7 412.4h0M397.7 429.6h0M398.0 410.6h0M488.5 402.4h0M466.9 442.9h0M436.0 404.5h0M479.1 417.6h0M448.3 402.8h0M436.8 412.7h0M446.8 428.3h0M490.9 431.8h0M398.1 441.8h0M404.7 428.6h0M396.3 425.3h0M455.7 424.7h0M406.3 422.2h0M402.8 407.4h0M408.0 438.3h0M471.8 414.9h0M410.0 442.2h0M483.8 396.6h0M446.5 446.3h0M420.9 417.3h0M415.1 425.5h0M415.7 420.3h0M445.1 401.9h0M428.6 427.0h0M419.2 402.7h0M414.0 402.6h0M423.9 404.7h0M431.0 435.4h0M433.0 412.6h0M481.0 396.2h0M463.1 378.5h0M438.4 411.3h0M431.1 429.8h0M414.5 388.6h0M418.6 410.3h0M482.0 412.0h0M485.9 395.9h0M479.1 388.5h0M489.2 427.9h0M491.0 420.0h0M433.0 418.0h0M459.5 426.6h0M457.0 426.1h0M448.8 430.2h0M417.8 445.1h0M483.3 410.6h0M486.4 394.6h0M404.6 440.0h0M422.8 444.0h0M429.2 423.3h0M434.1 407.1h0M427.2 443.6h0M490.5 438.8h0M419.2 441.1h0M431.6 405.6h0M436.0 402.9h0M487.5 406.9h0M429.5 415.0h0M489.2 393.3h0M422.2 407.2h0M476.2 398.5h0M478.7 379.0h0M487.9 403.7h0M407.4 446.6h0M456.0 392.5h0M424.6 426.3h0M481.3 393.2h0M431.8 444.4h0M461.2 419.8h0M478.1 400.4h0M485.1 379.9h0M445.4 432.0h0M468.4 378.5h0M400.1 410.3h0M481.7 400.3h0M480.1 442.5h0M478.3 427.2h0M470.6 378.8h0M437.0 422.8h0M409.0 445.9h0M411.4 407.7h0M475.4 377.9h0M424.6 411.3h0M419.8 414.1h0M444.1 428.8h0M419.9 419.8h0M474.0 391.1h0M426.3 444.1h0M459.8 438.5h0M440.0 442.4h0M484.0 398.1h0M479.0 412.2h0M430.8 402.9h0M419.0 426.9h0M462.7 417.4h0M398.4 440.3h0M430.1 426.4h0M402.7 441.5h0M403.1 433.5h0M452.8 439.0h0M396.2 428.9h0M489.9 427.0h0M428.6 431.2h0M455.0 419.4h0M485.6 404.9h0M475.5 435.8h0M479.4 405.3h0M486.0 414.5h0M439.5 440.7h0M395.8 414.5h0M398.4 439.0h0M453.4 419.5h0M487.1 400.2h0M481.9 411.1h0M486.0 378.9h0M482.2 390.9h0M449.4 406.2h0M434.5 437.5h0M444.0 424.9h0M484.0 427.3h0M490.1 394.2h0M481.4 422.9h0M486.0 399.8h0M429.3 439.7h0M442.8 424.9h0M488.7 397.7h0M444.2 443.4h0M423.3 402.3h0M420.8 446.9h0M457.2 428.3h0M443.2 447.1h0M409.1 403.9h0M432.4 429.4h0M452.5 384.0h0M431.7 401.2h0M405.2 412.5h0M408.4 435.8h0M465.1 446.8h0M479.6 442.4h0M475.2 395.4h0M478.6 420.5h0M454.1 414.5h0M407.7 413.6h0M403.2 442.9h0M473.1 419.9h0M479.1 416.7h0M445.7 418.1h0M422.2 409.5h0M421.7 407.4h0M433.1 399.3h0M411.7 421.6h0M415.1 414.8h0M471.9 430.6h0M402.1 418.1h0M445.0 446.7h0M475.5 440.1h0M429.2 424.5h0M404.5 394.4h0M480.6 419.7h0M486.9 382.2h0M408.2 448.1h0M464.7 443.7h0M468.6 424.2h0M442.7 445.9h0M439.6 419.1h0M411.3 435.6h0M455.8 424.6h0M471.0 429.4h0M450.3 423.8h0M447.6 408.3h0M467.9 444.3h0M447.3 406.1h0M463.5 424.8h0M423.1 423.8h0M441.5 447.9h0M448.1 435.1h0M488.0 397.5h0M393.1 441.2h0M402.3 407.0h0M443.6 405.9h0M488.5 383.1h0M420.6 428.7h0M420.7 426.6h0M437.9 416.7h0M450.3 429.6h0M478.0 398.5h0M418.7 412.7h0M434.6 431.9h0M462.4 415.6h0M407.0 436.6h0M433.6 406.3h0M426.2 448.9h0M426.4 433.4h0M393.3 448.8h0M485.6 403.8h0M466.3 437.5h0M407.3 416.0h0M472.1 426.1h0M447.0 417.0h0M429.8 409.8h0M399.5 391.4h0M463.9 438.8h0M459.8 416.4h0M424.1 445.1h0M399.7 392.0h0M449.0 433.0h0M459.0 419.8h0M444.1 411.8h0M465.1 422.5h0M433.6 440.4h0M490.6 393.5h0M410.0 404.5h0M474.8 379.1h0M474.6 443.4h0M408.4 414.3h0M403.5 409.8h0M434.1 429.2h0M491.4 416.9h0M478.5 403.6h0M404.0 399.8h0M471.8 422.0h0M393.6 415.5h0M489.9 383.8h0M403.3 399.6h0M449.3 435.8h0M425.1 436.5h0M399.9 397.8h0M395.4 427.6h0M486.3 417.0h0M421.5 404.6h0M398.2 428.8h0M448.8 422.9h0M433.5 402.0h0M479.8 414.3h0M488.8 388.5h0M397.1 391.8h0M427.4 402.9h0M452.6 429.3h0M472.9 430.2h0M438.8 437.3h0M478.2 446.9h0M431.6 448.0h0M450.8 438.2h0M418.8 402.7h0M396.9 402.8h0M423.8 403.5h0M408.1 424.8h0M403.3 400.0h0M472.9 377.1h0M471.9 378.4h0M444.7 411.5h0M445.4 434.7h0M396.5 432.0h0M437.6 446.3h0M446.7 402.6h0M445.3 441.0h0M490.8 433.1h0M476.0 414.0h0M420.1 435.6h0M472.1 397.3h0M453.1 413.8h0M421.9 406.9h0M409.6 425.2h0M480.1 432.1h0M445.2 426.8h0M487.4 376.1h0M397.8 413.0h0M419.8 423.5h0M441.3 421.9h0M450.9 419.0h0M402.7 443.0h0M412.8 428.1h0M443.1 407.8h0M491.8 413.6h0M438.2 445.1h0M397.6 410.9h0M481.4 444.8h0M405.3 424.8h0M421.2 443.6h0M481.8 407.1h0M473.1 387.0h0M452.9 414.1h0M403.9 430.1h0M488.7 400.5h0M402.5 430.1h0M400.3 430.6h0M423.2 431.2h0M435.1 439.6h0M457.0 416.9h0M439.6 434.9h0M487.7 380.8h0M454.9 415.5h0M488.4 384.3h0M444.6 428.3h0M422.4 424.1h0M481.8 437.4h0M441.2 441.9h0M417.7 443.5h0M437.3 410.1h0M451.2 425.1h0M473.8 441.8h0M433.3 438.7h0M398.1 429.4h0M455.9 423.0h0M464.3 429.3h0M452.4 423.6h0M424.0 441.8h0M447.2 445.0h0M480.3 443.4h0M465.9 432.7h0M490.8 394.1h0M419.6 445.0h0M485.6 436.6h0M427.7 407.8h0M399.4 417.2h0M478.3 394.9h0M447.0 413.3h0M416.9 422.3h0M487.0 408.7h0M399.3 423.1h0M482.6 404.3h0M395.3 441.3h0M396.6 436.6h0M435.1 406.6h0M422.8 418.9h0M487.1 375.5h0M442.9 421.5h0M466.5 425.1h0M414.0 433.5h0M394.7 437.5h0M481.4 387.6h0M412.7 419.3h0M491.7 401.7h0M405.1 421.7h0M486.9 418.8h0M462.8 378.0h0M487.3 447.2h0M469.7 425.1h0M483.2 418.0h0M490.0 443.1h0M436.8 441.8h0M421.2 385.9h0M410.8 438.6h0M393.9 404.9h0M465.7 384.5h0M416.3 444.3h0M428.1 444.3h0M400.3 443.5h0M420.4 402.4h0M468.3 414.6h0M464.7 429.2h0M492.0 418.7h0M397.2 436.7h0M441.9 403.6h0M457.1 421.8h0M485.6 428.7h0M469.5 418.7h0M412.8 423.2h0M395.3 426.3h0M479.4 375.6h0M469.3 444.2h0M488.4 404.4h0M487.2 436.8h0M474.3 385.4h0M466.0 421.6h0M449.5 426.8h0M447.5 414.8h0M491.2 417.1h0M474.1 413.4h0M407.8 414.3h0M440.4 440.0h0M411.2 425.2h0M487.7 441.3h0M394.4 399.1h0M466.6 382.3h0M478.4 395.7h0M416.4 417.2h0M491.1 424.6h0M473.6 418.2h0M454.9 412.0h0M449.4 417.1h0M427.0 437.4h0M473.3 416.2h0M440.4 418.7h0M455.4 411.2h0M405.0 448.6h0M448.5 404.5h0M476.5 381.5h0M481.2 423.2h0M395.8 398.6h0M477.0 442.8h0M457.7 426.9h0M475.6 386.4h0M414.9 432.9h0M489.0 409.5h0M429.4 423.4h0M445.9 407.7h0M471.4 444.4h0M417.8 418.9h0M460.5 415.8h0M470.4 390.2h0M463.4 434.1h0M488.9 394.8h0M397.7 418.7h0M482.8 395.7h0M491.9 385.9h0M409.6 424.5h0M442.2 413.0h0M422.8 442.1h0M466.2 380.6h0M415.5 412.1h0M478.4 439.0h0M482.3 417.9h0M419.4 417.0h0M469.4 414.0h0M465.9 430.9h0M492.0 396.0h0M436.5 430.9h0M487.7 421.0h0M407.7 415.2h0M401.9 408.3h0M423.2 428.2h0M431.6 400.9h0M424.1 435.2h0M436.8 403.3h0M411.9 434.5h0M423.3 415.2h0M443.3 441.9h0M471.7 423.4h0M481.0 395.0h0M433.8 413.7h0M462.7 431.0h0M491.9 427.5h0M417.5 422.3h0M456.0 439.1h0M417.6 415.3h0M427.5 439.7h0M446.2 433.0h0M408.9 432.8h0M405.7 403.4h0M477.8 445.9h0M398.8 444.2h0M457.6 413.1h0M480.7 443.7h0M403.5 421.5h0M441.6 417.2h0M420.8 425.4h0M492.0 430.3h0M473.7 425.7h0M474.8 447.9h0M425.0 421.5h0M400.2 418.6h0M444.0 412.7h0M488.1 380.3h0M491.7 376.7h0M428.0 436.0h0M476.4 421.4h0M472.8 375.5h0M473.1 413.4h0M483.9 387.9h0M464.9 379.3h0M404.0 426.9h0M412.6 405.8h0M430.6 409.9h0M438.4 418.2h0M473.1 377.5h0M436.4 400.3h0M476.1 392.1h0M403.2 433.4h0M433.7 416.3h0M426.7 423.4h0M433.1 434.8h0M485.9 421.5h0M431.8 402.5h0M448.7 442.0h0M450.8 420.6h0M398.1 421.4h0M412.2 417.6h0M481.5 422.6h0M398.9 404.4h0M474.1 401.8h0M408.3 410.6h0M399.0 438.0h0M451.5 439.3h0M426.6 404.4h0M469.9 446.8h0M398.9 445.9h0M474.1 421.0h0M478.3 396.4h0M478.1 428.8h0M438.9 416.3h0M423.2 433.9h0M481.9 387.2h0M468.3 437.0h0M490.2 440.7h0M400.1 393.6h0M435.5 413.4h0M470.9 424.4h0M423.7 413.1h0M431.1 420.2h0M412.1 406.0h0M420.7 402.7h0M420.1 427.2h0M485.0 419.4h0M435.5 437.9h0M413.2 418.6h0M427.5 419.9h0M455.9 410.9h0M409.7 447.7h0M480.6 407.6h0M480.1 398.1h0M472.1 423.9h0M421.9 411.2h0M481.3 417.1h0M432.5 405.1h0M491.2 377.0h0M429.2 443.5h0M442.6 446.5h0M464.4 428.9h0M437.3 424.2h0M487.2 403.1h0M445.4 437.1h0M462.8 415.2h0M431.7 426.2h0M488.4 441.4h0M447.3 408.7h0M447.1 409.0h0M418.3 417.8h0M491.0 382.7h0M440.5 448.4h0M397.3 405.5h0M485.5 391.5h0M479.6 389.6h0M400.6 395.8h0M436.1 415.9h0M489.3 404.4h0M455.8 444.4h0M454.1 448.3h0M467.1 442.3h0M400.1 439.8h0M484.9 378.6h0M473.2 418.7h0M424.8 420.0h0M474.0 444.2h0M437.3 411.0h0M490.9 439.0h0M479.2 413.0h0M436.5 442.1h0M412.4 446.5h0M446.0 427.7h0M446.1 437.6h0M490.2 379.6h0M482.2 388.3h0M418.8 439.0h0" stroke="#bc9080" stroke-width="1.70" stroke-linecap="round" fill="none" opacity="0.8"/>
<path d="M416.0 431.2h0M466.4 424.1h0M446.1 408.4h0M491.7 382.3h0M486.1 405.1h0M425.7 402.3h0M447.2 445.6h0M491.0 377.6h0M479.1 423.3h0M471.9 429.1h0M457.1 436.9h0M489.8 448.5h0M447.1 425.0h0M412.1 443.2h0M483.2 423.2h0M412.5 408.9h0M437.1 433.5h0M463.7 438.3h0M442.4 433.4h0M429.9 420.5h0M464.9 426.4h0M490.6 401.1h0M398.0 420.6h0M412.2 435.8h0M411.2 408.9h0M445.0 438.7h0M444.9 428.2h0M405.2 433.0h0M486.4 426.2h0M409.5 438.2h0M423.4 406.7h0M465.8 436.3h0M453.9 441.3h0M413.0 435.3h0M432.8 435.6h0M399.5 393.7h0M440.5 412.2h0M446.8 444.7h0M444.5 438.6h0M431.4 425.2h0M415.0 405.6h0M417.0 427.3h0M487.6 425.7h0M490.4 434.0h0M417.6 411.6h0M397.4 405.5h0M436.6 385.8h0M475.0 428.9h0M398.6 417.3h0M424.9 404.0h0M486.6 425.8h0M396.8 429.2h0M432.8 435.5h0M483.2 429.8h0M479.3 439.5h0M488.1 406.4h0M420.0 407.8h0M418.8 442.1h0M467.7 383.4h0M419.4 432.8h0M446.7 411.2h0M447.4 432.4h0M463.1 420.3h0M480.6 416.0h0M471.0 419.2h0M477.8 447.2h0M400.4 420.5h0M489.1 410.3h0M474.0 439.4h0M406.2 439.9h0M431.6 441.5h0M426.3 412.2h0M470.9 380.6h0M402.7 435.1h0M422.5 435.8h0M433.0 413.2h0M489.6 438.8h0M482.1 399.4h0M479.2 420.0h0M428.6 405.8h0M480.4 387.6h0M394.4 416.6h0M408.9 409.8h0M487.6 446.7h0M449.2 447.6h0M438.9 400.2h0M487.2 410.1h0M451.9 418.6h0M469.0 377.4h0M461.1 447.4h0M420.9 447.0h0M431.8 425.8h0M461.9 421.4h0M482.2 404.8h0M448.1 408.2h0M485.4 387.9h0M487.1 420.0h0M480.3 384.1h0M399.9 424.8h0M423.2 407.7h0M463.3 431.3h0M479.1 378.7h0M430.3 436.5h0M405.1 431.9h0M491.7 379.0h0M436.0 448.4h0M480.6 391.9h0M474.8 435.4h0M475.1 448.7h0M484.1 417.5h0M479.5 426.2h0M427.0 433.9h0M483.1 435.4h0M442.4 430.2h0M428.3 418.6h0M483.1 376.8h0M479.1 427.8h0M435.0 398.8h0M480.9 434.8h0M464.1 438.9h0M426.3 431.6h0M486.8 407.4h0M455.3 435.9h0M414.0 407.8h0M400.2 436.4h0M484.2 402.8h0M423.5 405.3h0M475.8 383.2h0M491.6 411.2h0M409.9 447.0h0M416.6 442.4h0M490.6 413.0h0M425.5 429.0h0M432.9 413.0h0M456.5 432.4h0M465.5 416.6h0M447.5 424.9h0M461.6 413.0h0M403.4 384.9h0M411.8 432.6h0M397.7 411.7h0M395.3 410.2h0M468.0 423.7h0M487.3 395.3h0M481.6 411.8h0M445.8 412.0h0M417.4 428.3h0M418.3 438.6h0M449.9 434.6h0M466.8 383.5h0M394.1 401.6h0M479.7 379.3h0M483.6 388.4h0M468.6 419.4h0M394.0 446.3h0M427.7 413.0h0M439.3 441.5h0M427.7 438.8h0M423.0 438.4h0M488.6 441.7h0M433.4 425.9h0M472.6 422.7h0M488.5 422.5h0M490.0 407.9h0M480.9 434.1h0M433.8 414.6h0M468.8 421.0h0M446.7 441.7h0M478.2 420.3h0M486.1 402.0h0M451.3 445.3h0M483.3 438.7h0M400.3 447.1h0M474.9 419.0h0M431.1 427.2h0M491.2 415.0h0M404.9 407.9h0M461.2 377.5h0M456.1 433.2h0M406.7 429.0h0M451.5 425.7h0M453.1 446.5h0M447.6 449.0h0M417.8 433.0h0M433.6 415.9h0M491.8 389.0h0M491.1 447.2h0M436.0 444.5h0M434.7 403.0h0M425.1 417.4h0M488.0 375.5h0M435.7 448.8h0M463.7 429.1h0M431.5 400.8h0M437.9 448.2h0M454.0 446.4h0M420.8 415.1h0M487.0 412.7h0M423.5 416.0h0M464.3 437.0h0M441.9 411.7h0M472.3 446.8h0M490.9 411.0h0M395.9 427.0h0M433.6 439.4h0M479.1 387.1h0M443.0 407.0h0M435.8 398.3h0M450.7 442.4h0M395.3 402.4h0M442.1 429.5h0M397.5 426.7h0M477.0 423.6h0M487.0 433.8h0M403.0 420.5h0M470.1 387.5h0M431.8 424.0h0M407.9 437.3h0M421.0 443.6h0M476.0 381.1h0M409.1 431.2h0M394.8 410.5h0M460.0 376.5h0M404.3 416.8h0M482.1 422.3h0M483.5 387.9h0M490.3 415.2h0M454.2 426.8h0M461.4 425.2h0M411.7 400.0h0M439.8 443.3h0M467.1 386.1h0M477.4 435.8h0M434.7 431.5h0M460.7 426.6h0M491.8 432.5h0M474.0 387.2h0M473.8 411.8h0M480.8 437.8h0M476.0 448.4h0M414.9 414.6h0M421.2 430.1h0M409.8 445.3h0M407.7 433.0h0M436.7 411.3h0M394.5 441.9h0M464.1 426.0h0M423.1 429.0h0M442.7 444.4h0M465.5 422.5h0M447.0 408.2h0M400.3 398.7h0M467.7 434.8h0M402.7 448.9h0M487.0 379.9h0M457.7 447.3h0M424.0 404.6h0M489.4 423.4h0M435.1 414.7h0M439.0 433.6h0M443.4 415.0h0M421.4 407.8h0M489.5 381.8h0M411.6 405.9h0M465.9 418.6h0M454.9 439.7h0M477.3 431.0h0M434.2 441.0h0M413.2 400.3h0M487.9 403.3h0M399.0 421.4h0M413.1 432.2h0M426.0 403.6h0M462.8 430.3h0M421.3 404.4h0M430.4 436.1h0M397.6 429.7h0M463.6 442.7h0M397.9 413.8h0M399.9 438.6h0M422.9 434.7h0M450.9 438.2h0M425.6 446.2h0M478.4 405.1h0M467.1 429.1h0M416.0 408.8h0M414.9 409.5h0M478.9 394.9h0M490.6 425.9h0M437.6 434.6h0M446.9 409.2h0M443.4 416.4h0M482.0 436.4h0M405.5 408.2h0M435.7 441.6h0M490.1 415.2h0M404.4 397.5h0M480.1 385.2h0M476.7 382.0h0M422.4 435.9h0M482.0 427.8h0M476.0 385.1h0M485.1 398.2h0M455.5 442.3h0M477.8 430.6h0M441.1 415.2h0M469.5 385.4h0M449.4 410.4h0M460.1 441.1h0M469.2 433.7h0M413.3 406.7h0M459.4 439.3h0M413.8 440.5h0M457.6 444.4h0M442.5 418.6h0M481.8 443.9h0M417.4 416.0h0M484.3 376.2h0M427.7 420.0h0M480.9 441.6h0M416.5 440.0h0M486.6 415.0h0M466.7 420.1h0M423.1 417.3h0M476.2 447.2h0M422.9 429.1h0M489.5 387.2h0M446.6 435.8h0M415.2 414.5h0M481.2 419.5h0M419.8 416.4h0M469.7 441.5h0M406.2 441.6h0M477.9 394.1h0M409.4 405.7h0M431.2 421.8h0M406.1 414.7h0M484.4 404.2h0M451.3 443.3h0M471.2 424.2h0M404.2 399.1h0M480.0 390.1h0M441.8 438.3h0M488.9 426.8h0M439.8 420.4h0M485.3 382.1h0M488.4 384.9h0M475.2 377.8h0M439.6 435.4h0M415.2 417.5h0M481.3 436.1h0M394.4 426.7h0M486.7 446.8h0M435.0 416.5h0M423.6 413.6h0M485.0 397.7h0M482.4 432.7h0M473.3 425.6h0M487.0 419.8h0M468.6 375.5h0M481.9 415.6h0M488.2 399.2h0M467.5 416.5h0M412.8 444.5h0M395.6 406.9h0M460.0 445.7h0M445.3 433.2h0M452.0 426.8h0M402.7 393.5h0M435.9 412.8h0M453.4 441.6h0M452.3 412.4h0M465.3 440.2h0M486.9 392.0h0M405.2 409.8h0M443.5 444.2h0M450.0 414.6h0M443.2 404.6h0M393.6 440.3h0M410.7 439.8h0M487.4 421.8h0M483.9 406.6h0M415.3 441.6h0M473.4 394.6h0M434.0 444.4h0M445.9 401.7h0M467.0 383.5h0M477.8 431.1h0M416.5 411.4h0M468.3 383.2h0M475.0 419.6h0M429.8 438.7h0M429.0 412.0h0M452.0 419.3h0M426.1 402.2h0M399.2 402.9h0M463.5 445.3h0M469.6 414.5h0M479.9 418.5h0M433.6 420.8h0M472.1 380.1h0M461.1 412.9h0M398.8 393.1h0M421.1 429.2h0M450.2 417.3h0M450.6 424.5h0M394.6 412.3h0M491.7 398.3h0M472.7 439.1h0M435.9 442.6h0M482.4 429.8h0M457.5 420.7h0M464.3 432.6h0M442.2 448.4h0M452.7 445.7h0M436.7 412.4h0M452.3 429.2h0M415.9 405.3h0M442.6 430.6h0M455.3 430.7h0M430.8 417.1h0M397.1 407.8h0M417.3 442.9h0M440.0 439.8h0M443.3 437.4h0M483.9 408.7h0M420.1 448.4h0M470.0 390.2h0M469.8 430.0h0M444.3 439.3h0M433.1 437.5h0M474.1 421.1h0M457.7 422.2h0M448.6 419.3h0M475.6 448.0h0M404.0 432.0h0M438.6 447.0h0M473.4 443.0h0M441.4 433.0h0M428.1 440.2h0M421.0 427.8h0M450.3 433.5h0M479.3 442.2h0M481.8 421.5h0M410.2 409.9h0M478.4 448.5h0M449.5 406.0h0M400.4 419.6h0M427.4 439.2h0M483.1 380.3h0M397.3 414.0h0M415.0 431.2h0M487.1 376.9h0M455.0 436.5h0M475.3 409.5h0M492.0 446.9h0M491.0 387.9h0M471.4 419.6h0M428.9 445.1h0M402.0 426.9h0M469.7 380.1h0M438.0 445.4h0M439.8 402.8h0M396.3 437.4h0M480.8 392.8h0M475.9 440.3h0M415.8 412.1h0M469.4 434.1h0M480.9 443.5h0M454.1 412.2h0M405.3 401.2h0M433.8 409.9h0M481.9 444.3h0M491.7 411.3h0M429.8 434.2h0M455.5 418.9h0M464.3 428.7h0M481.8 426.3h0M433.1 442.4h0M485.7 397.0h0M398.7 405.6h0M447.8 423.6h0M403.6 410.1h0M401.5 428.6h0M460.6 435.0h0M461.6 414.6h0M458.9 431.3h0M402.2 414.1h0M476.2 397.2h0M415.0 410.5h0M393.3 442.1h0M471.5 432.0h0M455.4 410.8h0M430.0 443.4h0M488.0 379.7h0M455.5 436.9h0M394.6 438.1h0M413.8 416.8h0M488.1 423.3h0M443.7 441.2h0M483.2 378.2h0M414.3 429.7h0M427.2 422.9h0M412.8 402.8h0M403.1 406.3h0M433.1 403.0h0M395.9 404.8h0M475.0 378.9h0M439.6 417.3h0M433.0 416.6h0M438.0 409.0h0M487.7 385.8h0M489.8 383.3h0M477.0 431.9h0M443.4 444.6h0M485.0 399.2h0M427.5 417.4h0M411.1 407.2h0M475.1 390.6h0M487.1 389.8h0M482.2 424.3h0M423.5 440.4h0M457.4 428.4h0M426.6 399.8h0M489.7 426.0h0M475.3 435.7h0M428.5 429.1h0M455.2 446.6h0M412.8 414.7h0M402.6 414.2h0M401.0 394.2h0M482.7 384.6h0M439.9 441.7h0M488.6 410.9h0M397.0 447.6h0M398.4 422.9h0M473.0 384.3h0M484.0 438.0h0M463.5 423.4h0M442.0 402.1h0M476.0 428.6h0M476.5 424.5h0M492.1 446.2h0M453.5 431.1h0M472.5 448.1h0M488.0 404.9h0M488.5 393.0h0M453.4 437.0h0M476.6 419.9h0M457.8 428.5h0M477.9 382.6h0M424.0 437.6h0M462.9 412.6h0M427.5 425.4h0M482.5 404.1h0M466.5 431.5h0M421.1 433.8h0M478.7 379.0h0M481.9 415.3h0M412.6 404.9h0M405.3 418.6h0M398.3 428.0h0M487.1 435.9h0M467.6 375.4h0M451.6 424.1h0M453.0 447.2h0M393.1 398.3h0M455.9 426.6h0M459.9 412.6h0M477.9 406.9h0M431.3 432.4h0M471.4 439.8h0M429.2 429.7h0M468.7 414.2h0M466.3 440.4h0M462.5 445.7h0M458.5 440.6h0M461.1 375.6h0M419.0 445.5h0M469.0 434.5h0M418.2 433.4h0M414.3 416.2h0M433.7 419.1h0M440.4 399.8h0M429.9 445.6h0M444.7 406.1h0M403.0 439.9h0M412.7 445.0h0M443.2 446.3h0M416.4 421.0h0M450.1 437.3h0M458.3 416.1h0M396.5 403.5h0M404.8 444.0h0M430.1 409.4h0M449.7 435.1h0M393.9 430.2h0M398.2 422.5h0M398.5 433.4h0M452.3 447.5h0M398.8 422.5h0M489.6 419.4h0M407.8 406.6h0M483.0 379.6h0M426.0 413.4h0M442.0 438.2h0M471.5 376.6h0M458.8 436.9h0M486.1 430.0h0M435.9 436.3h0M420.0 411.4h0M437.7 444.4h0M466.5 417.6h0M482.7 395.4h0M402.0 438.2h0M448.6 409.7h0M436.9 434.2h0M461.9 423.1h0M408.0 430.4h0M456.1 385.1h0M487.6 407.2h0M489.7 407.1h0M400.2 408.6h0M428.8 426.3h0M407.8 422.3h0M490.2 429.9h0M404.5 394.5h0M436.3 445.5h0M462.3 441.9h0M491.2 407.2h0M408.5 414.5h0M430.1 405.7h0M482.1 423.5h0M466.0 429.6h0M465.0 436.3h0M416.0 444.5h0M479.7 378.4h0M480.9 445.0h0M477.8 411.6h0M437.7 399.2h0M457.9 429.3h0M483.1 431.5h0M474.5 423.8h0M462.7 434.9h0M464.7 379.1h0M410.2 412.0h0M485.7 439.9h0M473.7 415.1h0M400.3 400.6h0M455.2 428.1h0M415.4 407.3h0M477.2 378.7h0M416.1 437.1h0M448.7 446.8h0M400.6 442.0h0M424.3 445.5h0M488.8 448.7h0M442.7 402.3h0M491.8 407.4h0M427.4 440.8h0M429.0 445.8h0M413.7 434.2h0M418.9 444.4h0M451.1 439.8h0M467.7 387.4h0M478.2 438.2h0M411.6 401.1h0M397.4 397.5h0M487.8 426.6h0M453.9 444.1h0M491.4 404.4h0M408.4 437.5h0M405.4 436.3h0M489.7 384.5h0M404.3 430.6h0M415.3 441.0h0M474.1 425.4h0M470.5 433.9h0M401.4 407.2h0M424.6 407.9h0M486.7 378.1h0M485.7 435.3h0M473.2 431.5h0M440.7 423.1h0M474.4 446.0h0M403.9 448.8h0M458.4 424.2h0M471.1 412.4h0M406.2 437.5h0M439.2 435.3h0M469.4 445.2h0M473.6 392.4h0M416.7 428.4h0M448.8 423.1h0M462.2 378.2h0M428.1 403.6h0M447.5 404.0h0M488.2 400.4h0M428.5 432.3h0M465.6 378.7h0M490.8 433.5h0M427.5 403.2h0M397.5 436.6h0M472.4 427.2h0M451.0 418.9h0M432.7 435.8h0M406.1 412.2h0M474.4 430.4h0M431.4 432.9h0M404.9 395.2h0M434.6 406.7h0M491.7 398.3h0M484.1 386.6h0M481.0 388.8h0M457.9 448.8h0M394.1 440.4h0M460.0 417.9h0M394.2 392.4h0M441.8 435.7h0M440.0 431.0h0M393.2 431.2h0M465.4 395.1h0M428.1 441.1h0M485.8 387.5h0M447.1 440.8h0M434.4 437.6h0M454.0 416.2h0M464.0 425.5h0M447.7 406.3h0M446.4 421.7h0M402.5 430.9h0M400.8 448.1h0M491.8 401.2h0M428.4 404.8h0M406.4 436.4h0M486.8 405.0h0M466.9 448.7h0M434.3 404.7h0M485.6 423.5h0M479.1 447.2h0M481.9 437.9h0M394.4 395.3h0M397.4 428.5h0M416.6 417.4h0M491.1 402.7h0M474.1 425.7h0M403.7 406.9h0M459.6 415.9h0M425.7 437.7h0M486.2 397.8h0M473.5 431.1h0M453.3 430.7h0M466.3 448.4h0M484.5 400.4h0M407.1 407.5h0M458.5 448.0h0M406.7 414.2h0M490.8 398.6h0M474.6 448.3h0M463.7 375.8h0M399.3 426.2h0M393.5 414.9h0M400.0 408.8h0M417.0 404.8h0M459.0 415.8h0M473.8 379.6h0M440.0 398.6h0M421.7 442.7h0M455.3 424.3h0M465.1 443.1h0M484.6 395.3h0M470.6 421.8h0M394.2 447.3h0M468.4 433.6h0M479.3 382.3h0M427.9 416.9h0M478.8 431.3h0M412.0 447.9h0M450.6 426.7h0M471.6 389.1h0M481.4 430.3h0M489.1 409.5h0M453.2 410.2h0M425.0 432.3h0M445.2 425.0h0M452.3 436.7h0M473.1 424.4h0M431.2 400.4h0M453.2 420.1h0M450.4 422.8h0M453.4 430.1h0M474.0 412.6h0M396.6 426.4h0M432.1 420.3h0M443.2 442.5h0M478.3 442.5h0M395.0 417.6h0M465.6 421.0h0M476.1 440.3h0M487.4 381.5h0" stroke="#6c3a40" stroke-width="1.60" stroke-linecap="round" fill="none" opacity="0.7"/>
<path d="M400.7 391.1h0M413.0 381.4h0M489.9 383.6h0M395.0 379.0h0M428.0 387.4h0M469.3 418.6h0M425.7 393.4h0M490.8 406.8h0M440.2 435.2h0M462.6 382.1h0M458.6 379.0h0M431.1 389.6h0M443.4 392.0h0M443.5 419.9h0M457.0 385.5h0M438.2 381.5h0M409.5 402.3h0M463.7 447.5h0M396.4 446.5h0M459.9 431.8h0M490.3 392.3h0M437.7 442.0h0M491.3 412.4h0M454.5 402.3h0M443.6 430.7h0M444.5 384.8h0M413.4 389.9h0M440.0 414.8h0M445.6 431.3h0M418.3 443.3h0M491.6 426.1h0M400.4 447.7h0M464.3 442.2h0M394.5 415.6h0M400.9 420.8h0M434.3 425.1h0M455.1 444.5h0M477.4 427.5h0M468.9 381.2h0M491.9 421.2h0M436.7 416.4h0M477.6 400.8h0M448.0 424.8h0M433.7 382.9h0M415.0 431.2h0M412.6 409.6h0M416.8 429.6h0M462.2 408.3h0M396.0 395.6h0M425.2 385.3h0M462.7 395.2h0M401.2 378.4h0M477.1 379.8h0M432.6 446.7h0M397.3 379.0h0M393.6 424.8h0M411.8 381.0h0M401.8 387.5h0M416.1 422.1h0M435.9 399.5h0M412.8 426.8h0M458.2 420.5h0M488.4 433.2h0M407.7 432.3h0M476.8 381.6h0M455.6 428.4h0M395.2 433.1h0M434.8 391.4h0M432.5 408.8h0M422.1 409.0h0M472.8 403.4h0M453.7 393.4h0M469.2 412.9h0M482.0 429.8h0M483.5 386.1h0M448.3 389.9h0M444.1 397.6h0M441.3 419.9h0M442.7 416.2h0M435.5 399.3h0M426.1 379.9h0M439.5 436.9h0M472.8 413.6h0M483.0 423.3h0M436.4 415.3h0M462.9 399.5h0M477.2 383.3h0M434.0 391.5h0M423.0 385.8h0M420.8 420.9h0M431.7 420.6h0M471.0 413.9h0M424.1 413.6h0M463.0 391.7h0M487.9 407.1h0M421.7 413.3h0M486.7 434.0h0M453.6 434.8h0M462.1 382.7h0M454.7 436.7h0M478.4 429.2h0M468.7 441.0h0M442.1 447.8h0M483.8 412.2h0M472.2 419.5h0M477.5 424.0h0M480.3 381.1h0M434.1 420.0h0M435.3 383.4h0M453.2 385.5h0M419.1 414.8h0M425.8 396.3h0M485.3 445.1h0M460.4 385.5h0M455.6 414.4h0M403.8 438.6h0M433.1 420.4h0M408.8 383.4h0M457.2 445.2h0M456.5 394.4h0M479.1 428.7h0M411.3 400.4h0M427.8 408.8h0M393.9 429.4h0M459.6 417.5h0M430.6 392.7h0M400.9 434.0h0M451.3 390.1h0M446.5 446.8h0M427.1 434.8h0M478.1 420.3h0M435.3 412.0h0M472.7 408.7h0M437.2 412.3h0M414.7 404.2h0M393.2 442.9h0M469.9 382.9h0M482.1 408.0h0M460.3 412.0h0M451.0 424.6h0M491.7 409.0h0M430.8 414.0h0M470.1 427.9h0M464.8 433.7h0M468.0 435.1h0M476.1 391.7h0M488.3 422.3h0M421.9 416.0h0M491.3 384.1h0M439.9 384.5h0M464.7 442.4h0M417.8 410.3h0M431.1 432.3h0M434.0 396.8h0M425.9 416.1h0M406.3 434.7h0M393.2 443.4h0M409.8 401.3h0M427.9 384.1h0M405.2 404.6h0M436.1 429.4h0M393.9 377.1h0M443.1 393.9h0M463.3 392.2h0M457.3 379.2h0M416.2 385.6h0M422.8 392.2h0M462.8 394.6h0M455.2 433.4h0M449.2 400.8h0M460.6 435.7h0M409.1 415.7h0M459.5 414.7h0M434.4 418.5h0M473.1 447.3h0M433.1 378.8h0M435.4 380.5h0M402.0 447.8h0M427.6 395.2h0M438.2 399.1h0M475.3 377.2h0M450.7 390.0h0M422.2 394.3h0M394.5 395.0h0M445.3 390.5h0M403.7 448.1h0M407.4 383.1h0M410.7 387.6h0M460.1 426.0h0M463.4 435.8h0M488.8 383.0h0M458.1 410.2h0M447.2 442.6h0M415.7 427.3h0M415.5 379.4h0M442.4 395.7h0M412.0 400.0h0M393.2 384.7h0M414.1 376.1h0M480.6 439.8h0M486.0 376.7h0M410.3 426.4h0M407.5 436.3h0M420.8 424.0h0M480.5 399.6h0M467.5 379.0h0M473.1 434.4h0M456.1 377.1h0M451.5 448.2h0M482.0 420.4h0M423.3 421.5h0M460.4 402.5h0M407.0 443.6h0M472.6 385.5h0M454.7 421.5h0M411.6 421.6h0M445.1 401.1h0M453.7 398.1h0M455.5 446.2h0M401.2 400.0h0M485.8 423.9h0M482.2 418.1h0M433.2 406.6h0M476.5 387.7h0M447.7 416.9h0M403.4 406.7h0M429.0 385.5h0M480.0 440.9h0M462.3 395.7h0M422.8 437.3h0M448.3 432.6h0M404.2 421.2h0M409.9 412.8h0M480.3 434.5h0M396.9 401.0h0M445.9 390.0h0M445.3 406.8h0M427.0 438.6h0M403.0 430.4h0M397.8 397.9h0M457.4 446.7h0M460.6 436.1h0M424.2 396.8h0M418.7 446.5h0M458.5 389.5h0M477.6 400.0h0M443.9 423.9h0M417.6 421.6h0M475.3 421.1h0M481.0 438.2h0M437.2 397.1h0M432.1 447.6h0M457.9 425.5h0M448.8 436.0h0M394.2 434.1h0M475.9 399.0h0M428.3 413.3h0M450.7 445.1h0M407.4 404.2h0M394.5 412.1h0M454.9 411.7h0M491.2 433.5h0M468.1 434.7h0M471.4 394.6h0M463.6 380.9h0M400.2 380.8h0M469.8 396.4h0M469.8 394.9h0M434.7 397.4h0M449.0 440.8h0M483.9 436.7h0M477.7 428.4h0M450.3 427.5h0M414.1 443.7h0M430.2 423.2h0M396.4 424.6h0M428.8 409.0h0M414.4 415.7h0M478.7 415.8h0M465.9 392.2h0M484.7 413.9h0M488.7 414.1h0M441.4 406.3h0M474.2 394.0h0M405.0 398.3h0M419.2 381.6h0M416.6 392.0h0M406.7 378.4h0M467.7 376.2h0M394.8 384.3h0M446.9 438.0h0M490.2 386.3h0M479.6 409.6h0M404.3 406.7h0M464.4 382.0h0M412.3 419.8h0M478.7 411.2h0M464.4 398.6h0M447.0 422.1h0M491.9 425.0h0M404.8 438.6h0M409.4 417.2h0M449.2 419.2h0M408.3 429.3h0M442.3 420.6h0M404.8 398.0h0M401.8 430.6h0M411.8 436.5h0M462.4 394.6h0M469.9 400.8h0M453.3 425.6h0M474.0 429.2h0M446.1 385.5h0M414.1 430.5h0M420.1 397.1h0M451.3 434.4h0M394.2 428.2h0M411.0 406.7h0M488.0 405.0h0M420.1 382.9h0M412.7 427.5h0M466.3 411.7h0M427.8 392.2h0M408.8 389.4h0M449.1 443.9h0M435.0 385.2h0M423.7 446.0h0M425.4 404.2h0M425.8 440.9h0M475.1 402.4h0M415.2 390.2h0M411.9 397.8h0M478.6 434.0h0M480.1 443.4h0M463.0 438.9h0M487.9 396.6h0M405.7 426.9h0M417.5 384.5h0M401.4 405.5h0M435.7 386.3h0M455.5 441.0h0M441.9 392.8h0M447.2 420.7h0M422.3 390.0h0M484.8 392.1h0M428.1 413.0h0M423.2 384.5h0M487.0 404.7h0M437.3 401.3h0M437.2 394.5h0M441.1 423.5h0M396.0 404.2h0M415.4 380.4h0M470.9 399.1h0M423.7 444.8h0M439.8 413.5h0M435.4 426.6h0M461.6 413.4h0M409.2 400.7h0M434.2 425.3h0M429.2 440.5h0M395.4 421.0h0M430.9 378.0h0M395.8 440.2h0M486.3 415.2h0M421.8 446.8h0M410.4 409.5h0M473.9 436.9h0M466.1 425.8h0M443.5 408.2h0M456.0 430.3h0M405.3 403.9h0M431.4 395.4h0M399.2 399.4h0M418.1 395.7h0M423.7 429.6h0M466.9 425.4h0M455.0 416.0h0M444.5 413.9h0M406.4 428.4h0M434.5 449.0h0M445.8 422.1h0M426.0 438.8h0M484.8 400.0h0M437.7 397.9h0M487.5 435.7h0M405.6 443.0h0M478.3 408.0h0M469.0 414.3h0M436.4 444.6h0M430.4 448.3h0M434.3 421.8h0M439.2 390.0h0M446.0 430.5h0M407.0 409.4h0M456.8 419.3h0M399.4 394.8h0M404.6 415.6h0M417.8 400.3h0M468.3 404.0h0M464.6 444.6h0M435.2 419.2h0M428.4 408.2h0M434.5 437.1h0M418.7 421.9h0M479.3 380.5h0M421.5 387.3h0M402.6 422.1h0M492.0 427.4h0M419.1 424.9h0M406.4 442.9h0M446.0 389.4h0M426.1 416.1h0M402.8 439.8h0M456.2 435.8h0M477.1 400.6h0M417.9 439.2h0M484.1 394.9h0M450.3 401.2h0M479.3 387.5h0M458.7 430.1h0M399.4 397.7h0M399.3 382.2h0M457.1 409.3h0M394.2 398.4h0M412.4 441.8h0M468.7 423.4h0M411.0 406.4h0M394.6 441.8h0M487.3 431.3h0M431.2 385.3h0M399.5 396.6h0M426.1 400.0h0M460.5 376.9h0M472.5 385.6h0M457.4 413.6h0M471.1 397.1h0M403.2 419.4h0M418.5 379.4h0M466.6 377.3h0M395.2 386.3h0M407.5 428.8h0M426.1 380.3h0M467.0 424.4h0M436.6 416.9h0M450.2 447.6h0M485.1 385.3h0M476.0 403.7h0M445.2 434.0h0M425.1 437.1h0M468.7 400.2h0M479.5 397.4h0M469.3 401.7h0M396.4 393.5h0M452.4 398.1h0M394.6 376.2h0M448.5 402.3h0M463.2 379.2h0M412.1 438.3h0M430.0 391.8h0M448.8 440.9h0M412.5 394.9h0M487.5 429.3h0M478.6 397.7h0M418.6 382.5h0M419.8 431.3h0M415.3 434.0h0M424.5 382.8h0M439.8 413.7h0M434.2 424.7h0M422.1 441.2h0M408.7 409.1h0M394.2 381.8h0M443.8 424.6h0M467.2 414.5h0M454.3 416.7h0M447.6 382.0h0M396.8 412.2h0M471.5 445.9h0M431.1 395.7h0M418.3 429.1h0M467.3 390.7h0M478.0 395.8h0M443.8 423.5h0M467.0 420.1h0M406.8 394.8h0M440.5 402.0h0M407.9 421.1h0M455.2 379.3h0M484.8 423.8h0M481.9 402.1h0M409.1 379.7h0M433.1 385.6h0M438.5 422.7h0M438.5 418.3h0M443.5 387.1h0M433.5 376.1h0M468.4 395.0h0M488.1 426.9h0M405.7 395.1h0M458.7 442.5h0M409.1 442.4h0M411.2 394.7h0M412.6 438.4h0M394.7 390.7h0M478.7 378.3h0M451.3 425.6h0M473.7 434.0h0M424.1 444.2h0M439.7 423.4h0M428.5 386.5h0M475.1 390.7h0M427.3 379.7h0M439.3 390.7h0M458.6 445.1h0M487.7 425.9h0M406.2 382.3h0M411.7 448.0h0M445.6 417.9h0M475.2 385.3h0M435.6 432.6h0M425.6 383.9h0M406.4 435.1h0M404.2 379.6h0M406.2 419.2h0M462.7 412.9h0M479.6 435.0h0M488.5 418.9h0M477.3 410.1h0M484.0 444.7h0M405.6 420.5h0M414.2 419.6h0M482.6 446.7h0M444.9 380.3h0M454.0 410.1h0M415.2 416.4h0M479.0 448.5h0M441.5 427.4h0M480.1 386.0h0M465.0 441.3h0M420.1 415.3h0M410.3 389.6h0M442.4 419.7h0M441.1 396.8h0M426.2 446.9h0M475.4 409.3h0M411.8 431.2h0M469.1 377.3h0M483.8 415.1h0M446.2 401.4h0M481.7 399.1h0M434.0 429.6h0M476.1 412.3h0M475.0 423.8h0M402.2 405.4h0M434.6 416.1h0M453.2 401.7h0M440.4 428.0h0M487.8 400.7h0M412.0 423.8h0M437.0 387.5h0M409.6 444.6h0M470.7 448.8h0M475.9 418.4h0M483.2 378.7h0M453.0 412.3h0M412.7 447.9h0M416.9 412.8h0M472.3 417.5h0M410.4 387.9h0M472.2 444.5h0M476.9 428.3h0M421.9 400.0h0M402.4 393.2h0M461.1 405.1h0M482.4 431.7h0M415.2 437.2h0M396.2 440.4h0M476.9 419.7h0M411.3 418.8h0M457.7 428.3h0M418.7 394.2h0M393.5 383.5h0M405.7 420.2h0M453.1 404.7h0M487.3 430.5h0M459.3 402.5h0M441.9 405.7h0M407.9 426.6h0M468.0 390.1h0M427.0 385.6h0M442.7 439.8h0M491.9 446.4h0M464.9 396.1h0M458.5 431.5h0M412.8 388.6h0M438.0 394.4h0M402.5 380.0h0M419.2 395.8h0M415.4 424.7h0M489.2 434.1h0M471.6 376.7h0M435.4 420.6h0M447.4 424.4h0M452.4 409.0h0M445.2 378.6h0M465.2 383.4h0M476.3 407.7h0M483.2 413.5h0M409.6 387.6h0M425.6 397.5h0M435.7 398.7h0M463.0 433.2h0M458.5 411.9h0M425.3 420.3h0M429.6 432.3h0M477.9 420.6h0M478.6 387.9h0M453.3 385.0h0M477.6 387.9h0M450.5 389.9h0M425.8 442.3h0M405.5 421.8h0M432.2 435.2h0M424.5 377.2h0M457.9 428.5h0M443.7 430.8h0M403.1 384.8h0M477.0 412.3h0M486.1 383.9h0M400.7 405.5h0M399.1 444.5h0M489.1 403.6h0M466.7 399.2h0M438.8 425.0h0M394.2 442.9h0M449.2 419.0h0M421.0 395.9h0M487.7 437.0h0M485.6 401.1h0M482.8 409.0h0M426.3 424.3h0M453.7 400.8h0M483.5 390.3h0M463.4 380.1h0M450.7 400.5h0M446.6 443.6h0M452.7 444.5h0M475.1 395.7h0M480.8 416.3h0M403.0 379.6h0M448.4 400.4h0M396.1 428.2h0M399.0 409.6h0M434.3 401.5h0M480.6 443.1h0M432.4 420.2h0M456.3 389.2h0M420.6 407.0h0M410.0 398.2h0M396.1 434.9h0M403.7 389.5h0M443.6 377.4h0M448.1 447.0h0M423.9 447.4h0M402.6 387.4h0M470.1 403.6h0M393.9 413.6h0M452.4 444.8h0M461.2 440.8h0M411.0 390.6h0M454.1 395.5h0M440.9 376.8h0M469.5 393.8h0M424.2 399.7h0M418.7 446.4h0M405.1 379.9h0M428.4 440.0h0M426.0 394.7h0M453.3 433.1h0M414.3 436.2h0M489.4 384.5h0M485.0 429.8h0M475.1 431.7h0M465.3 434.9h0M403.2 378.5h0M432.6 407.3h0M437.1 430.4h0M454.9 425.6h0M404.8 379.2h0M432.0 405.1h0M398.8 431.7h0M403.0 448.7h0M425.4 413.8h0M476.3 405.6h0M422.3 410.8h0M433.9 401.4h0M490.1 430.1h0M447.4 393.4h0M463.8 419.1h0M436.1 414.5h0M449.2 402.7h0M454.1 400.3h0M426.0 415.4h0M398.7 444.3h0M411.5 423.8h0M488.2 443.2h0M394.1 421.4h0M416.8 400.3h0M465.5 398.7h0M466.4 431.9h0M421.5 435.5h0M431.2 427.9h0M457.2 407.9h0M481.0 398.7h0M478.0 381.4h0M444.4 405.3h0M484.5 427.7h0M464.4 418.2h0M457.9 397.9h0M475.8 404.5h0M455.2 377.7h0M446.6 393.4h0M475.3 435.8h0M398.8 400.3h0M438.5 378.4h0M447.6 389.9h0M445.1 386.2h0M459.3 376.2h0M409.8 379.8h0M402.3 442.7h0M448.0 431.0h0M457.8 438.4h0M405.9 387.0h0M466.5 381.8h0M491.9 398.1h0M470.0 377.7h0M475.7 436.5h0M482.6 383.7h0M463.8 433.2h0M476.0 422.9h0M432.3 428.3h0M432.4 415.7h0M424.8 422.9h0M431.9 431.3h0M442.6 404.0h0M483.9 428.9h0M473.1 434.8h0M429.8 438.0h0M435.6 378.2h0M455.5 398.1h0M438.1 421.1h0M478.8 388.9h0M427.4 438.1h0M454.2 390.0h0M431.7 410.2h0M424.1 378.1h0M415.0 422.4h0M481.4 376.7h0M454.3 430.6h0M476.2 402.0h0M486.7 396.7h0M461.2 421.0h0M488.9 384.7h0M413.3 436.2h0M431.4 376.2h0M446.0 402.6h0M423.5 436.7h0M412.5 437.0h0M472.4 424.6h0M424.1 393.8h0M461.6 445.2h0M463.4 393.4h0M451.3 421.2h0M464.8 434.8h0M398.8 419.8h0M471.8 391.1h0M483.4 444.4h0M472.8 382.1h0M465.4 398.2h0M424.0 404.3h0M445.0 417.7h0M443.3 416.0h0M408.8 388.8h0M491.1 377.3h0M478.1 408.2h0M459.2 435.8h0M420.3 410.5h0M435.1 402.5h0M470.5 401.1h0M417.5 376.8h0M446.2 445.7h0M490.9 442.1h0M397.9 396.2h0M416.5 427.2h0M406.4 432.1h0M448.6 400.3h0M462.7 395.5h0M464.6 400.0h0M403.7 386.1h0" stroke="#e2d6d8" stroke-width="1.60" stroke-linecap="round" fill="none" opacity="1.0"/>
<path d="M456.0 397.6h0M442.2 379.3h0M465.9 406.8h0M404.6 379.5h0M421.2 391.1h0M417.0 395.5h0M445.0 397.8h0M411.4 383.5h0M405.3 386.4h0M424.4 379.6h0M413.1 389.6h0M396.3 381.8h0M465.3 409.5h0M443.2 394.6h0M488.3 410.9h0M403.5 389.0h0M454.6 396.5h0M464.5 392.2h0M412.7 389.3h0M483.8 435.3h0M396.9 376.9h0M471.4 392.2h0M475.8 376.6h0M401.1 390.3h0M402.9 405.9h0M456.3 392.7h0M418.0 398.0h0M397.2 387.1h0M427.3 384.0h0M431.2 439.9h0M454.8 389.3h0M455.1 392.7h0M432.6 382.7h0M408.7 391.5h0M402.6 385.4h0M418.2 397.8h0M427.7 384.2h0M427.8 396.7h0M471.2 441.7h0M417.1 380.0h0M418.7 448.1h0M488.2 428.0h0M422.9 397.2h0M451.4 398.3h0M458.1 405.7h0M455.0 396.7h0M445.8 390.1h0M458.9 381.5h0M472.5 402.3h0M461.6 412.1h0M413.4 385.6h0M461.2 401.9h0M444.6 375.5h0M415.1 383.8h0M409.8 377.1h0M447.3 377.4h0M441.8 381.3h0M454.3 384.2h0M429.8 390.5h0M457.7 398.2h0M460.9 381.5h0M409.3 422.6h0M432.9 389.1h0M483.9 440.8h0M480.1 437.0h0M424.6 446.1h0M467.2 394.4h0M480.5 410.7h0M465.2 388.1h0M409.7 380.1h0M448.7 402.1h0M394.2 381.7h0M404.4 380.5h0M426.4 383.1h0M425.0 398.2h0M469.7 403.4h0M467.9 429.5h0M430.1 442.4h0M421.1 395.8h0M452.0 391.7h0M455.7 393.0h0M462.7 398.3h0M399.8 380.1h0M430.8 378.5h0M416.2 423.5h0M436.2 386.4h0M477.8 430.7h0M466.6 397.7h0M424.0 395.0h0M423.6 378.2h0M420.4 391.4h0M463.7 439.3h0M446.2 436.7h0M418.8 415.2h0M474.9 405.5h0M487.4 433.8h0M455.0 401.9h0M439.0 418.8h0M487.2 420.5h0M456.7 405.1h0M442.1 395.0h0M414.7 415.5h0M410.0 397.2h0M460.6 409.5h0M426.4 393.7h0M405.8 426.9h0M395.5 375.5h0M443.7 422.0h0M458.4 395.0h0M412.0 395.7h0M438.0 386.6h0M452.1 376.8h0M427.0 396.0h0M415.6 381.5h0M423.1 399.8h0M450.2 390.0h0M486.1 430.5h0M440.2 421.8h0M444.3 422.3h0M439.6 379.7h0M416.5 394.9h0M467.3 408.8h0M443.7 418.6h0M408.2 385.8h0M471.7 398.2h0M468.1 391.6h0M426.9 399.4h0M432.0 405.5h0M406.4 378.0h0M412.4 380.5h0M444.3 425.5h0M426.2 382.0h0M459.1 391.0h0M467.7 409.7h0M476.3 423.6h0M441.5 414.2h0M462.4 407.4h0M397.0 430.4h0M401.8 379.1h0M429.6 396.9h0M402.1 443.8h0M479.6 376.5h0M479.0 411.0h0M464.5 392.2h0M434.6 387.9h0M473.5 398.9h0M450.8 400.6h0M409.5 404.9h0M442.8 414.2h0M488.0 399.8h0M443.0 438.6h0M462.7 439.6h0M417.8 400.7h0M423.8 393.4h0M461.3 402.5h0M432.3 390.6h0M457.0 421.0h0M466.9 385.5h0M467.5 407.3h0M451.7 382.1h0M414.1 386.0h0M429.9 432.5h0M426.4 375.5h0M437.4 398.9h0M430.7 396.6h0M401.9 446.1h0M492.1 402.9h0M430.5 380.2h0M409.1 391.6h0M458.4 376.5h0M475.7 401.8h0M461.4 393.1h0M462.1 394.0h0M468.5 395.3h0M393.9 383.4h0M474.0 408.6h0M483.8 396.5h0M397.3 380.5h0M416.6 399.4h0M405.3 425.8h0M488.2 444.8h0M403.1 382.3h0M416.6 414.6h0M430.0 392.0h0M491.1 389.6h0M419.1 393.3h0M441.0 416.3h0M442.4 414.2h0M457.5 384.5h0M412.0 385.9h0M473.1 414.0h0M420.4 403.9h0M450.4 375.9h0M471.0 436.6h0M469.3 401.3h0M407.3 395.1h0M420.2 390.8h0M469.7 382.6h0M412.8 379.5h0M451.3 402.3h0M442.6 390.5h0M436.7 385.5h0M481.2 447.2h0M445.9 420.3h0M412.6 381.8h0M412.8 417.4h0M414.4 445.4h0M412.1 389.7h0M464.3 391.5h0M419.7 392.6h0M411.1 377.0h0M444.2 437.8h0M415.4 394.2h0M482.1 408.6h0M416.5 422.3h0M452.6 388.2h0M451.4 405.8h0M449.6 417.7h0M400.9 386.5h0M458.2 397.2h0M414.7 379.4h0M428.1 404.9h0M471.3 408.3h0M457.7 383.5h0M437.2 414.2h0M477.9 397.1h0M445.1 428.5h0M424.3 392.5h0M454.9 394.6h0M425.2 399.2h0M427.1 444.3h0M422.3 396.6h0M417.8 391.0h0M401.4 423.5h0M416.5 399.3h0M461.6 402.3h0M415.0 386.1h0M474.9 412.9h0M469.3 394.4h0M457.3 401.6h0M430.4 380.1h0M423.4 376.0h0M436.3 424.4h0M398.9 375.6h0M451.2 404.0h0M413.5 398.0h0M432.3 424.0h0M393.9 378.8h0M422.8 393.4h0M441.6 393.2h0M457.8 401.5h0M421.3 395.1h0M422.1 395.0h0M426.1 393.9h0M440.5 381.7h0M420.2 383.8h0M414.5 425.2h0M438.6 395.1h0M432.2 421.6h0M442.7 427.3h0M417.2 387.3h0M426.4 390.4h0M430.2 444.3h0M450.5 388.9h0M447.2 431.5h0M484.8 441.7h0M483.9 441.9h0M425.3 383.6h0M412.2 394.6h0M467.2 410.8h0M410.9 409.9h0M439.8 378.5h0M471.6 407.5h0M419.5 399.5h0M444.4 386.7h0M400.8 447.0h0M450.9 448.6h0M455.5 392.6h0M410.9 392.4h0M424.7 400.1h0M416.4 414.9h0M486.3 378.0h0M402.0 380.5h0M432.1 398.5h0M414.5 400.7h0M455.9 437.9h0M410.6 390.1h0M464.6 407.0h0M416.9 391.7h0M457.0 432.1h0M483.4 403.1h0M419.3 379.5h0M456.7 386.3h0M484.7 438.5h0M435.3 376.4h0M453.9 405.9h0M448.0 392.5h0M462.8 400.9h0M416.7 436.2h0M415.5 436.6h0M433.0 387.7h0M420.0 396.9h0M458.1 382.1h0M470.1 437.9h0M485.4 402.8h0M428.7 385.6h0M441.4 384.8h0M461.4 411.8h0M416.7 420.2h0M438.5 416.9h0M456.5 378.6h0M436.3 398.2h0M417.0 427.5h0M414.2 427.2h0M447.7 390.3h0M418.1 378.3h0M400.4 389.2h0M436.7 379.5h0M465.3 411.5h0M418.8 387.7h0M443.5 377.4h0M421.1 386.0h0M482.4 401.5h0M485.7 398.8h0M426.0 398.3h0M434.3 379.3h0M418.2 423.3h0M486.3 378.8h0M421.6 401.0h0M472.6 417.0h0M435.5 382.6h0M412.4 416.7h0M431.4 389.9h0M428.7 381.3h0M399.8 384.4h0M397.2 381.9h0M404.3 398.6h0M445.3 421.0h0M409.5 390.9h0M412.2 419.3h0M433.1 431.4h0M458.3 387.4h0M395.6 386.9h0M415.6 408.0h0M466.7 410.6h0M459.1 400.6h0M427.3 387.6h0M415.7 379.5h0M409.9 397.0h0M424.4 389.1h0M424.4 399.2h0M393.7 385.4h0M396.1 421.2h0M422.9 400.6h0M414.9 397.8h0M423.6 396.7h0M470.3 408.7h0M453.1 387.8h0M476.9 383.6h0M457.9 399.1h0M406.9 378.1h0M461.1 406.2h0M399.5 387.5h0M433.7 387.1h0M410.8 379.6h0M432.6 426.0h0M412.2 376.7h0M414.7 399.7h0M461.6 385.7h0M420.7 420.5h0M465.2 403.5h0M431.4 382.6h0M416.7 427.4h0M463.0 384.0h0M425.0 376.9h0M472.0 396.4h0M442.2 430.0h0M409.9 419.0h0M449.9 381.7h0M451.3 393.1h0M440.2 395.6h0M435.1 420.4h0M393.9 382.0h0M413.8 423.7h0M465.8 448.7h0M424.7 445.4h0M460.0 418.0h0M474.7 387.8h0M428.0 383.4h0M475.6 419.3h0M441.0 387.6h0M399.6 435.7h0M406.1 375.8h0M447.6 391.0h0M418.3 399.1h0M450.2 433.9h0M432.1 382.0h0M411.6 391.4h0M421.9 441.0h0M418.9 381.0h0M491.6 377.0h0M431.4 382.0h0M480.2 381.3h0M415.7 425.9h0M406.2 386.5h0M405.8 413.6h0M440.9 390.5h0M470.1 407.9h0M410.6 392.7h0M442.9 378.9h0M411.3 378.1h0M451.7 390.0h0M456.1 386.6h0M462.1 440.8h0M425.9 433.4h0M413.2 390.4h0M439.5 424.1h0M450.0 387.2h0M419.8 396.2h0M455.9 402.3h0M407.3 427.6h0M405.4 378.1h0M421.8 376.9h0M401.0 432.9h0M441.0 420.1h0M435.6 421.8h0M435.6 395.5h0M488.7 433.0h0M435.6 390.4h0M459.3 430.2h0M443.9 422.3h0M465.6 392.2h0M429.4 399.7h0M443.8 431.2h0M416.4 406.5h0M483.9 412.2h0M413.2 384.9h0M433.2 380.0h0M445.5 399.4h0M406.7 383.2h0M440.2 420.2h0M464.7 441.6h0M468.5 399.8h0M464.3 441.1h0M463.2 383.8h0M421.5 383.3h0M455.9 394.9h0M416.0 378.6h0M469.3 418.9h0M403.5 383.1h0M443.6 396.6h0M413.0 383.7h0M425.9 383.3h0M446.6 397.3h0M420.1 382.0h0M460.5 396.8h0M423.9 376.9h0M408.4 385.2h0M472.2 395.6h0M428.5 397.9h0M462.7 400.0h0M408.5 387.8h0M457.0 388.9h0M472.4 407.1h0M444.7 425.7h0M436.2 405.7h0M436.0 379.4h0M450.9 404.3h0M408.2 389.4h0M454.9 390.9h0M424.6 424.2h0M467.6 448.9h0M436.1 397.8h0M451.1 376.3h0M404.4 386.9h0M464.7 389.7h0M395.8 432.8h0M441.9 438.6h0M472.0 379.7h0M394.7 386.3h0M443.5 422.1h0M417.1 375.4h0M461.8 383.9h0M461.9 378.2h0M486.7 378.4h0M447.0 415.8h0M425.6 444.2h0M417.3 396.6h0M415.3 389.8h0M475.9 395.3h0M407.1 427.8h0M433.0 383.5h0M425.1 432.9h0M405.7 393.8h0M405.2 423.3h0M443.9 395.9h0M435.7 420.6h0M428.4 435.8h0M488.2 431.0h0M436.3 384.0h0" stroke="#bcbcdc" stroke-width="1.20" stroke-linecap="round" fill="none" opacity="1.0"/>
</g>
</g>
<g clip-path="url(#c21)">
<rect x="193.20" y="450.30" width="98.60" height="73.40" fill="#eeebe8"/>
<g filter="url(#dsoft)">
<path d="M230.8 467.2h0M209.6 517.4h0M250.2 501.0h0M247.7 478.5h0M265.3 492.6h0M270.2 498.9h0M276.0 482.6h0M208.5 461.3h0M264.5 462.6h0M257.7 495.9h0M199.1 507.9h0M196.5 513.9h0M276.1 466.1h0M264.8 504.1h0M205.5 499.5h0M205.4 517.3h0M261.1 522.2h0M198.5 473.6h0M254.3 494.9h0M211.2 515.5h0M276.7 472.4h0M207.6 499.3h0M233.3 499.0h0M241.8 479.3h0M195.3 460.2h0M238.4 503.8h0M235.2 504.9h0M246.4 514.9h0M257.8 473.9h0M206.9 455.1h0M197.1 513.6h0M279.4 505.5h0M204.0 498.8h0M205.8 515.6h0M257.8 505.3h0M253.3 481.0h0M276.9 520.9h0M217.0 482.4h0M265.5 500.2h0M233.7 483.3h0M288.6 470.6h0M214.1 500.7h0M220.5 516.2h0M225.3 518.2h0M230.6 515.3h0M267.3 504.0h0M214.3 462.4h0M196.3 463.6h0M258.9 455.0h0M216.6 491.9h0M208.5 474.5h0M215.7 499.9h0M204.9 523.5h0M252.2 502.6h0M247.7 486.8h0M288.9 515.9h0M274.2 452.5h0M251.3 519.4h0M256.1 488.0h0M257.3 463.3h0M265.0 507.8h0M200.3 487.7h0M251.9 476.1h0M260.4 518.0h0M282.6 472.9h0M208.2 513.0h0M253.5 511.2h0M278.9 470.8h0M251.1 472.6h0M271.8 501.1h0M216.8 487.0h0M251.8 467.4h0M211.2 485.1h0M200.3 486.6h0M285.9 510.9h0M198.6 510.9h0M263.8 502.3h0M195.8 506.1h0M212.5 509.2h0M225.0 477.2h0M210.2 514.0h0M215.1 514.4h0M243.9 461.2h0M257.8 489.3h0M195.9 510.8h0M219.9 452.1h0M268.8 503.7h0M231.2 464.0h0M245.2 493.3h0M261.2 486.2h0M249.2 503.2h0M211.9 463.6h0M241.0 505.7h0M272.4 512.9h0M236.5 502.7h0M203.7 478.8h0M199.8 511.6h0M291.8 499.5h0M267.4 477.6h0M271.6 456.5h0M229.7 476.0h0M278.4 463.0h0M208.9 456.9h0M276.3 473.5h0M282.2 473.3h0M275.7 464.6h0M282.2 521.8h0M279.8 501.1h0M281.6 517.4h0M288.2 470.5h0M277.0 507.5h0M227.3 462.6h0M281.9 485.0h0M245.5 515.4h0M240.9 468.8h0M260.8 489.4h0M220.1 501.1h0M282.3 468.4h0M273.3 505.6h0M244.7 464.5h0M258.8 471.0h0M217.9 512.9h0M219.9 457.1h0M276.6 523.3h0M223.3 480.0h0M246.9 505.6h0M194.4 497.9h0M216.2 518.5h0M234.1 519.6h0M237.6 498.4h0M196.9 465.2h0M222.4 477.4h0M210.3 481.2h0M201.9 491.9h0M288.1 513.2h0M254.5 522.4h0M265.0 496.9h0M238.3 456.3h0M281.3 516.1h0M272.6 500.9h0M273.3 520.7h0M289.0 506.8h0M194.8 519.8h0M249.2 483.5h0M235.7 470.1h0M196.6 495.7h0M254.1 456.6h0M284.2 516.6h0M278.5 489.7h0M231.2 484.8h0M229.7 520.4h0M283.8 516.3h0M244.5 487.8h0M261.0 471.5h0M211.4 522.6h0M219.8 470.1h0M241.7 456.8h0M244.8 462.1h0M275.0 456.3h0M272.3 470.0h0M270.9 509.1h0M287.4 463.1h0M290.3 461.2h0M227.8 450.8h0M241.9 456.3h0M248.0 518.8h0M270.3 497.8h0M202.1 522.7h0M229.2 520.0h0M207.6 472.2h0M286.6 505.1h0M211.6 483.9h0M246.7 468.8h0M214.8 456.5h0M243.4 480.8h0M227.7 485.5h0M227.4 478.7h0M268.5 461.2h0M202.6 483.1h0M221.8 485.2h0M278.0 519.8h0M273.7 517.9h0M215.9 475.7h0M204.2 471.6h0M218.9 467.9h0M226.1 519.3h0M244.0 516.3h0M245.2 505.3h0M259.3 493.8h0M284.3 493.9h0M242.8 467.1h0M203.0 481.8h0M233.3 459.9h0M287.1 451.6h0M236.7 468.4h0M233.5 511.7h0M288.2 479.6h0M263.4 515.8h0M221.8 479.4h0M235.9 511.7h0M223.1 516.1h0M211.5 500.3h0M255.4 452.8h0M225.5 511.6h0M232.8 454.5h0M239.5 490.0h0M239.5 481.2h0M285.7 499.5h0M237.0 483.1h0M269.1 467.8h0M240.7 506.1h0M202.1 461.2h0M198.2 499.5h0M272.1 498.9h0M254.3 452.6h0M229.1 484.2h0M226.4 468.7h0M229.8 467.0h0M200.1 492.2h0M195.6 482.1h0M232.8 509.8h0M262.8 484.0h0M193.8 502.5h0M264.6 497.1h0M290.9 486.4h0M232.2 489.5h0M203.5 496.3h0M206.2 499.4h0M253.5 500.6h0M211.4 502.6h0M286.2 522.6h0M268.7 461.9h0M269.5 463.3h0M289.8 452.7h0M194.8 479.8h0M200.9 520.2h0M284.9 469.4h0M278.9 476.0h0M273.9 459.4h0M286.0 483.0h0M216.5 483.0h0M193.3 453.0h0M240.0 494.1h0M291.5 488.6h0M226.3 469.5h0M195.3 517.6h0M262.2 469.7h0M267.8 501.0h0M256.2 483.5h0M279.0 518.3h0M268.0 463.9h0M237.3 497.6h0M287.0 487.4h0M240.7 455.3h0M199.5 470.0h0M259.9 466.0h0M267.6 497.5h0M221.5 488.6h0M275.5 452.6h0M255.0 505.5h0M288.5 474.7h0M256.0 509.4h0M223.1 507.2h0M267.1 520.1h0M234.1 458.3h0M244.1 500.1h0M283.3 505.8h0M247.1 513.1h0M277.1 495.2h0M220.0 451.0h0M251.0 451.3h0M227.8 522.9h0M218.7 500.9h0M265.7 474.1h0M252.5 515.3h0M264.6 474.9h0M291.3 499.5h0M216.9 509.6h0M270.5 514.7h0M275.7 508.8h0M231.8 505.8h0M268.6 510.7h0M214.4 522.7h0M250.0 517.0h0M244.2 507.6h0M252.8 471.7h0M241.6 510.6h0M220.7 518.2h0M265.3 508.1h0M245.2 502.3h0M255.9 480.8h0M193.4 491.5h0M261.3 491.0h0M232.7 490.5h0M203.5 497.6h0M199.7 460.0h0M201.0 520.2h0M282.8 496.3h0M285.7 465.7h0M258.5 485.1h0M203.8 492.7h0M204.1 470.9h0M207.3 468.3h0M281.6 486.5h0M247.4 460.9h0M208.2 458.0h0M262.4 492.8h0M266.3 493.3h0M218.0 479.6h0M229.4 518.3h0M262.5 511.4h0M258.1 520.9h0M268.6 450.3h0M201.1 453.1h0M281.3 465.7h0M238.8 493.2h0M215.3 470.6h0M280.3 463.7h0M275.2 484.7h0M261.2 479.1h0M260.1 502.0h0M234.9 472.3h0M235.6 505.0h0M194.3 465.5h0M227.8 501.5h0M243.4 466.8h0M279.8 492.5h0M280.9 478.2h0M286.9 492.9h0M227.3 461.6h0M272.1 463.1h0M274.2 509.9h0M206.2 503.7h0M262.3 457.1h0M268.1 520.0h0M226.3 489.2h0M233.7 467.8h0M209.1 499.1h0M288.6 459.6h0M195.3 490.0h0M219.4 514.0h0M222.1 452.0h0M223.8 480.4h0M235.9 480.4h0M221.3 521.0h0M194.6 466.7h0M274.0 465.1h0M213.9 479.0h0M255.5 510.8h0M270.8 463.3h0M285.1 463.1h0M272.8 513.4h0M204.6 478.1h0M214.2 484.1h0M270.3 509.2h0M267.9 452.5h0M221.8 518.1h0M265.9 506.3h0M210.4 461.7h0M241.4 495.1h0M205.5 514.5h0M249.7 518.4h0M282.6 479.6h0M220.4 511.7h0M242.3 494.4h0M264.3 522.1h0M244.0 484.0h0M277.7 455.9h0M236.4 466.4h0M253.4 510.7h0M235.2 465.5h0M205.1 516.4h0M250.9 519.0h0M219.7 471.3h0M210.9 497.1h0M248.5 513.2h0M251.3 474.8h0M203.3 508.0h0M286.7 474.4h0M224.0 488.9h0M230.2 505.0h0M240.6 485.7h0M230.4 468.7h0M284.2 519.6h0M213.9 477.9h0M264.1 476.3h0M236.7 491.7h0M219.9 478.7h0M264.0 519.2h0M199.6 514.6h0M201.8 498.6h0M198.4 490.3h0M215.8 509.7h0M195.2 487.9h0M287.9 489.3h0M236.8 497.9h0M271.5 500.6h0M234.2 465.4h0M270.4 487.3h0M287.5 475.2h0M223.4 484.5h0M290.6 507.5h0M222.2 501.1h0M274.4 454.5h0M266.8 485.1h0M280.1 505.4h0M229.3 456.3h0M233.2 478.2h0M213.3 500.8h0M278.4 482.9h0M204.6 491.4h0M226.7 453.5h0M202.8 478.8h0M196.6 459.9h0M286.5 489.5h0M211.4 453.4h0M221.4 474.0h0M286.1 463.8h0M283.9 487.2h0M272.6 491.3h0M287.8 520.8h0M254.4 475.1h0M222.5 462.3h0M215.8 495.2h0M234.3 489.9h0M287.1 504.0h0M285.3 506.5h0M217.5 453.4h0M262.2 461.1h0M257.9 456.6h0M250.3 489.0h0M238.4 509.7h0M262.2 466.5h0M241.7 480.8h0M231.4 467.0h0M215.1 495.6h0M199.3 481.8h0M242.2 484.1h0M261.4 509.4h0M246.2 462.2h0M210.7 518.8h0M239.3 486.2h0M214.8 496.5h0M230.7 492.0h0M247.8 517.2h0M269.7 517.3h0M279.3 457.0h0M253.8 470.4h0M226.9 488.0h0M244.6 492.9h0M236.4 458.2h0M290.2 453.0h0M286.5 522.8h0M258.8 465.8h0M262.4 474.8h0M228.6 512.6h0M264.7 452.1h0M286.1 479.1h0M222.6 478.8h0M213.4 481.7h0M276.0 522.1h0M276.3 497.5h0M235.1 485.4h0M208.0 468.8h0M197.8 507.2h0M203.5 463.4h0M235.2 509.9h0M200.5 505.6h0M222.7 479.9h0M237.6 522.8h0M291.3 469.7h0M252.4 474.3h0M225.5 510.7h0M256.7 489.4h0M223.2 478.0h0M239.5 510.6h0M219.4 492.0h0M271.4 454.4h0M215.6 506.3h0M200.1 519.8h0M236.0 496.7h0M203.9 483.0h0M239.2 507.5h0M251.8 461.3h0M201.0 469.4h0M250.6 458.8h0M208.5 476.0h0M216.6 494.9h0M215.1 465.4h0M267.3 495.9h0M266.1 461.0h0M255.1 478.1h0M239.8 466.0h0M273.8 510.1h0M238.7 476.9h0M217.8 487.4h0M223.0 482.5h0M253.2 512.8h0M277.4 455.1h0M270.1 478.8h0M204.7 483.8h0M279.3 479.1h0M223.1 489.5h0M248.9 517.7h0M282.6 522.3h0M200.0 503.6h0M241.2 493.4h0M276.2 472.3h0M193.7 468.9h0M288.3 518.4h0M238.9 460.2h0M266.3 473.2h0M279.8 487.4h0M222.4 454.9h0M219.5 475.1h0M222.3 505.4h0M276.7 498.2h0M237.4 499.9h0M197.6 487.7h0M245.9 495.5h0M219.6 513.9h0M227.4 483.4h0M205.1 488.4h0M193.5 489.2h0M213.5 520.1h0M237.3 467.4h0M258.7 460.5h0M244.8 483.4h0M286.3 504.6h0M277.9 522.7h0M252.3 499.4h0M261.1 510.8h0M278.8 514.5h0M284.0 519.1h0M209.9 507.0h0M263.5 515.9h0M228.8 506.4h0M193.7 478.6h0M215.6 468.1h0M201.5 488.0h0M206.9 454.3h0M253.9 507.4h0M225.6 453.4h0M278.9 476.4h0M231.4 516.5h0M208.1 498.3h0M229.3 494.6h0M237.7 465.0h0M285.9 488.8h0M211.3 484.0h0M252.4 517.6h0M222.9 458.3h0M239.3 512.6h0M196.2 517.8h0M242.0 485.0h0M254.7 504.4h0M257.7 518.1h0M253.9 473.3h0M233.2 480.8h0M214.8 472.6h0M230.2 519.6h0M281.2 504.3h0M263.4 469.2h0M229.2 465.3h0M273.9 500.2h0M257.3 451.8h0M265.1 508.6h0M244.7 505.9h0M273.4 497.0h0M224.5 491.5h0M279.8 457.5h0M274.9 475.4h0M261.3 459.3h0M238.2 523.6h0M250.9 485.6h0M224.2 477.4h0M258.1 517.8h0M205.7 475.4h0M230.0 471.6h0M288.8 510.3h0M244.6 451.7h0M281.5 504.3h0M280.2 472.5h0M224.8 480.3h0M233.2 483.7h0M290.7 512.9h0M200.1 482.0h0M207.8 485.9h0M237.8 499.2h0M276.4 485.4h0M279.2 464.4h0M226.8 459.5h0M274.3 510.1h0M250.9 470.7h0M226.8 453.4h0M255.3 466.0h0M215.6 471.1h0M271.4 471.5h0M285.6 492.9h0M205.1 466.6h0" stroke="#b8bcde" stroke-width="1.20" stroke-linecap="round" fill="none" opacity="0.6"/>
<path d="M256.2 452.1h0M220.3 466.7h0M265.8 500.0h0M281.2 456.7h0M234.8 452.5h0M214.8 487.4h0M195.8 464.9h0M257.3 490.3h0M214.9 493.6h0M273.0 450.8h0M272.7 501.5h0M226.7 461.7h0M287.6 475.0h0M202.3 457.4h0M276.8 494.6h0M272.8 503.9h0M246.1 521.7h0M230.5 490.8h0M275.0 495.7h0M278.2 492.7h0M262.7 453.7h0M215.7 471.5h0M201.1 467.4h0M203.2 470.7h0M255.9 477.1h0M229.7 465.7h0M219.5 519.1h0M257.1 495.0h0M210.1 503.8h0M209.3 478.2h0M290.8 497.3h0M248.1 500.6h0M276.3 507.3h0M215.8 452.7h0M224.3 470.0h0M214.0 519.5h0M279.6 473.4h0M257.8 479.3h0M283.4 484.0h0M219.3 468.4h0M248.6 469.6h0M250.8 516.2h0M232.6 466.4h0M291.6 487.7h0M202.2 453.8h0M204.0 496.4h0M271.3 481.3h0M199.5 478.3h0M291.4 489.1h0M288.9 513.5h0M194.3 503.2h0M260.4 489.7h0M219.5 497.3h0M204.2 482.2h0M237.9 520.3h0M279.6 469.6h0M242.6 463.4h0M283.2 514.2h0M222.6 497.2h0M253.2 461.5h0M268.4 489.9h0M270.0 489.2h0M193.3 474.1h0M195.1 518.5h0M279.8 511.3h0M223.5 454.6h0M279.8 519.8h0M201.6 486.0h0M200.0 506.1h0M268.7 459.7h0M240.1 490.7h0M219.3 514.3h0M234.9 465.8h0M246.4 503.9h0M213.0 473.2h0M291.3 498.0h0M236.4 488.3h0M205.1 466.8h0M226.5 493.5h0M215.9 466.5h0M200.2 496.6h0M215.8 516.8h0M278.0 455.5h0M216.7 499.4h0M214.3 460.0h0M285.4 492.2h0M239.8 507.9h0M272.8 464.3h0M202.8 481.9h0M235.0 484.6h0M265.1 499.7h0M290.2 457.5h0M232.9 475.2h0M278.2 468.6h0M212.0 483.2h0M234.8 470.7h0M217.8 518.1h0M236.9 513.5h0M247.5 454.0h0M291.7 511.7h0M288.7 518.3h0M276.9 462.5h0M241.1 466.0h0M232.7 454.6h0M230.6 522.6h0M219.3 507.9h0M238.1 481.3h0M287.6 523.4h0M248.0 503.0h0M208.5 472.1h0M288.7 492.8h0M246.7 505.2h0M198.8 493.2h0M242.8 512.9h0M208.7 520.8h0M201.1 463.9h0M251.9 499.9h0M216.4 459.1h0M281.0 468.4h0M251.8 495.8h0M234.5 493.1h0M244.7 518.9h0M213.3 502.9h0M216.7 479.4h0M259.4 472.3h0M224.4 505.5h0M200.4 483.9h0M291.6 523.4h0M200.4 465.9h0M219.3 518.8h0M280.1 514.8h0M229.6 461.9h0M275.4 501.9h0M253.5 522.8h0M257.7 450.9h0M273.8 472.3h0M258.6 519.2h0M206.4 458.8h0M203.8 490.9h0M220.1 494.7h0M264.0 465.2h0M255.7 469.7h0M241.4 516.8h0M276.6 457.1h0M235.0 470.6h0M193.5 506.9h0M256.0 469.5h0M266.3 490.8h0M235.4 451.0h0M200.6 515.1h0" stroke="#d4c4b8" stroke-width="1.00" stroke-linecap="round" fill="none" opacity="1.0"/>
</g></g>
<g clip-path="url(#c22)">
<rect x="293.00" y="450.30" width="99.20" height="73.40" fill="#f0ede9"/>
<g filter="url(#dsoft)">
<path d="M317.2 487.2h0M309.1 510.6h0M316.0 490.8h0M384.9 479.5h0M389.0 504.0h0M347.4 496.5h0M351.1 476.7h0M391.9 479.9h0M390.6 512.9h0M295.8 469.3h0M340.4 510.1h0M310.6 495.5h0M329.4 508.0h0M384.9 506.2h0M312.2 506.1h0M336.5 511.8h0M339.6 516.8h0M390.8 510.8h0M374.9 510.4h0M351.7 463.1h0M390.8 484.4h0M294.6 482.2h0M334.2 465.0h0M388.3 458.5h0M382.7 490.7h0M310.7 476.6h0M337.7 458.9h0M368.7 498.1h0M390.4 511.2h0M371.0 523.5h0M385.4 497.6h0M346.5 488.7h0M373.7 518.2h0M375.4 511.9h0M295.7 481.2h0M301.7 493.3h0M350.5 491.5h0M378.1 466.8h0M365.3 493.3h0M314.1 522.1h0M298.3 484.4h0M346.1 494.0h0M390.4 490.8h0M381.0 471.9h0M340.8 461.1h0M356.5 481.3h0M370.9 458.6h0M339.1 520.7h0M294.1 498.8h0M360.2 503.6h0M348.3 487.1h0M388.2 471.1h0M362.8 499.4h0M365.2 485.4h0M294.7 507.2h0M320.7 507.7h0M390.9 507.3h0M333.0 513.2h0M331.3 473.8h0M349.7 498.3h0M361.0 490.9h0M333.5 504.8h0M325.2 494.8h0M293.5 459.9h0M379.1 466.1h0M333.9 454.2h0M368.9 474.4h0M297.9 470.4h0M385.3 505.8h0M293.3 520.3h0M300.2 485.8h0M346.0 507.8h0M307.0 510.9h0M320.2 504.5h0M384.9 493.6h0M293.2 499.3h0M336.2 503.9h0M370.8 458.2h0M349.3 497.5h0M384.9 495.4h0M354.0 506.7h0M308.9 513.4h0M350.6 497.0h0M308.3 488.7h0M333.6 465.4h0M386.4 512.4h0M338.5 455.8h0M390.6 458.9h0M343.3 491.8h0M377.9 498.5h0M352.9 487.9h0M390.1 510.5h0M328.3 508.6h0M387.0 486.0h0M301.4 455.2h0M389.0 465.6h0M372.8 464.5h0M315.2 462.1h0M373.9 457.0h0M339.8 509.7h0M345.3 451.0h0M294.6 511.3h0M322.8 456.4h0M345.1 507.9h0M323.1 460.1h0M311.4 485.1h0M370.4 456.4h0M368.5 500.3h0M348.3 478.4h0M296.2 487.3h0M333.8 500.1h0M299.2 462.5h0M294.9 486.0h0M298.9 489.4h0M336.3 474.6h0M311.9 517.9h0M340.7 457.8h0M350.3 506.3h0M341.4 515.7h0M376.2 500.3h0M295.6 479.8h0M343.7 462.7h0M342.6 499.3h0M367.6 506.1h0M367.2 472.3h0M353.7 487.1h0M368.2 459.2h0M310.5 502.9h0M364.8 467.1h0M369.2 507.3h0M357.1 484.2h0M298.7 467.2h0M368.9 518.7h0M309.3 453.0h0M327.6 519.3h0M314.5 518.9h0M370.8 512.0h0M391.3 499.9h0M312.6 482.1h0M332.4 499.1h0M328.1 504.0h0M296.0 466.6h0M315.0 462.8h0M367.3 514.6h0M302.4 485.3h0M293.8 468.5h0M307.3 501.1h0M375.9 512.1h0M320.3 480.4h0M315.9 499.0h0M315.7 506.6h0M339.7 490.7h0M379.5 518.1h0M319.6 503.6h0M320.1 451.1h0M377.4 464.3h0M320.9 503.0h0M377.4 478.8h0M364.0 479.4h0M294.8 490.9h0M310.1 465.7h0M333.5 497.6h0M314.8 466.4h0M349.6 470.4h0M348.6 499.8h0M323.4 516.2h0M388.9 453.2h0M299.5 458.3h0M341.7 472.4h0M365.6 522.6h0M338.0 470.4h0M314.9 517.2h0M373.8 514.8h0M392.2 483.5h0M367.1 475.0h0M307.0 501.2h0M329.8 489.9h0M349.3 468.1h0M295.2 504.9h0M368.5 506.4h0M325.5 474.9h0M355.2 477.5h0M367.0 488.4h0M345.4 513.0h0M304.6 465.7h0M344.9 512.9h0M384.1 514.7h0M312.5 473.5h0M317.5 467.0h0M310.7 461.5h0M374.0 488.7h0M389.4 496.2h0M368.2 518.8h0M347.3 467.2h0M333.4 482.8h0M309.0 490.8h0M369.7 474.3h0M295.5 457.7h0M329.2 464.9h0M339.3 521.4h0M316.0 476.2h0M352.7 462.3h0M379.4 522.4h0M294.3 479.1h0M373.1 451.7h0M348.2 509.6h0M387.6 464.4h0M384.9 494.1h0M366.2 467.0h0M297.8 485.5h0M390.4 468.9h0M390.5 522.4h0M339.7 483.7h0M386.6 452.2h0M350.4 462.9h0M366.8 486.3h0M354.1 478.8h0M379.6 510.9h0M295.5 491.8h0M314.5 518.7h0M383.5 508.4h0M359.4 516.3h0M317.6 471.8h0M383.4 498.1h0M321.9 512.4h0M358.8 451.2h0M386.0 504.5h0M365.6 456.5h0M294.6 456.1h0M368.3 453.1h0M321.5 474.3h0M333.7 470.9h0M302.7 488.3h0M299.6 479.7h0M321.2 456.7h0M302.1 504.0h0M300.4 487.1h0M354.5 517.0h0M353.6 507.7h0M379.4 458.7h0M298.2 509.8h0M319.8 485.1h0M324.8 461.9h0M332.0 484.8h0M374.8 466.7h0M303.1 494.7h0M378.6 480.9h0M321.9 514.9h0M375.8 452.6h0M304.1 493.6h0M332.7 486.3h0M333.8 458.8h0M368.8 515.5h0M353.4 472.7h0M362.3 471.4h0M303.9 494.4h0M350.0 515.8h0M334.2 459.7h0M349.4 454.4h0M320.3 521.8h0M330.1 476.7h0M388.3 456.9h0M369.2 504.0h0M383.8 459.8h0M337.7 477.8h0M294.2 462.5h0M306.9 455.5h0M362.6 502.4h0M331.6 510.5h0M375.6 511.8h0M313.3 476.6h0M308.0 453.5h0M391.0 491.7h0M359.0 490.4h0M320.4 451.4h0M322.2 481.0h0M298.8 469.1h0M381.6 455.3h0M352.4 481.1h0M363.3 494.2h0M333.3 523.6h0M370.3 482.0h0M377.2 507.3h0M390.6 482.2h0M313.1 486.8h0M357.9 482.9h0M302.8 487.0h0M297.9 454.1h0M360.9 468.7h0M383.2 516.2h0M367.9 458.9h0M315.6 486.9h0M349.1 484.2h0M293.1 463.0h0M384.8 480.4h0M343.8 517.8h0M316.0 480.3h0M357.8 469.0h0M334.8 506.4h0M372.2 504.4h0M372.0 451.2h0M300.4 493.9h0M366.1 454.2h0M333.7 491.3h0M327.7 451.8h0M347.1 492.6h0M349.0 463.3h0M324.0 452.7h0M346.0 465.9h0M342.3 516.3h0M339.6 469.9h0M361.3 505.7h0M319.3 489.9h0M368.3 462.1h0M363.5 472.1h0M333.6 492.0h0M390.4 467.8h0M320.4 523.4h0M301.5 467.7h0M360.7 485.5h0M371.4 463.9h0M373.0 471.8h0M308.4 491.5h0M318.2 478.2h0M380.0 511.8h0M360.6 491.6h0M294.6 475.7h0M369.6 506.8h0M293.6 482.8h0M361.5 493.4h0M337.0 472.2h0M341.1 452.6h0M383.2 454.1h0M311.7 520.3h0M349.8 460.0h0M316.9 483.2h0M303.6 450.8h0M297.9 454.8h0M318.6 494.6h0M311.4 486.3h0M327.5 484.8h0M341.4 470.9h0M355.1 519.0h0M354.0 519.3h0M343.0 489.6h0M330.6 482.1h0M339.7 523.1h0M341.2 498.9h0M369.1 457.0h0M296.0 480.5h0M313.1 482.6h0M314.6 491.0h0M335.8 466.3h0M366.7 521.2h0M320.9 489.0h0M328.2 517.5h0M315.9 451.6h0M382.6 504.5h0M339.9 453.5h0M325.4 485.4h0M349.2 465.3h0M326.4 460.2h0M311.5 463.7h0M333.7 491.7h0M373.3 461.3h0M380.3 468.1h0M296.3 496.3h0M382.2 519.5h0M342.0 520.9h0M383.0 485.1h0M358.5 504.5h0M373.5 454.9h0M332.7 451.7h0M297.3 483.4h0M305.6 452.8h0M391.0 458.1h0M373.5 484.6h0M336.0 489.4h0M356.2 460.5h0M385.6 518.5h0M369.9 482.5h0M353.3 453.4h0M331.4 498.3h0M355.3 512.8h0M312.6 520.0h0M297.6 459.8h0M373.4 451.4h0M391.4 500.2h0M319.7 482.1h0M302.6 485.3h0M307.3 505.8h0M387.0 490.2h0M334.7 509.8h0M384.2 472.5h0M362.7 520.4h0M358.0 458.9h0M379.7 461.1h0M329.3 469.5h0M330.2 508.7h0M309.4 482.5h0M334.9 511.3h0M336.0 479.6h0M314.9 491.9h0M370.2 469.6h0M365.0 467.1h0M310.8 456.2h0M315.3 478.0h0M321.3 484.1h0M357.9 501.1h0M293.8 465.5h0M357.1 518.1h0M305.6 492.0h0M308.0 520.6h0M390.8 505.5h0M348.3 509.0h0M376.8 473.0h0M382.8 488.4h0M309.1 456.7h0M339.7 450.6h0M368.7 472.9h0" stroke="#b4b8e0" stroke-width="1.20" stroke-linecap="round" fill="none" opacity="0.6"/>
</g></g>
<g clip-path="url(#c23)">
<rect x="393.00" y="450.30" width="99.10" height="73.40" fill="#e0dae2"/>
<g filter="url(#dsoft)">
<path d="M441.2 476.7h0M481.6 500.9h0M426.5 482.1h0M465.2 472.1h0M490.2 475.3h0M454.2 506.2h0M410.7 502.6h0M433.4 459.9h0M429.4 451.3h0M477.2 523.6h0M403.7 475.7h0M432.4 460.2h0M429.5 465.3h0M483.5 461.9h0M486.0 512.8h0M473.0 463.4h0M466.2 467.8h0M476.4 492.0h0M441.2 469.2h0M403.6 479.8h0M481.9 520.5h0M401.9 494.2h0M429.8 459.7h0M400.5 470.8h0M439.2 518.6h0M470.5 503.5h0M399.7 454.6h0M453.1 454.2h0M439.6 471.5h0M475.4 498.0h0M489.9 496.7h0M461.9 518.3h0M486.5 480.8h0M443.4 507.6h0M419.7 506.6h0M459.5 476.9h0M443.2 470.9h0M474.3 483.8h0M451.7 506.7h0M444.2 489.7h0M437.8 462.8h0M452.0 495.2h0M393.3 487.0h0M474.2 493.1h0M453.4 487.8h0M483.6 454.4h0M422.1 460.7h0M447.3 509.5h0M485.5 482.7h0M484.3 479.7h0M395.7 508.9h0M489.1 477.3h0M482.0 467.4h0M491.9 520.2h0M486.8 491.7h0M452.2 511.9h0M397.9 468.0h0M473.6 489.0h0M481.6 498.4h0M462.3 515.8h0M476.0 485.5h0M407.2 496.8h0M399.6 478.9h0M473.6 452.2h0M444.9 464.7h0M469.6 466.3h0M463.8 502.2h0M401.3 493.2h0M423.8 457.7h0M418.1 520.1h0M483.3 511.7h0M469.6 459.4h0M437.7 523.5h0M435.6 451.3h0M488.0 465.8h0M491.8 465.3h0M407.4 457.6h0M414.6 509.0h0M433.8 496.1h0M470.0 468.7h0M414.7 469.3h0M431.9 482.1h0M475.5 474.8h0M458.6 501.8h0M483.9 518.8h0M431.0 482.9h0M482.8 466.3h0M412.5 518.1h0M491.6 468.6h0M410.9 521.8h0M407.8 491.1h0M442.3 478.6h0M424.0 451.2h0M465.6 478.7h0M403.6 503.4h0M486.3 488.7h0M483.9 467.4h0M449.9 515.0h0M444.2 492.8h0M439.8 451.7h0M487.5 472.8h0M422.3 513.0h0M453.3 511.5h0M477.8 503.6h0M430.0 464.1h0M439.6 486.8h0M486.9 499.7h0M461.7 510.0h0M414.9 482.4h0M439.5 523.3h0M478.2 457.6h0M403.3 488.4h0M490.0 516.9h0M485.4 456.6h0M490.6 509.8h0M469.3 505.8h0M474.1 504.4h0M411.2 468.6h0M482.8 468.2h0M472.4 457.8h0M476.6 465.9h0M476.7 472.2h0M472.7 466.5h0M411.3 521.5h0M447.1 468.2h0M422.9 454.3h0M463.6 467.5h0M463.3 510.4h0M439.3 501.0h0M469.0 519.2h0M431.6 520.0h0M421.9 511.0h0M451.9 455.7h0M443.4 488.0h0M462.8 514.7h0M452.1 473.5h0M398.6 514.2h0M423.9 516.3h0M452.1 454.0h0M449.6 489.7h0M397.9 454.5h0M467.2 486.1h0M465.0 514.0h0M440.0 510.2h0M477.2 459.1h0M420.0 473.1h0M476.3 521.4h0M442.4 479.7h0M463.0 456.2h0M415.9 489.3h0M414.3 511.8h0M448.8 482.1h0M461.9 494.5h0M474.3 489.6h0M458.6 501.2h0M477.8 491.0h0M481.4 462.0h0M488.0 520.6h0M484.5 517.4h0M408.1 471.2h0M420.4 496.8h0M446.8 508.1h0M405.1 520.1h0M448.2 504.3h0M441.4 509.3h0M461.4 469.3h0M476.9 457.0h0M490.3 512.4h0M407.4 490.5h0M490.4 505.1h0M474.0 504.2h0M448.6 468.7h0M438.9 493.3h0M491.1 456.9h0M467.9 494.2h0M426.0 513.8h0M492.0 458.1h0M450.5 523.6h0M453.5 468.1h0M457.2 491.1h0M466.6 508.0h0M413.3 518.5h0M456.2 454.8h0M410.5 492.5h0M462.8 477.7h0M481.8 493.7h0M464.5 522.5h0M394.5 480.3h0M407.5 491.3h0M424.0 517.7h0M426.0 465.5h0M467.9 461.7h0M469.5 452.6h0M460.9 456.2h0M457.3 500.7h0M472.4 514.4h0M442.2 473.3h0M465.1 471.0h0M444.9 468.9h0M482.9 489.6h0M459.0 458.0h0M456.1 493.1h0M471.8 480.3h0M415.9 456.8h0M467.5 466.9h0M473.6 465.2h0M419.5 472.6h0M477.5 486.9h0M407.8 460.4h0M490.6 520.5h0M406.5 490.8h0M425.1 468.1h0M413.5 468.4h0M433.5 483.9h0M472.4 478.8h0M455.8 516.8h0M441.5 494.8h0M460.0 490.4h0M444.7 502.8h0M420.1 493.8h0M460.3 471.5h0M478.1 466.3h0M460.1 505.3h0M479.0 458.2h0M469.0 460.4h0M477.3 511.7h0M473.9 469.9h0M479.8 454.2h0M443.9 489.9h0M398.7 521.3h0M407.3 485.5h0M466.4 519.7h0M409.4 492.0h0M397.3 495.8h0M407.4 478.2h0M437.4 469.8h0M455.0 508.0h0M477.1 474.1h0M423.8 504.1h0M448.8 483.1h0M477.4 481.4h0M470.4 522.7h0M459.1 471.1h0M419.7 478.4h0M434.6 459.2h0M422.3 501.1h0M482.9 509.0h0M393.4 505.9h0M491.2 452.2h0M478.9 498.7h0M484.4 506.9h0M452.3 502.5h0M488.0 523.4h0M488.5 483.8h0M489.0 455.9h0M485.4 500.4h0M461.2 474.8h0M473.2 497.4h0M435.9 471.9h0M464.5 459.2h0M463.8 452.6h0M423.6 450.4h0M476.4 452.4h0M398.6 484.0h0M438.2 483.0h0M457.1 509.9h0M461.8 495.0h0M463.6 492.0h0M448.4 510.2h0M459.9 454.1h0M442.3 462.7h0M447.1 507.6h0M436.0 468.8h0M478.5 476.0h0M469.5 496.4h0M480.7 522.6h0M407.2 481.5h0M416.3 504.5h0M399.6 454.6h0M491.2 458.8h0M426.0 469.2h0M412.5 521.6h0M427.2 500.0h0M462.4 510.8h0M464.0 504.5h0M491.0 484.5h0M426.3 465.3h0M436.4 503.3h0M457.9 497.2h0M472.3 488.0h0M479.8 457.8h0M429.7 485.0h0M420.9 504.6h0M457.7 522.8h0M469.3 463.1h0M462.2 455.1h0M489.1 517.4h0M458.0 509.1h0M464.3 511.5h0M409.5 503.9h0M396.9 485.2h0M481.8 516.4h0M492.1 469.1h0M420.2 515.1h0M449.0 456.2h0M440.0 485.8h0M441.6 464.0h0M436.5 474.6h0M398.3 459.6h0M484.3 480.8h0M454.8 478.6h0M444.2 466.6h0M450.0 476.4h0M470.1 454.7h0M474.6 490.4h0M410.4 513.1h0M441.2 505.6h0M490.1 500.3h0M403.3 523.1h0M486.7 521.5h0M478.8 451.5h0M474.7 483.6h0M448.8 492.6h0M443.9 476.7h0M436.8 453.3h0M491.3 485.3h0M404.7 470.5h0M444.0 452.9h0M440.4 462.0h0M431.6 460.0h0M483.8 487.7h0M434.2 509.5h0M469.1 499.0h0M426.2 460.7h0M422.0 520.2h0M456.1 493.3h0M442.0 454.8h0M459.7 496.6h0M422.5 459.3h0M453.7 458.6h0M485.3 517.7h0M470.5 510.3h0M455.9 507.8h0M394.5 478.9h0M488.0 495.9h0M458.4 488.5h0M479.3 517.1h0M442.4 473.9h0M479.7 460.6h0M416.7 515.5h0M473.0 512.3h0M487.3 522.1h0M467.7 480.4h0M444.0 495.9h0M425.1 481.9h0M400.3 510.2h0M468.9 465.9h0M432.2 520.4h0M488.4 508.3h0M437.7 521.6h0M412.4 495.4h0M490.8 513.5h0M464.4 474.8h0M427.2 506.2h0M489.2 509.5h0M450.9 488.4h0M461.4 488.0h0M475.1 471.3h0M461.8 523.0h0M490.0 482.1h0M458.2 472.1h0M447.7 470.9h0M396.8 520.3h0M424.8 464.8h0M424.4 466.6h0M420.1 452.9h0M486.6 452.6h0M432.3 483.3h0M401.1 474.7h0M455.3 519.9h0M463.8 469.7h0M488.1 474.1h0M443.4 495.1h0M422.9 518.5h0M451.3 517.7h0M403.3 477.2h0M430.5 490.2h0M415.8 497.6h0M429.6 467.3h0M475.7 465.2h0M477.1 475.4h0M405.8 477.9h0M459.2 498.2h0M417.5 492.4h0M489.6 461.3h0M434.6 465.5h0M446.1 481.1h0M485.6 501.2h0M488.0 483.4h0M417.4 468.1h0M456.4 455.9h0M406.2 494.2h0M490.0 514.1h0M488.2 513.1h0M420.1 498.5h0M454.7 520.4h0M450.4 467.8h0M414.2 490.6h0M473.0 502.6h0M477.0 503.8h0M464.5 477.1h0M435.3 482.0h0M449.5 456.5h0M430.0 472.4h0M443.9 512.8h0M421.2 456.5h0M426.6 491.0h0M433.7 484.6h0M480.4 459.9h0M460.5 513.8h0M448.1 484.3h0M403.8 495.5h0M426.7 506.4h0M469.4 463.5h0M456.0 515.1h0M468.1 482.1h0M462.3 481.3h0M469.9 497.8h0M489.7 469.9h0M482.1 497.8h0M433.0 498.3h0M464.5 518.2h0M446.7 474.8h0M439.2 456.1h0M484.2 483.9h0M463.1 461.6h0M437.1 463.9h0M474.5 480.6h0M488.1 481.6h0M403.4 514.3h0M465.8 482.3h0M434.8 482.3h0M485.3 459.9h0M409.0 458.5h0M401.5 485.1h0M439.5 457.3h0M402.5 461.9h0M475.8 477.2h0M437.8 495.4h0M420.5 509.2h0" stroke="#b4b8d8" stroke-width="1.20" stroke-linecap="round" fill="none" opacity="1.0"/>
<path d="M428.3 487.6h0M405.2 485.0h0M469.8 475.5h0M408.9 465.9h0M420.7 463.0h0M450.0 492.8h0M417.7 457.8h0M427.0 485.1h0M474.6 488.4h0M394.6 497.5h0M427.0 498.4h0M433.5 498.5h0M476.0 480.1h0M409.7 510.0h0M464.6 495.2h0M426.7 484.0h0M425.5 507.7h0M463.6 492.2h0M444.8 467.8h0M439.4 501.3h0M433.2 475.0h0M393.4 474.5h0M402.3 488.3h0M412.9 461.5h0M396.0 523.4h0M414.0 509.0h0M442.3 456.6h0M476.4 476.2h0M475.7 487.9h0M457.4 490.3h0M444.2 500.3h0M469.6 476.3h0M427.9 506.9h0M422.2 455.0h0M432.2 519.5h0M397.0 452.2h0M408.4 469.9h0M405.1 485.1h0M417.3 455.4h0M422.1 457.2h0M448.0 471.7h0M420.6 521.0h0M432.2 514.9h0M421.1 470.4h0M425.7 498.1h0M422.3 483.2h0M432.7 513.6h0M418.6 516.8h0M401.6 489.0h0M400.1 490.3h0M410.7 490.9h0M433.2 477.6h0M399.9 501.7h0M422.2 492.6h0M394.7 505.2h0M396.0 484.3h0M416.7 521.9h0M407.0 470.4h0M429.2 489.6h0M403.5 523.5h0M404.8 478.0h0M437.8 508.6h0M415.4 463.8h0M472.5 465.4h0M428.5 514.3h0M434.7 499.0h0M403.7 489.2h0M395.7 509.2h0M441.5 501.7h0M473.2 471.2h0M408.8 473.9h0M403.1 509.0h0M442.0 477.5h0M436.3 461.2h0M444.2 454.2h0M397.2 452.0h0M473.0 464.3h0M422.9 517.1h0M422.1 483.8h0M489.2 498.4h0M416.6 464.2h0M448.3 455.1h0M421.2 522.0h0M477.0 496.9h0M402.2 452.1h0M394.0 460.6h0M420.9 516.8h0M405.9 483.4h0M480.4 505.2h0M459.4 522.6h0M429.8 498.0h0M412.5 517.7h0M451.8 523.5h0M409.1 522.9h0M438.0 503.6h0M404.0 488.5h0M470.0 463.0h0M475.0 472.3h0M420.6 519.9h0M470.2 461.4h0M463.2 496.7h0M394.9 457.6h0M420.9 515.9h0M438.4 474.5h0M423.5 452.7h0M395.8 509.1h0M422.6 519.1h0M393.1 508.1h0M417.9 466.5h0M437.0 513.1h0M436.5 452.7h0M394.9 513.6h0M444.8 496.8h0M404.2 499.9h0M403.1 450.8h0M491.9 506.2h0M405.7 474.5h0M400.6 502.1h0M450.5 457.5h0M436.3 502.6h0M438.3 501.4h0M438.9 481.0h0M428.0 483.8h0M470.5 523.4h0M445.8 470.4h0M469.4 451.7h0M399.6 518.9h0M456.5 450.7h0M438.3 472.7h0M464.5 522.2h0M441.5 523.4h0M412.2 456.4h0M489.8 511.6h0M404.7 520.7h0M435.7 509.7h0M411.9 451.2h0M394.3 474.8h0M411.8 455.3h0M414.3 510.3h0M420.8 511.1h0M460.2 461.9h0M425.0 496.1h0M395.7 483.0h0M413.9 489.6h0M412.3 481.9h0M393.3 470.8h0M445.2 463.0h0M403.0 510.1h0M406.5 482.9h0M456.0 467.2h0M467.7 457.2h0M422.6 483.6h0M400.6 516.7h0M489.2 522.5h0M435.9 514.3h0M395.3 516.9h0M408.4 453.6h0M400.7 520.0h0M412.9 512.7h0M465.6 461.1h0M439.4 473.8h0M426.7 483.4h0M436.7 467.7h0M429.1 498.3h0M446.0 509.9h0M445.0 452.5h0M441.7 451.5h0M439.6 452.5h0M404.3 467.7h0M397.1 503.5h0M441.4 481.9h0M472.3 469.5h0M393.9 476.3h0M401.7 488.8h0M488.4 506.6h0M436.4 469.3h0M411.6 485.8h0M413.5 480.2h0M449.7 497.2h0M425.6 483.0h0M472.8 474.8h0M449.1 511.6h0M427.4 469.3h0M463.6 461.6h0M490.7 473.3h0M426.1 459.2h0M467.5 475.4h0M432.8 508.6h0M468.5 473.1h0M421.5 460.9h0M429.4 511.9h0M459.5 459.6h0M437.3 490.7h0M476.4 476.3h0M422.7 521.5h0M409.8 493.4h0M431.6 456.7h0M469.1 465.5h0M409.9 479.6h0M471.6 476.5h0M485.2 495.3h0M425.8 463.9h0M440.2 489.8h0M406.5 490.1h0M397.2 457.5h0M397.7 506.2h0M459.4 509.9h0M405.7 489.5h0M395.8 506.7h0M481.1 464.8h0M406.6 463.1h0M450.0 477.7h0M410.6 470.9h0M423.3 519.8h0M411.5 481.8h0M408.6 523.0h0M407.5 454.5h0M425.6 489.7h0M411.6 523.6h0M422.6 519.2h0M440.3 502.2h0M486.3 451.9h0M481.0 509.7h0M395.0 509.3h0M437.0 504.0h0M432.7 489.8h0M471.6 468.7h0M477.6 478.9h0M434.5 514.2h0M468.6 463.7h0M409.3 457.5h0M403.0 481.3h0M394.3 474.2h0M444.0 504.0h0M411.1 491.4h0M442.3 503.1h0M404.1 523.5h0M445.9 495.2h0M437.1 454.5h0M456.3 453.1h0M441.6 499.8h0M451.0 464.6h0M433.4 475.4h0M416.3 495.1h0M442.8 513.5h0M442.7 509.6h0M438.4 452.4h0M425.1 468.2h0M401.1 508.0h0M454.5 460.8h0M449.5 464.0h0M406.3 459.6h0M428.9 451.0h0M451.0 467.8h0M477.2 477.3h0M472.3 458.5h0M399.1 502.0h0M463.3 463.4h0M406.3 481.4h0M403.3 499.5h0M400.4 478.9h0M440.4 487.4h0M473.9 466.1h0M447.6 467.3h0M437.8 484.3h0M402.9 486.1h0M409.8 457.1h0M435.4 513.0h0M398.5 500.5h0M396.9 490.3h0M449.5 501.5h0M398.2 522.5h0M444.2 468.1h0M451.8 521.5h0M426.7 481.2h0M437.6 523.2h0M405.9 464.7h0M433.5 523.1h0M444.7 462.7h0M423.3 516.8h0M438.3 451.0h0M445.1 453.0h0M475.3 506.1h0M481.5 512.7h0M455.3 466.3h0M460.9 493.0h0M411.7 483.2h0M416.4 461.2h0M450.0 502.2h0M456.3 516.1h0M491.0 490.9h0M469.9 464.5h0M412.1 492.4h0M427.8 496.9h0M421.6 461.6h0M407.9 484.6h0M402.1 480.5h0M431.1 511.0h0M398.6 509.3h0M414.1 508.8h0M434.8 459.3h0M398.0 501.4h0M474.0 476.6h0M474.2 469.9h0M437.2 477.4h0M435.4 475.6h0M423.2 515.6h0M453.3 515.5h0M445.0 461.3h0M469.0 505.3h0M444.4 472.8h0M433.8 475.8h0M435.9 490.9h0M427.6 462.5h0M429.1 474.6h0M415.9 459.4h0M440.8 474.2h0M411.9 519.8h0M467.2 462.0h0M429.2 521.8h0M435.0 500.4h0M438.0 509.2h0M402.8 499.7h0M450.6 463.0h0M411.3 512.6h0M431.9 510.5h0M422.2 467.7h0M462.1 494.7h0M403.0 460.9h0M431.0 494.5h0M407.7 485.5h0M450.2 456.3h0M438.2 471.8h0M426.2 459.7h0M440.3 482.7h0M405.4 521.1h0M396.2 489.4h0M404.9 512.4h0M405.2 468.2h0M445.3 498.5h0M396.3 518.4h0M448.0 500.6h0M397.3 512.7h0M437.2 471.3h0M466.6 502.8h0M440.9 513.0h0M413.3 476.3h0M450.7 465.3h0M465.6 488.5h0M410.8 476.2h0M397.4 486.9h0M408.6 476.4h0M397.7 522.7h0M422.1 455.6h0M450.7 494.8h0M462.1 461.7h0M404.6 486.8h0M440.3 482.4h0M453.2 517.4h0M424.7 461.6h0M481.3 506.5h0M437.1 476.0h0M443.3 514.5h0M408.5 469.3h0M445.0 451.9h0M468.1 516.3h0M408.6 453.1h0M402.2 488.0h0M480.0 466.7h0M405.5 494.0h0M409.1 520.1h0M457.1 522.3h0M449.2 502.8h0M438.9 503.5h0M419.4 478.4h0M468.2 473.9h0M441.6 454.7h0M449.7 468.5h0M404.8 482.2h0M446.4 522.3h0M402.1 500.7h0M461.1 481.1h0M468.8 519.8h0M396.7 503.8h0M462.8 456.7h0M410.8 460.9h0M453.4 517.4h0M402.4 464.3h0M484.8 523.2h0M413.3 512.9h0M424.9 483.0h0M436.3 507.1h0M448.1 477.2h0M400.0 507.8h0M454.4 461.1h0M481.5 485.9h0M442.9 469.8h0M439.8 506.9h0M439.0 482.5h0M432.4 504.1h0M420.5 489.6h0M399.7 490.3h0M402.9 484.7h0M482.3 497.8h0M413.2 483.6h0M419.7 496.8h0M460.6 451.5h0M414.8 483.5h0M438.5 461.4h0M409.1 484.9h0M434.6 471.1h0M424.9 459.8h0M405.4 498.8h0M397.4 488.0h0M418.9 467.1h0M435.4 486.9h0M441.1 510.8h0M443.3 457.2h0M435.2 487.7h0M398.5 486.0h0M402.5 509.7h0M401.2 511.5h0M439.4 499.5h0M437.9 505.8h0M452.7 508.6h0M470.4 480.5h0M479.9 516.9h0M450.7 490.0h0M426.8 510.8h0M408.1 463.1h0M475.3 515.2h0M457.9 458.9h0M457.7 512.3h0M433.3 452.4h0M401.9 500.7h0M481.8 454.6h0M408.0 480.9h0M412.7 458.8h0M406.4 480.8h0M439.2 475.8h0M408.6 480.8h0M425.1 455.0h0M405.8 497.0h0M420.5 517.7h0M402.8 501.6h0M470.6 461.3h0M438.7 471.1h0M427.5 512.8h0M418.4 491.9h0M401.2 501.2h0M425.7 482.6h0M472.0 473.5h0M442.7 451.7h0M396.6 496.9h0M452.5 514.6h0M423.8 497.9h0M412.8 508.1h0M414.2 512.6h0M440.1 520.9h0M468.2 465.2h0M436.5 507.3h0M437.1 497.8h0M441.5 490.8h0M407.8 495.5h0M401.7 516.2h0M447.4 491.9h0M448.2 464.8h0M400.1 513.8h0M437.8 502.2h0M448.9 463.3h0M401.6 451.9h0M423.4 514.1h0M436.5 488.4h0M398.9 453.0h0M421.9 451.1h0M458.9 459.4h0M448.3 478.1h0M395.2 453.7h0M461.0 476.3h0M394.8 500.0h0M401.0 502.1h0M440.7 514.2h0M442.2 501.5h0M394.9 487.6h0M473.4 475.5h0M427.0 458.0h0M411.5 488.3h0M446.3 483.2h0M438.3 484.2h0M421.0 452.7h0M491.8 476.0h0M475.5 474.5h0M413.2 508.6h0M462.1 520.9h0M466.8 498.1h0M486.8 462.2h0M467.4 522.6h0M439.0 506.6h0M474.4 484.4h0M488.7 523.5h0M440.6 498.8h0M405.1 518.6h0M448.3 501.7h0M436.8 508.8h0M478.6 498.8h0M463.4 456.5h0M438.5 463.4h0M424.0 483.9h0M472.0 469.5h0M425.9 480.8h0M462.7 464.0h0M431.4 519.3h0M440.8 499.1h0M394.0 515.2h0M446.3 478.9h0M438.6 488.9h0M442.3 480.2h0M414.0 523.5h0M436.2 505.8h0M437.0 489.1h0M400.2 489.4h0M400.8 511.0h0M425.7 479.6h0M418.2 461.4h0M464.6 494.7h0M405.7 480.0h0M452.0 495.5h0M445.9 516.3h0M409.6 463.8h0M398.7 480.5h0M419.0 462.0h0M456.6 452.5h0M489.1 496.7h0M487.5 505.8h0M426.0 481.5h0M443.1 466.5h0M399.3 508.4h0M492.0 460.6h0M466.6 465.4h0M401.0 495.1h0M469.3 481.7h0M470.5 463.3h0M404.9 521.6h0M476.5 498.3h0M439.2 475.5h0M439.5 467.9h0M431.1 501.4h0M426.3 484.8h0M398.4 451.3h0M427.8 498.9h0M415.6 514.6h0M423.6 472.4h0M409.9 479.3h0M420.9 458.6h0M441.8 513.2h0M405.6 509.7h0M467.5 508.4h0M453.4 517.6h0M396.0 513.7h0M432.6 522.0h0M470.3 500.2h0M450.7 494.8h0M394.2 488.4h0M453.0 488.5h0M404.5 467.1h0M439.3 460.4h0M441.4 497.7h0M471.3 466.9h0M479.1 498.4h0M451.6 456.3h0M432.0 512.3h0M436.9 456.0h0M436.9 490.4h0M406.8 510.7h0M470.3 485.0h0M458.4 455.2h0M414.5 455.6h0M437.2 493.7h0M475.1 471.6h0M401.7 487.2h0M416.5 488.5h0M454.1 519.2h0M446.8 513.0h0M412.4 488.9h0M451.8 495.9h0M454.0 453.7h0M437.7 484.3h0M471.0 478.3h0M410.8 463.0h0M463.3 513.9h0M425.1 516.6h0M443.1 519.5h0M432.3 486.7h0M467.6 519.9h0M460.9 455.1h0M401.0 503.7h0M426.6 477.3h0M436.5 504.9h0M396.9 468.1h0M422.7 461.3h0M419.3 461.6h0M441.5 485.5h0M446.1 456.1h0M433.4 459.0h0M443.7 512.5h0M460.2 460.7h0M436.1 512.2h0M394.3 520.9h0M411.2 462.3h0M477.3 487.3h0M437.9 471.8h0M429.0 523.0h0M418.7 454.0h0M403.5 523.3h0M403.4 480.4h0M453.2 506.9h0M437.5 511.6h0M397.0 517.8h0M406.4 497.8h0M400.3 503.7h0M416.1 484.5h0M485.2 488.2h0M454.1 462.6h0M426.3 479.0h0M435.5 476.9h0M401.1 496.6h0M420.2 461.3h0M401.4 516.5h0M405.8 518.2h0M409.2 519.8h0M426.9 516.7h0M434.5 516.7h0M455.7 457.8h0M419.9 461.8h0M454.8 473.1h0M441.5 475.1h0M419.5 455.6h0M418.6 459.9h0M421.4 476.0h0M447.2 461.7h0M401.2 489.0h0M460.2 487.5h0M409.4 478.9h0M412.2 456.1h0M449.5 506.0h0M418.7 513.8h0M424.8 518.6h0M408.7 479.1h0M403.7 476.4h0M481.5 462.2h0M469.1 487.4h0M419.3 519.2h0M435.8 497.4h0M490.5 476.6h0M423.8 514.8h0M429.4 493.3h0M399.8 486.3h0M402.3 451.8h0M399.4 520.6h0M448.9 497.2h0M406.1 473.8h0M438.5 455.0h0M446.6 462.6h0M430.5 472.4h0M440.4 450.5h0M419.1 511.9h0M399.4 507.2h0M420.9 523.2h0M398.0 479.2h0M431.3 502.6h0M450.9 456.7h0M435.9 470.4h0M455.6 474.2h0M412.0 510.1h0M467.5 462.6h0M480.3 482.6h0M450.2 462.6h0M432.4 500.2h0M424.5 465.3h0M468.2 460.2h0M444.2 456.7h0M476.5 504.7h0M394.9 464.8h0M402.5 474.5h0M461.5 460.8h0M398.7 487.8h0M396.9 497.6h0M404.2 486.1h0M469.2 463.5h0M404.9 468.6h0M400.6 454.5h0M456.9 459.2h0M450.0 505.9h0M445.6 515.0h0M448.4 505.1h0M470.4 499.3h0M458.2 462.5h0M437.2 469.2h0M394.2 460.0h0M445.0 455.9h0M397.0 487.1h0M474.4 478.8h0M462.8 510.1h0M429.0 511.3h0M398.1 484.3h0M429.0 515.7h0M423.5 466.1h0M468.8 469.9h0M397.6 486.2h0M435.8 488.3h0M459.4 489.9h0M397.4 502.2h0M439.6 502.6h0M475.4 498.9h0M436.2 517.4h0M474.3 462.2h0M428.2 508.8h0M417.1 492.5h0M415.5 466.7h0M447.7 499.1h0M459.7 464.5h0M436.0 473.1h0M443.1 483.5h0M433.2 514.6h0M452.2 522.8h0M398.0 520.3h0M446.9 519.1h0M445.4 512.1h0M439.3 472.7h0M400.9 498.9h0M406.6 482.1h0M396.1 510.7h0M444.3 475.5h0M423.3 470.1h0M394.4 514.9h0M451.1 458.1h0M403.6 477.7h0M404.7 499.1h0M438.6 451.3h0M407.1 478.6h0M480.8 495.4h0M472.1 458.7h0M429.4 483.0h0M413.7 456.5h0M426.8 486.2h0M487.6 505.9h0M397.0 515.3h0M436.2 484.6h0M409.4 455.1h0M422.7 514.6h0" stroke="#864a4c" stroke-width="1.60" stroke-linecap="round" fill="none" opacity="0.85"/>
<path d="M400.5 465.2h0M455.3 512.1h0M413.4 516.2h0M436.4 477.5h0M435.0 509.1h0M423.5 486.5h0M401.6 521.6h0M410.9 511.9h0M401.5 522.2h0M484.6 480.5h0M432.3 460.6h0M435.0 520.6h0M433.6 470.9h0M443.1 495.6h0M401.5 503.4h0M397.7 472.9h0M445.2 511.1h0M465.7 494.3h0M439.4 486.4h0M450.7 471.3h0M408.4 481.8h0M434.5 453.0h0M410.1 451.1h0M409.0 481.7h0M489.3 455.2h0M439.2 510.1h0M399.3 500.6h0M456.8 481.9h0M461.0 451.2h0M435.0 507.4h0M410.7 477.6h0M405.6 480.2h0M461.8 513.8h0M397.5 485.5h0M436.5 500.1h0M435.9 477.2h0M462.4 458.9h0M433.3 518.6h0M469.3 470.6h0M485.0 493.4h0M444.9 500.7h0M427.4 476.4h0M415.1 474.5h0M471.7 466.9h0M459.0 462.0h0M491.5 505.5h0M404.4 505.6h0M393.4 483.2h0M460.8 457.9h0M442.6 493.4h0M415.2 484.3h0M435.0 520.8h0M396.8 520.4h0M413.5 483.7h0M403.2 512.6h0M429.1 517.7h0M422.6 515.2h0M480.2 512.9h0M448.9 456.5h0M417.2 461.0h0M399.8 482.5h0M433.8 494.4h0M424.9 457.0h0M443.4 506.2h0M446.5 500.5h0M491.3 476.7h0M429.4 497.8h0M405.4 471.3h0M439.2 503.6h0M396.6 462.7h0M464.9 523.1h0M430.1 519.0h0M474.1 475.3h0M476.2 523.3h0M439.9 450.9h0M413.3 467.4h0M449.4 464.5h0M443.4 513.7h0M470.7 474.5h0M425.3 497.6h0M463.3 457.8h0M434.0 468.7h0M418.3 481.1h0M412.8 460.6h0M459.0 455.1h0M450.9 472.9h0M425.4 516.8h0M483.7 477.6h0M421.9 482.9h0M411.8 492.9h0M412.1 470.1h0M451.3 455.7h0M422.1 503.9h0M439.9 457.9h0M418.7 455.7h0M438.5 457.6h0M424.9 515.1h0M446.7 493.2h0M423.5 482.0h0M423.5 457.1h0M461.1 457.9h0M467.7 517.2h0M449.1 498.9h0M410.6 456.7h0M481.9 471.0h0M404.5 506.7h0M469.1 479.8h0M397.5 487.2h0M420.7 482.7h0M432.0 515.0h0M454.3 504.7h0M395.1 505.2h0M412.7 457.3h0M440.7 499.0h0M462.8 456.0h0M407.4 494.6h0M460.8 511.1h0M436.4 475.0h0M448.1 465.4h0M399.2 484.3h0M438.1 501.1h0M399.2 516.3h0M476.6 476.0h0M414.6 519.5h0M412.6 514.1h0M423.8 471.8h0M411.1 484.3h0M402.1 478.9h0M421.7 514.9h0M407.3 488.1h0M455.7 455.3h0M428.5 483.6h0M470.6 522.5h0M399.5 506.9h0M487.2 499.9h0M420.0 498.3h0M437.5 476.2h0M421.4 507.6h0M403.2 508.5h0M432.3 511.3h0M464.6 460.2h0M405.0 459.2h0M418.7 452.2h0M432.3 478.5h0M472.7 484.0h0M463.4 463.4h0M422.6 510.1h0M438.7 500.9h0M403.3 494.0h0M434.8 507.2h0M449.3 452.4h0M491.7 483.6h0M399.3 484.9h0M453.1 496.5h0M437.7 502.6h0M421.0 467.6h0M437.3 509.2h0M433.3 452.9h0M397.5 455.1h0M397.2 501.2h0M434.8 471.2h0M411.1 481.4h0M408.4 487.7h0M411.0 488.4h0M423.9 497.3h0M440.1 501.7h0M402.0 450.7h0M458.4 517.2h0M437.0 488.4h0M400.5 453.7h0M477.3 501.8h0M434.7 497.5h0M423.8 461.0h0M399.1 513.9h0M468.5 512.8h0M417.5 460.5h0M424.4 472.1h0M445.9 502.8h0M445.0 450.5h0M427.1 521.5h0M399.4 509.1h0M435.2 514.7h0M469.4 477.5h0M397.4 483.1h0M454.6 506.4h0M431.8 519.9h0M435.1 480.2h0M438.6 520.6h0M425.9 515.3h0M436.5 502.0h0M457.0 496.1h0M452.3 521.9h0M409.6 461.7h0M415.4 494.1h0M443.1 492.7h0M400.5 506.5h0M399.6 518.4h0M471.1 478.4h0M420.0 457.8h0M440.6 450.8h0M452.4 480.6h0M421.1 469.4h0M411.9 451.5h0M413.4 515.5h0M396.7 452.0h0M429.2 519.9h0M436.9 506.9h0M409.5 481.7h0M470.6 489.9h0M473.1 453.7h0M431.5 472.7h0M397.1 504.4h0M396.7 519.9h0M445.8 453.9h0M468.8 521.2h0M417.9 505.3h0M406.2 469.2h0M431.6 514.6h0M441.5 523.1h0M440.7 455.2h0M407.0 509.2h0M415.4 486.8h0M447.1 499.8h0M449.3 462.9h0M455.4 466.9h0M443.7 452.7h0M420.3 459.9h0M456.3 456.8h0M412.6 452.6h0M404.1 472.8h0M432.6 514.3h0M434.4 498.4h0M441.2 495.9h0M455.7 511.4h0M488.9 479.8h0M457.8 458.1h0M396.5 464.9h0M405.8 480.0h0M432.1 507.3h0M397.2 488.7h0M450.1 466.1h0M393.8 516.4h0M456.1 514.1h0M461.3 521.9h0M450.1 465.6h0M400.5 512.9h0M454.2 507.3h0M419.0 511.8h0M463.9 495.2h0M461.5 495.1h0M402.5 497.4h0M444.2 515.2h0M425.7 518.2h0M406.1 498.9h0M398.2 482.5h0M430.9 477.1h0M399.3 516.9h0M413.1 468.1h0M438.6 467.5h0M395.2 515.7h0M424.7 456.1h0M400.9 520.4h0M485.5 498.6h0M481.6 467.3h0M448.4 505.9h0M414.9 473.2h0M414.3 465.7h0M402.5 513.0h0M433.0 517.3h0M426.2 495.9h0M439.1 483.9h0M398.2 521.4h0M472.3 488.0h0M414.3 519.6h0M448.2 467.9h0M441.8 511.0h0M445.3 515.1h0M458.8 479.7h0M446.8 498.5h0M442.7 472.3h0M416.1 454.5h0M440.8 501.5h0M399.3 503.0h0M412.3 451.9h0M443.5 523.2h0M435.2 505.0h0M398.4 486.1h0M412.2 454.0h0M397.9 503.4h0M478.8 465.8h0M423.2 520.6h0M484.0 487.5h0M408.8 471.4h0M394.0 471.8h0M462.1 507.2h0M404.9 494.5h0M395.2 463.2h0M398.1 455.5h0M396.6 474.0h0M425.1 486.9h0M402.4 488.1h0M457.7 490.0h0M471.2 460.6h0M445.2 465.9h0M464.4 499.9h0M411.1 511.0h0M407.1 461.2h0M395.7 509.3h0M405.1 502.5h0M429.3 451.5h0M401.2 506.7h0M452.3 484.8h0M424.4 501.9h0M402.8 455.0h0M432.1 510.9h0M441.1 471.7h0M451.4 515.6h0M400.6 486.7h0M394.8 507.3h0M463.5 505.8h0M402.7 461.8h0M453.8 467.1h0M475.4 513.2h0M442.6 453.7h0M471.9 478.9h0M400.5 522.3h0M414.9 453.7h0M409.8 483.6h0M407.0 497.0h0M405.7 498.6h0M436.6 487.5h0M418.9 463.9h0M437.9 513.0h0M421.8 470.4h0M414.0 492.4h0M421.1 462.9h0M426.8 462.9h0M421.4 500.5h0M437.9 473.0h0M452.9 513.0h0M423.3 514.9h0M459.8 466.1h0M415.0 494.8h0M438.7 505.6h0M435.0 516.5h0M442.0 498.6h0M407.5 496.5h0M451.4 521.5h0M423.7 469.6h0M432.6 498.2h0" stroke="#aa7c78" stroke-width="1.50" stroke-linecap="round" fill="none" opacity="1.0"/>
</g>
<ellipse cx="412.3" cy="500.6" rx="5.6" ry="5.4" fill="#f6f2f4" filter="url(#bl1)"/>
</g>
<text x="8.00" y="553.10" font-size="13.5" fill="#161616" stroke="#161616" stroke-width="0" text-anchor="start">D</text>
<line x1="43.20" y1="560.00" x2="43.20" y2="702.50" stroke="#2c2c2c" stroke-width="1.0"/>
<line x1="40.00" y1="702.00" x2="43.20" y2="702.00" stroke="#2c2c2c" stroke-width="1.0"/>
<text x="35.90" y="704.95" font-size="8.86" fill="#161616" stroke="#161616" stroke-width="0.1" text-anchor="end" textLength="4.43" lengthAdjust="spacingAndGlyphs">0</text>
<line x1="40.00" y1="678.97" x2="43.20" y2="678.97" stroke="#2c2c2c" stroke-width="1.0"/>
<text x="35.90" y="681.92" font-size="8.86" fill="#161616" stroke="#161616" stroke-width="0.1" text-anchor="end" textLength="8.86" lengthAdjust="spacingAndGlyphs">20</text>
<line x1="40.00" y1="655.93" x2="43.20" y2="655.93" stroke="#2c2c2c" stroke-width="1.0"/>
<text x="35.90" y="658.89" font-size="8.86" fill="#161616" stroke="#161616" stroke-width="0.1" text-anchor="end" textLength="8.86" lengthAdjust="spacingAndGlyphs">40</text>
<line x1="40.00" y1="632.90" x2="43.20" y2="632.90" stroke="#2c2c2c" stroke-width="1.0"/>
<text x="35.90" y="635.85" font-size="8.86" fill="#161616" stroke="#161616" stroke-width="0.1" text-anchor="end" textLength="8.86" lengthAdjust="spacingAndGlyphs">60</text>
<line x1="40.00" y1="609.87" x2="43.20" y2="609.87" stroke="#2c2c2c" stroke-width="1.0"/>
<text x="35.90" y="612.82" font-size="8.86" fill="#161616" stroke="#161616" stroke-width="0.1" text-anchor="end" textLength="8.86" lengthAdjust="spacingAndGlyphs">80</text>
<line x1="40.00" y1="586.83" x2="43.20" y2="586.83" stroke="#2c2c2c" stroke-width="1.0"/>
<text x="35.90" y="589.79" font-size="8.86" fill="#161616" stroke="#161616" stroke-width="0.1" text-anchor="end" textLength="13.28" lengthAdjust="spacingAndGlyphs">100</text>
<line x1="40.00" y1="563.80" x2="43.20" y2="563.80" stroke="#2c2c2c" stroke-width="1.0"/>
<text x="35.90" y="566.75" font-size="8.86" fill="#161616" stroke="#161616" stroke-width="0.1" text-anchor="end" textLength="13.28" lengthAdjust="spacingAndGlyphs">120</text>
<line x1="42.70" y1="702.00" x2="106.40" y2="702.00" stroke="#2c2c2c" stroke-width="1.0"/>
<line x1="43.40" y1="702.00" x2="43.40" y2="705.20" stroke="#2c2c2c" stroke-width="1.0"/>
<line x1="73.30" y1="702.00" x2="73.30" y2="705.20" stroke="#2c2c2c" stroke-width="1.0"/>
<line x1="103.00" y1="702.00" x2="103.00" y2="705.20" stroke="#2c2c2c" stroke-width="1.0"/>
<rect x="47.40" y="587.20" width="7.40" height="114.80" fill="#656972"/>
<line x1="51.10" y1="587.20" x2="51.10" y2="583.80" stroke="#3c3c3c" stroke-width="0.9"/>
<line x1="49.50" y1="583.80" x2="52.70" y2="583.80" stroke="#3c3c3c" stroke-width="1.0"/>
<rect x="54.80" y="648.50" width="7.50" height="53.50" fill="#a2333f"/>
<line x1="58.55" y1="648.50" x2="58.55" y2="639.70" stroke="#3c3c3c" stroke-width="0.9"/>
<line x1="56.95" y1="639.70" x2="60.15" y2="639.70" stroke="#3c3c3c" stroke-width="1.0"/>
<rect x="62.30" y="668.00" width="7.70" height="34.00" fill="#d29c89"/>
<line x1="66.15" y1="668.00" x2="66.15" y2="662.80" stroke="#3c3c3c" stroke-width="0.9"/>
<line x1="64.55" y1="662.80" x2="67.75" y2="662.80" stroke="#3c3c3c" stroke-width="1.0"/>
<rect x="77.40" y="587.00" width="7.20" height="115.00" fill="#656972"/>
<line x1="81.00" y1="587.00" x2="81.00" y2="584.10" stroke="#3c3c3c" stroke-width="0.9"/>
<line x1="79.40" y1="584.10" x2="82.60" y2="584.10" stroke="#3c3c3c" stroke-width="1.0"/>
<rect x="84.60" y="629.10" width="7.40" height="72.90" fill="#a2333f"/>
<line x1="88.30" y1="629.10" x2="88.30" y2="625.40" stroke="#3c3c3c" stroke-width="0.9"/>
<line x1="86.70" y1="625.40" x2="89.90" y2="625.40" stroke="#3c3c3c" stroke-width="1.0"/>
<rect x="92.00" y="612.80" width="7.10" height="89.20" fill="#d29c89"/>
<line x1="95.55" y1="612.80" x2="95.55" y2="609.80" stroke="#3c3c3c" stroke-width="0.9"/>
<line x1="93.95" y1="609.80" x2="97.15" y2="609.80" stroke="#3c3c3c" stroke-width="1.0"/>
<text x="50.50" y="715.70" font-size="8.86" fill="#161616" stroke="#161616" stroke-width="0.1" text-anchor="start" textLength="13.20" lengthAdjust="spacingAndGlyphs">DEL</text>
<text x="73.20" y="716.00" font-size="8.86" fill="#161616" stroke="#161616" stroke-width="0.1" text-anchor="start" textLength="28.40" lengthAdjust="spacingAndGlyphs">Karpas-</text>
<text x="80.70" y="726.50" font-size="8.86" fill="#161616" stroke="#161616" stroke-width="0.1" text-anchor="start" textLength="14.40" lengthAdjust="spacingAndGlyphs">299</text>
<text x="17.70" y="630.70" font-size="9.6" fill="#161616" stroke="#161616" stroke-width="0.22" text-anchor="middle" textLength="143.00" lengthAdjust="spacingAndGlyphs" transform="rotate(-90 17.70 630.70)">Relative PD-L1 mRNA expression</text>
<text x="113.00" y="635.90" font-size="8.64" fill="#161616" stroke="#161616" stroke-width="0.1" text-anchor="start" textLength="23.40" lengthAdjust="spacingAndGlyphs">sgRNA</text>
<line x1="108.30" y1="641.10" x2="146.30" y2="641.10" stroke="#3a3a30" stroke-width="1.0"/>
<rect x="111.10" y="644.60" width="6.50" height="5.80" fill="#656972"/>
<rect x="111.10" y="654.10" width="6.50" height="5.70" fill="#a2333f"/>
<rect x="111.10" y="663.50" width="6.50" height="5.80" fill="#d29c89"/>
<text x="120.10" y="650.00" font-size="8.64" fill="#161616" stroke="#161616" stroke-width="0.1" text-anchor="start" textLength="18.00" lengthAdjust="spacingAndGlyphs">CTRL</text>
<text x="120.10" y="659.60" font-size="8.64" fill="#161616" stroke="#161616" stroke-width="0.1" text-anchor="start" textLength="25.00" lengthAdjust="spacingAndGlyphs">IRF4 #1</text>
<text x="120.10" y="668.90" font-size="8.64" fill="#161616" stroke="#161616" stroke-width="0.1" text-anchor="start" textLength="25.40" lengthAdjust="spacingAndGlyphs">IRF4 #2</text>
<text x="162.80" y="552.40" font-size="13.5" fill="#161616" stroke="#161616" stroke-width="0" text-anchor="start">F</text>
<text x="211.00" y="587.00" font-size="9.2" fill="#161616" stroke="#161616" stroke-width="0.22" text-anchor="start" textLength="79.80" lengthAdjust="spacingAndGlyphs">ALK+ ALCL (n=14)</text>
<text x="199.70" y="605.80" font-size="8.64" fill="#161616" stroke="#161616" stroke-width="0.1" text-anchor="start" textLength="39.10" lengthAdjust="spacingAndGlyphs">rs: 0.64327</text>
<text x="199.70" y="616.60" font-size="8.64" fill="#161616" stroke="#161616" stroke-width="0.1" text-anchor="start" textLength="37.60" lengthAdjust="spacingAndGlyphs">p: 0.01307</text>
<line x1="193.70" y1="607.20" x2="193.70" y2="702.40" stroke="#2c2c2c" stroke-width="1.0"/>
<line x1="193.20" y1="701.90" x2="316.80" y2="701.90" stroke="#2c2c2c" stroke-width="1.0"/>
<line x1="190.70" y1="701.90" x2="193.70" y2="701.90" stroke="#2c2c2c" stroke-width="1.0"/>
<text x="186.40" y="704.80" font-size="8.86" fill="#161616" stroke="#161616" stroke-width="0.1" text-anchor="end" textLength="4.43" lengthAdjust="spacingAndGlyphs">0</text>
<line x1="190.70" y1="675.70" x2="193.70" y2="675.70" stroke="#2c2c2c" stroke-width="1.0"/>
<text x="186.40" y="678.60" font-size="8.86" fill="#161616" stroke="#161616" stroke-width="0.1" text-anchor="end" textLength="4.43" lengthAdjust="spacingAndGlyphs">4</text>
<line x1="190.70" y1="649.50" x2="193.70" y2="649.50" stroke="#2c2c2c" stroke-width="1.0"/>
<text x="186.40" y="652.40" font-size="8.86" fill="#161616" stroke="#161616" stroke-width="0.1" text-anchor="end" textLength="4.43" lengthAdjust="spacingAndGlyphs">8</text>
<line x1="190.70" y1="623.30" x2="193.70" y2="623.30" stroke="#2c2c2c" stroke-width="1.0"/>
<text x="186.40" y="626.20" font-size="8.86" fill="#161616" stroke="#161616" stroke-width="0.1" text-anchor="end" textLength="8.86" lengthAdjust="spacingAndGlyphs">12</text>
<line x1="192.10" y1="688.80" x2="193.70" y2="688.80" stroke="#2c2c2c" stroke-width="1.0"/>
<line x1="192.10" y1="662.60" x2="193.70" y2="662.60" stroke="#2c2c2c" stroke-width="1.0"/>
<line x1="192.10" y1="636.40" x2="193.70" y2="636.40" stroke="#2c2c2c" stroke-width="1.0"/>
<line x1="192.10" y1="610.20" x2="193.70" y2="610.20" stroke="#2c2c2c" stroke-width="1.0"/>
<line x1="193.70" y1="701.90" x2="193.70" y2="704.70" stroke="#2c2c2c" stroke-width="1.0"/>
<text x="193.70" y="715.40" font-size="8.86" fill="#161616" stroke="#161616" stroke-width="0.1" text-anchor="middle">0</text>
<line x1="207.05" y1="701.90" x2="207.05" y2="703.60" stroke="#2c2c2c" stroke-width="1.0"/>
<line x1="220.40" y1="701.90" x2="220.40" y2="704.70" stroke="#2c2c2c" stroke-width="1.0"/>
<text x="220.40" y="715.40" font-size="8.86" fill="#161616" stroke="#161616" stroke-width="0.1" text-anchor="middle">2</text>
<line x1="233.75" y1="701.90" x2="233.75" y2="703.60" stroke="#2c2c2c" stroke-width="1.0"/>
<line x1="247.10" y1="701.90" x2="247.10" y2="704.70" stroke="#2c2c2c" stroke-width="1.0"/>
<text x="247.10" y="715.40" font-size="8.86" fill="#161616" stroke="#161616" stroke-width="0.1" text-anchor="middle">4</text>
<line x1="260.45" y1="701.90" x2="260.45" y2="703.60" stroke="#2c2c2c" stroke-width="1.0"/>
<line x1="273.80" y1="701.90" x2="273.80" y2="704.70" stroke="#2c2c2c" stroke-width="1.0"/>
<text x="273.80" y="715.40" font-size="8.86" fill="#161616" stroke="#161616" stroke-width="0.1" text-anchor="middle">6</text>
<line x1="287.15" y1="701.90" x2="287.15" y2="703.60" stroke="#2c2c2c" stroke-width="1.0"/>
<line x1="300.50" y1="701.90" x2="300.50" y2="704.70" stroke="#2c2c2c" stroke-width="1.0"/>
<text x="300.50" y="715.40" font-size="8.86" fill="#161616" stroke="#161616" stroke-width="0.1" text-anchor="middle">8</text>
<line x1="313.85" y1="701.90" x2="313.85" y2="703.60" stroke="#2c2c2c" stroke-width="1.0"/>
<text x="224.40" y="728.50" font-size="10.4" fill="#161616" stroke="#161616" stroke-width="0.22" text-anchor="start" textLength="62.00" lengthAdjust="spacingAndGlyphs">IRF4 IHC score</text>
<text x="172.40" y="654.10" font-size="10.4" fill="#161616" stroke="#161616" stroke-width="0.22" text-anchor="middle" textLength="69.00" lengthAdjust="spacingAndGlyphs" transform="rotate(-90 172.40 654.10)">PD-L1 IHC score</text>
<line x1="193.70" y1="689.30" x2="299.80" y2="623.80" stroke="#1a1a1a" stroke-width="1.5"/>
<circle cx="193.70" cy="701.90" r="2.3" fill="#a3283c"/>
<circle cx="193.70" cy="688.80" r="2.3" fill="#a3283c"/>
<circle cx="220.40" cy="701.90" r="2.3" fill="#a3283c"/>
<circle cx="220.40" cy="649.50" r="2.3" fill="#a3283c"/>
<circle cx="233.75" cy="675.70" r="2.3" fill="#a3283c"/>
<circle cx="247.10" cy="623.30" r="2.3" fill="#a3283c"/>
<circle cx="273.80" cy="623.30" r="2.3" fill="#a3283c"/>
<circle cx="273.80" cy="649.50" r="2.3" fill="#a3283c"/>
<circle cx="273.80" cy="662.60" r="2.3" fill="#a3283c"/>
<circle cx="300.50" cy="623.30" r="2.3" fill="#a3283c"/>
</svg>
</body></html>
